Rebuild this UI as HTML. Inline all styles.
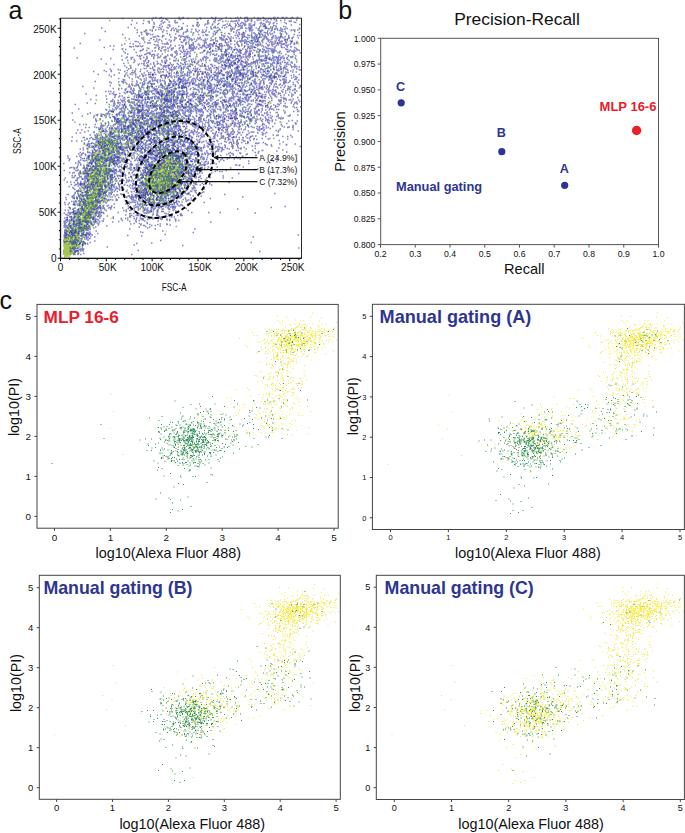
<!DOCTYPE html>
<html><head><meta charset="utf-8"><style>
html,body{margin:0;padding:0;background:#fff;width:685px;height:833px;overflow:hidden}
svg{display:block;font-family:"Liberation Sans", sans-serif}
</style></head><body>
<svg width="685" height="833" viewBox="0 0 685 833">
<g><path transform="scale(0.5)" stroke="#2e32a6" stroke-width="2.9" stroke-opacity="0.6" fill="none" d="M167 288h3m-13 104h3m3 28h3m37-55h3m-52 74h3m9-91h3m-4 109h3m59-135h3m-16 71h3m24-115h3m16 0h3m-62 36h3m-77 156h3m80-160h3m7-18h3m9 19h3m-105 145h3m22 13h3m54-180h3m-43-12h3m19 169h3m-54-21h3m68-67h3m-74 146h3m84-232h3m-75-23h3m122 67h3m-69 3h3m-82 115h3m35-151h3m-11 108h3m-1 43h3m55-228h3m-44 163h3m37-57h3m-60 123h3m55-109h3m-85 179h3m144-261h3m-137 22h3m-7 106h3m21 34h3m35-147h3m-22 30h3m3 123h3m-63 48h3m55-98h3m-28 46h3m-34 65h3m14 27h3m34-111h3m31-81h3m-33 109h3m-20-122h3m-61 152h3m138-182h3m-22-23h3m-48 144h3m-44 7h3m3 82h3m48-273h3m-20 161h3m-19-30h3m4-48h3m74 11h3m-148 158h3m58-137h3m30-57h3m-15 61h3m-9 3h3m-14 92h3m-32 74h3m28-188h3m10 52h3m31-66h3m-89 205h3m71-184h3m3-38h3m-31-8h3m-24 70h3m-39 118h3m4-69h3m68-2h3m-11 4h3m-22-66h3m29 5h3m-88 178h3m41-93h3m39-91h3m-105 113h3m-7-10h3m42-68h3m25 9h3m-35-106h3m38 166h3m-22-40h3m0 16h3m48-18h3m-102 15h3m29 73h3m-22-23h3m48-109h3m0 45h3m-58 15h3m35-45h3m-4 28h3m-18-20h3m27 32h3m-66-11h3m66-51h3m-72 81h3m39 21h3m-26-39h3m113-135h3m-107 152h3m-31-4h3m42-148h3m-72 104h3m45-46h3m-13 7h3m-37 78h3m83-68h3m-41 89h3m-42 63h3m44-88h3m-34 45h3m56-189h3m-76 152h3m51-13h3m10-4h3m-39-7h3m83-49h3m-103-25h3m60-1h3m-16 95h3m-11-123h3m-42 33h3m-1 58h3m-11 84h3m20-74h3m81-106h3m-56-36h3m-36 53h3m-24 20h3m4 9h3m-23 34h3m12-39h3m2 182h3m-12 7h3m30-82h3m-18-63h3m59-43h3m-27 31h3m-71 92h3m148-194h3m-115 33h3m35 40h3m-29 106h3m-45 41h3m36-191h3m-12 129h3m-25 62h3m-23 21h3m63-222h3m-21 86h3m-23 69h3m68-165h3m-92 100h3m-5-13h3m88-61h3m-100 58h3m50-18h3m1 90h3m13-95h3m-17-27h3m4 41h3m29-32h3m-78 167h3m30-128h3m-47 87h3m43-81h3m28-29h3m-59 178h3m54-269h3m-51 197h3m-27-18h3m42-91h3m-17 8h3m64-55h3m-75 74h3m13 32h3m-27-39h3m-35 82h3m30-118h3m19 73h3m-4-70h3m29 53h3m-14-84h3m-12 101h3m-33-19h3m-11 3h3m32-72h3m22 107h3m-63 64h3m-11-100h3m34-56h3m4 32h3m5 52h3m-20-41h3m-72 147h3m-2-29h3m37-32h3m48-55h3m-25-137h3m22 67h3m-16-41h3m-73 214h3m70-135h3m-27-60h3m20 138h3m-2 5h3m-59-88h3m59-54h3m-42 62h3m-3 90h3m74-139h3m-80 14h3m-28 52h3m-7 93h3m16-73h3m-27 91h3m39-221h3m25 31h3m-95 169h3m63-143h3m40 35h3m-47-80h3m65-10h3m-38 100h3m-1-53h3m-67 137h3m-5-9h3m28-24h3m-36 102h3m49-163h3m12 2h3m-98 117h3m86-202h3m-2 121h3m3-3h3m-62 5h3m56-66h3m-99 144h3m29-82h3m46-11h3m-60 144h3m53-158h3m-10 43h3m-74 47h3m58-157h3m16 22h3m-35 7h3m-27 125h3m33-17h3m-6-145h3m52 6h3m-98 64h3m47-109h3m-30 97h3m61-30h3m-35-6h3m-35 54h3m-25 22h3m59-27h3m-61 40h3m39-84h3m-70 131h3m54-150h3m23 2h3m20 23h3m-104 105h3m-1 31h3m78-113h3m-12 35h3m1 10h3m-21-95h3m-21 174h3m-34-30h3m22-56h3m-35 53h3m71-155h3m-26 131h3m-28 108h3m68-240h3m-3 41h3m-56 42h3m-24 124h3m3-32h3m-16-30h3m21 78h3m-36 21h3m26-135h3m-32 79h3m14 19h3m44-99h3m-43 56h3m-18-18h3m-25 22h3m77-154h3m20 11h3m-95 88h3m44-9h3m-6-51h3m4 0h3m-58 140h3m19-56h3m10 75h3m3-167h3m12 108h3m-13-36h3m33-65h3m-90 107h3m93-113h3m-73 46h3m120-122h3m-95 141h3m-50 70h3m129-149h3m-108 176h3m7-131h3m10 111h3m6-71h3m24-40h3m-10 2h3m-55 90h3m66-97h3m-84 19h3m-24 94h3m47-198h3m44 77h3m-20-21h3m-67 35h3m15 56h3m-33 53h3m31-121h3m13 93h3m-44 20h3m8-56h3m39-31h3m-11-65h3m-16 109h3m-27-30h3m-19 99h3m89-116h3m-80 60h3m-1-101h3m-30 145h3m74-182h3m-56 144h3m83-123h3m-10-52h3m-93 204h3m107-126h3m-88-3h3m-13 95h3m-32-23h3m27 2h3m-13-50h3m16 2h3m57-17h3m-22 106h3m-34-3h3m-13 32h3m30-232h3m-46 145h3m4-32h3m31-46h3m30 9h3m0-12h3m-96 173h3m58-199h3m-49 217h3m63-155h3m-32-50h3m16 60h3m-10-3h3m-26-72h3m-52 187h3m18-80h3m72 19h3m-91 100h3m21-179h3m68-13h3m-71 177h3m16-36h3m-37-42h3m21-34h3m6-79h3m-3 131h3m65-148h3m-107 228h3m13-39h3m4-59h3m8-122h3m37 38h3m-63 48h3m-41 92h3m27 45h3m0-12h3m-14-130h3m3 71h3m35-38h3m-56 6h3m36 54h3m-12-74h3m-17 16h3m28 30h3m-13 8h3m57-112h3m-70 43h3m-7-16h3m37-69h3m-49 82h3m7 4h3m-20 68h3m-33-88h3m58-36h3m-29-23h3m28 18h3m78-61h3m-149 238h3m103-232h3m13 65h3m-76 5h3m-41 101h3m-7 54h3m18-47h3m-14 15h3m32-67h3m24-21h3m-52-25h3m17-34h3m-21 211h3m40-126h3m-10 50h3m-46-1h3m60-141h3m-3-61h3m-89 172h3m32-58h3m49 9h3m-91 131h3m93-156h3m-25 104h3m13-129h3m-80 173h3m64-136h3m-11-22h3m26-21h3m-51 22h3m-34 181h3m1-121h3m74-43h3m-34 49h3m-45-80h3m81-3h3m-97 121h3m61-64h3m-87 103h3m11 19h3m81-131h3m-15-44h3m-44-71h3m-19 211h3m38-60h3m24-50h3m-84 62h3m55-18h3m-20-12h3m-36 142h3m37-163h3m-21 97h3m-28 66h3m10-145h3m17 60h3m9-19h3m-33 92h3m-20-43h3m67-171h3m15 50h3m-29 15h3m-19-32h3m62 0h3m-111 167h3m-13-43h3m92-180h3m-82 164h3m-26 35h3m113-142h3m-110 185h3m27-154h3m12-33h3m22 103h3m-47-37h3m38-16h3m-58 118h3m11-130h3m-30 117h3m20-59h3m55-138h3m-71 242h3m26-206h3m35 20h3m-58 147h3m23-24h3m-16-23h3m-1-59h3m20 61h3m-3-130h3m-81 156h3m65-139h3m57-24h3m-37 51h3m-34-9h3m-41 6h3m50-36h3m2-9h3m22 27h3m-1-57h3m-91 198h3m-5 13h3m74-239h3m-69 161h3m26 40h3m-32 15h3m57-63h3m4-49h3m-22 101h3m30-113h3m4-72h3m28 49h3m-94 30h3m-15 22h3m26 88h3m-5-127h3m-25 17h3m39-62h3m-48 49h3m35-16h3m-66 162h3m52-38h3m-75 16h3m34-14h3m10-72h3m11-48h3m-2-16h3m-16 88h3m23-59h3m-7-18h3m16 79h3m-56 43h3m14-2h3m-4 14h3m-26-74h3m-29 87h3m101-202h3m-83 145h3m33-147h3m-36 222h3m-24-5h3m64-95h3m14-153h3m-59 173h3m-45 101h3m-5 7h3m69-236h3m-34 121h3m-22-47h3m28 102h3m4 25h3m-22-111h3m-5 92h3m-3-35h3m16-108h3m72-17h3m-101 48h3m90-105h3m-77 53h3m49-50h3m-52 209h3m32-57h3m-7-97h3m-27 53h3m45-78h3m-101 223h3m117-202h3m-126 184h3m-16-23h3m18-80h3m5 15h3m-32 123h3m79-189h3m-58 58h3m18-53h3m21 116h3m-25-38h3m-36 24h3m49-26h3m-8 20h3m-2-47h3m-29 2h3m92-99h3m-104 211h3m87-189h3m-26 71h3m-44 73h3m-46 59h3m49-63h3m5-15h3m-48-94h3m102-45h3m-51 110h3m26-85h3m-93 167h3m65-23h3m6-138h3m-98 39h3m78 13h3m-62 151h3m38-195h3m0 4h3m-12-38h3m1 0h3m33 21h3m-68 111h3m47-13h3m-17-106h3m-72 80h3m48 109h3m-48-88h3m52-81h3m29-49h3m-85 143h3m-2 95h3m-18-40h3m30-45h3m-42 31h3m14-52h3m-20 90h3m58-118h3m41-152h3m-25 167h3m-82 89h3m65-56h3m47-150h3m-18 35h3m-66 149h3m3 2h3m-5-147h3m-10 183h3m-38-36h3m48-112h3m-11 129h3m-20-20h3m8-32h3m-22 11h3m29-105h3m37 2h3m-36-52h3m-18 194h3m-23-111h3m83-49h3m-64 1h3m58-2h3m-106 147h3m38-22h3m10 15h3m-3-19h3m-25-16h3m-26 60h3m-5-20h3m26-101h3m-20 107h3m44-177h3m-13 134h3m-1 18h3m-50-63h3m-11 65h3m20 21h3m24-179h3m-39 142h3m21-97h3m-3 28h3m1 22h3m-8-32h3m-15 103h3m-10-47h3m11 15h3m29-101h3m-24 135h3m61-187h3m-46 75h3m-32 42h3m8-84h3m-34 210h3m90-256h3m-94 98h3m55-46h3m8 36h3m-74 78h3m3 88h3m36-209h3m-68 117h3m46-110h3m-61 140h3m21 61h3m41-172h3m14 76h3m-7-92h3m-63 174h3m22-102h3m39-32h3m-29 105h3m1-102h3m-21-70h3m17 148h3m-18-74h3m-50-44h3m87-26h3m9 27h3m-90 158h3m7 28h3m31-199h3m-12 4h3m16-31h3m-15 153h3m44-139h3m-52 39h3m-34 64h3m33-69h3m-2 84h3m4-151h3m-42 194h3m49-72h3m1 4h3m41-91h3m-44 54h3m-68 67h3m72-107h3m-62-25h3m57 99h3m-60-65h3m-23 36h3m8 116h3m-3-13h3m47-119h3m-61 146h3m-28-6h3m54-51h3m-57-100h3m16 59h3m48-21h3m-41 7h3m20 77h3m-52 5h3m5-17h3m39-148h3m22 21h3m2 90h3m-66-79h3m8-66h3m-14 213h3m16-3h3m-20-199h3m31 181h3m-22 25h3m-33-31h3m66-102h3m-9-69h3m-43 172h3m-42 42h3m52-44h3m50-72h3m-83 124h3m-17-151h3m6 149h3m50-200h3m-25 133h3m1 28h3m1-170h3m-5 82h3m25 14h3m-32-131h3m24-11h3m-62 234h3m14-201h3m-13 158h3m116-189h3m-115 90h3m57-37h3m-62 93h3m-6 50h3m-20 48h3m30-81h3m7 54h3m50-125h3m-83 33h3m-34-38h3m36 105h3m-53 60h3m43-17h3m61-218h3m-31 30h3m-8 68h3m-19 24h3m-33 31h3m11-24h3m51-127h3m-61 110h3m61-44h3m-79 130h3m-8-17h3m56-125h3m-29 70h3m-41 3h3m78-28h3m4-16h3m-19 67h3m-65 54h3m73-158h3m-63 146h3m-16 58h3m48-139h3m7-92h3m-3 149h3m-37 38h3m-38 30h3m-7-37h3m51-198h3m41 43h3m-117 151h3m71-59h3m-28-59h3m1 112h3m-49 4h3m74-44h3m-68 49h3m79-58h3m-61 90h3m31-84h3m-82 110h3m40-175h3m25-48h3m-45 217h3m-5 6h3m59-242h3m-22 96h3m31-31h3m-31 56h3m15-74h3m-62 158h3m38-128h3m-48-11h3m49 52h3m2-8h3m-56-5h3m32 59h3m-28 48h3m11-128h3m35 7h3m-77 39h3m86-35h3m-65 97h3m3-133h3m10 113h3m-27 33h3m-12-173h3m4 89h3m-48 61h3m68-31h3m-47-50h3m-2-37h3m89 6h3m-60-2h3m31 31h3m-68 114h3m9-59h3m50-118h3m-68 71h3m69-112h3m-6-3h3m-6 80h3m-24 62h3m-32 82h3m-26-167h3m94-12h3m-37 70h3m-33-66h3m4 3h3m46 26h3m-70 135h3m-4-91h3m79-124h3m-103 134h3m22-34h3m59-37h3m-102 38h3m45 21h3m-22-22h3m-8-7h3m-36 95h3m41 22h3m13-144h3m4 40h3m5-86h3m9 83h3m-69-33h3m58-47h3m-63 156h3m48-74h3m9 33h3m-95 60h3m66-59h3m-33 81h3m69-244h3m-50 181h3m26-68h3m-56 25h3m6-41h3m14 23h3m-58 137h3m23-180h3m44 19h3m-15-51h3m-67 114h3m93 12h3m-25-114h3m8 93h3m-23-65h3m-44 90h3m-31 82h3m78-137h3m-26 91h3m-23-86h3m10-61h3m-28 147h3m-33 13h3m29 25h3m23-112h3m16-45h3m-49 165h3m40-209h3m57 49h3m-63 94h3m17-104h3m-97 164h3m87-95h3m1-35h3m-2-61h3m-2 95h3m-57 66h3m0-160h3m-47 172h3m100-184h3m-29 163h3m-54 66h3m72-163h3m-45 57h3m39-143h3m-67 196h3m9-163h3m5 152h3m-29 27h3m75-151h3m-46 147h3m-13-190h3m-28 163h3m57-119h3m-9 82h3m-20 1h3m-58 22h3m23-104h3m6 59h3m97-137h3m-150 217h3m25-115h3m8 55h3m2-14h3m51-12h3m-20 14h3m-85 76h3m81-13h3m-51-62h3m42-90h3m-29 14h3m-28 127h3m30-109h3m-23 53h3m42-78h3m-21 105h3m-18-117h3m23 97h3m-10-142h3m-39 208h3m28-132h3m-29 152h3m-36-33h3m14 11h3m41-84h3m-41 36h3m-11 68h3m-1-69h3m37 6h3m-45 38h3m52-140h3m-54 111h3m-14 3h3m14 40h3m12-42h3m14-119h3m10 115h3m-11-154h3m-68 198h3m12-8h3m91-136h3m-5-58h3m-75 122h3m1-22h3m-26 117h3m77-136h3m-80 154h3m50-197h3m-29 68h3m-26-21h3m-15 58h3m56-124h3m7 23h3m-55 113h3m19-5h3m51-68h3m-112 97h3m36-94h3m-3 27h3m-37-57h3m-2 115h3m102-178h3m-32-33h3m-40 241h3m34-125h3m-58 128h3m-15-46h3m40-23h3m82-121h3m-51 69h3m-29-56h3m-10 21h3m-7 166h3m-32 24h3m34-83h3m26-98h3m-24 63h3m-45 99h3m41-91h3m-76 47h3m-5 16h3m129-205h3m-118 90h3m24-3h3m37-63h3m-64 141h3m1 47h3m12-89h3m-34 68h3m19 16h3m31-194h3m51 64h3m-72 147h3m-36 32h3m-9-19h3m72-134h3m-16 62h3m14-42h3m-17 35h3m35-137h3m-75 20h3m60 75h3m-102 100h3m11-54h3m77-110h3m-89 67h3m51-82h3m51 22h3m-66 116h3m34-28h3m-105 85h3m53-81h3m-48 70h3m19-104h3m46 3h3m14-63h3m-83 52h3m93-103h3m-27 56h3m-31 84h3m-17-75h3m-50 160h3m-2 5h3m2-56h3m16 45h3m-26 6h3m58-76h3m33-55h3m36-47h3m-93-4h3m41 28h3m-45 46h3m-10 56h3m-48 49h3m29-77h3m34-56h3m-6 83h3m-22-43h3m-14 33h3m26-146h3m-12 58h3m-19 158h3m23-174h3m-64 192h3m-7-42h3m70-189h3m-17 177h3m-6-42h3m-59-1h3m120-84h3m-43 77h3m-48 62h3m73-173h3m-44 110h3m-66 31h3m113-101h3m-90-52h3m16 110h3m30-34h3m-53 107h3m-19-100h3m67-47h3m-28 58h3m-63-33h3m24 131h3m28-185h3m-14 169h3m-33-61h3m10 96h3m76-183h3m-122 166h3m39-9h3m12-109h3m-49 129h3m64-141h3m3-7h3m-27 6h3m54-62h3m-77 178h3m-6-117h3m27 87h3m27-132h3m-66 44h3m32 17h3m-11-35h3m-25 38h3m54-27h3m-69 126h3m17-39h3m-35-30h3m30 35h3m-31-35h3m62-94h3m-35 72h3m-28 134h3m11-91h3m12 12h3m14-33h3m-13 58h3m18-77h3m-27 30h3m-48 58h3m49-222h3m-55 224h3m91-120h3m-97 106h3m10-53h3m2-110h3m-17 88h3m5 59h3m42-128h3m-1 50h3m9 66h3m-50 39h3m16-28h3m-42 37h3m-2 11h3m-8 27h3m-21-36h3m-3-25h3m45 33h3m-3-41h3m-44-7h3m26-161h3m6 140h3m-18 80h3m-5-54h3m39-34h3m21-6h3m-43-70h3m-47 145h3m74-137h3m-49 49h3m-30 108h3m-8 13h3m-9 5h3m85-260h3m10 100h3m-74 27h3m11-33h3m-8-5h3m65 35h3m-88 55h3m70-134h3m-58 98h3m71-108h3m-108 193h3m52-65h3m-54-54h3m92-34h3m-37-59h3m-65 131h3m46-98h3m26 5h3m-99 171h3m41-71h3m-9 27h3m5-113h3m-3 92h3m88-97h3m-120 116h3m38-90h3m13 47h3m-77 89h3m28-26h3m83-93h3m-111 88h3m94-105h3m-102 96h3m26-74h3m46-70h3m-30 30h3m-35 164h3m97-245h3m-113 138h3m-8 77h3m48-9h3m14-65h3m-13-34h3m-26 79h3m-12-111h3m-7 67h3m-29 41h3m77-22h3m-48-89h3m88-46h3m-121 175h3m73-75h3m-19 10h3m-47 34h3m11-32h3m-4 95h3m8-121h3m-47 48h3m12 4h3m17-102h3m5-30h3m37-57h3m-15 68h3m-68 153h3m-8-83h3m89-30h3m-46 2h3m37-26h3m2 14h3m-30 78h3m-20-25h3m-13 92h3m40-147h3m-36 112h3m37-133h3m-83 160h3m62-161h3m-87 189h3m76-125h3m-45 39h3m-4 85h3m-4-113h3m34-65h3m-6-4h3m-32 144h3m17-28h3m-24 44h3m94-175h3m-85 159h3m31-114h3m8-27h3m-57 177h3m64-174h3m-88 14h3m86-50h3m-28 83h3m-80 145h3m53-183h3m-51 47h3m60-8h3m-58 128h3m18-56h3m-35 67h3m-12-32h3m83-219h3m-89 198h3m78-100h3m-66 43h3m81-133h3m-22 32h3m-77 62h3m62 62h3m-35-84h3m-56 177h3m-8-5h3m68-199h3m-20 3h3m2 149h3m-23-79h3m-25 150h3m2-46h3m38-140h3m4 20h3m-49 58h3m82-18h3m-40-86h3m-12-3h3m15 37h3m-10 23h3m-56-25h3m-9 142h3m52-192h3m-36 231h3m21-213h3m-62 159h3m94-191h3m-59 193h3m-39-30h3m77-36h3m22-56h3m-17-15h3m-51-48h3m3 180h3m46-197h3m9 45h3m-22 110h3m1-50h3m-13 20h3m-28-81h3m-23 146h3m-21 38h3m37-133h3m3-6h3m21-80h3m1 59h3m-11 49h3m-60-36h3m-2 30h3m38 33h3m1-15h3m34-26h3m-41-18h3m-57 38h3m57 1h3m-14 39h3m-69-47h3m92-94h3m-34 29h3m-2 75h3m-80 30h3m32 44h3m80-165h3m-76 93h3m51-97h3m8 27h3m-95 96h3m84-167h3m-26 108h3m-49-48h3m20 144h3m-16-103h3m-22-19h3m65-26h3m-98 165h3m136-183h3m-9 23h3m-109 92h3m5-1h3m33 28h3m7-116h3m-86 168h3m41-64h3m19 17h3m-45 65h3m89-167h3m-88 53h3m7 2h3m-34 86h3m6-29h3m104-103h3m-128 141h3m64-178h3m-18 38h3m51-50h3m-22 59h3m-35 106h3m36-73h3m-20 13h3m-79 62h3m97-117h3m-61 141h3m-19 29h3m-5-61h3m-16-78h3m7 62h3m22 6h3m8-138h3m-60 62h3m22 78h3m-7 15h3m104-172h3m-123 185h3m71-190h3m9 52h3m-59 151h3m-29-35h3m66-69h3m-42 42h3m22-9h3m-22-36h3m-35 84h3m-13 19h3m37-178h3m21 113h3m-30-8h3m32-73h3m-61 85h3m40-169h3m-10 38h3m-59 211h3m-5-20h3m33 2h3m2-102h3m61-27h3m9-84h3m-85 113h3m-2 75h3m50-145h3m-42 30h3m-32 140h3m110-190h3m-117 121h3m21 25h3m3 0h3m64-108h3m-85 72h3m60-169h3m-62 184h3m8-45h3m78-84h3m-36 10h3m-100 162h3m80-130h3m8 29h3m-51-46h3m39 62h3m41-25h3m-84 101h3m-55-15h3m92-145h3m12-22h3m-44 174h3m-26 54h3m66-258h3m-69 76h3m51-4h3m-18 100h3m-14-15h3m-45 61h3m32-52h3m73-168h3m-111 272h3m-15-138h3m-26 82h3m23-6h3m7 61h3m49-237h3m-56 225h3m153-133h3m57 43h3m-104-60h3m48 62h3m-20-77h3m-19-18h3m63 35h3m-26 96h3m45-50h3m-101-30h3m76 3h3m-96 90h3m84-81h3m-57-18h3m62 27h3m-103 56h3m43-146h3m-30 154h3m38-108h3m-11 16h3m-61 43h3m-13 44h3m103-35h3m-83 41h3m83-79h3m-33-44h3m27 16h3m-103 106h3m68-86h3m16-44h3m-41 15h3m89-78h3m-130 132h3m-24 41h3m58-111h3m-42 123h3m48-75h3m59-54h3m-49 22h3m22-33h3m-70 96h3m73-31h3m-123-6h3m-13 47h3m31-7h3m3-75h3m2 113h3m92-152h3m-117 67h3m113-58h3m-104 43h3m65 58h3m-50 53h3m-10-31h3m1-95h3m55-15h3m-38 49h3m-60 90h3m1-134h3m12 39h3m27-47h3m-44 115h3m91-171h3m-14 89h3m11-5h3m-68 83h3m-3-39h3m-40-22h3m7 41h3m98-60h3m-6-71h3m-32 116h3m-13-94h3m-120 111h3m74 28h3m-74-67h3m37-34h3m52 37h3m-4-49h3m39 122h3m-25-62h3m-11-68h3m-32 101h3m13 54h3m24-67h3m-16-18h3m27-59h3m-12-3h3m-19 93h3m-29-5h3m24-45h3m16 12h3m-97 8h3m59-33h3m-42 40h3m-18-39h3m-37 109h3m-43-28h3m134-23h3m41-22h3m-13-1h3m-115 7h3m2 19h3m13-25h3m-27 43h3m107-11h3m16-35h3m-119 84h3m-6-97h3m-17 61h3m34-22h3m-32-27h3m26-36h3m36 75h3m-58-55h3m-28 50h3m26-66h3m-31 49h3m54-38h3m55-2h3m-94-28h3m7 74h3m-6-31h3m22-67h3m-33 45h3m72 40h3m3-7h3m-37-90h3m21 43h3m-68 34h3m63-48h3m-48 130h3m70-136h3m-149 7h3m85 97h3m32-74h3m-86 14h3m-20 48h3m39 1h3m95-127h3m-132 107h3m-17 41h3m59-41h3m-54 53h3m112-85h3m-20 7h3m-89 39h3m-20 15h3m7-38h3m-11-30h3m36 71h3m-25-39h3m58 20h3m-81 21h3m72-38h3m-35 27h3m80-96h3m-79 77h3m-47 35h3m50-140h3m32 96h3m-117 42h3m-17 26h3m91-46h3m-62 27h3m21-27h3m-30-3h3m-51 48h3m117-131h3m-21 88h3m11-76h3m-11 47h3m65-8h3m-52 15h3m-5-88h3m-23 149h3m-19-48h3m-45-9h3m72-29h3m-19 81h3m27 0h3m-43 6h3m43-141h3m-8 69h3m-77 21h3m-47-25h3m101 21h3m-31-74h3m-56 107h3m43-13h3m37-51h3m-66-5h3m12-41h3m71 88h3m-75 46h3m-45-68h3m84 23h3m25-78h3m-12 104h3m-25-131h3m26 44h3m-87-67h3m97 50h3m9 56h3m-86-58h3m-41 84h3m59-120h3m-85 75h3m22 46h3m-18 18h3m19-76h3m-13 65h3m53-17h3m-112-66h3m160-10h3m-110 93h3m-37-56h3m45-29h3m41-35h3m-63-8h3m73 75h3m-40-30h3m8 99h3m-6-35h3m-102 11h3m16-9h3m69-66h3m-65 78h3m-17 9h3m102-61h3m7-71h3m35 43h3m-104 48h3m58-20h3m-66 76h3m112 3h3m-90 44h3m-36-126h3m-52 50h3m183-59h3m-183 37h3m68-65h3m-14 117h3m36-176h3m-19 139h3m-93 35h3m40-71h3m-23 55h3m24-46h3m77-25h3m-161-27h3m78 61h3m9-47h3m-63 14h3m36 91h3m45-44h3m-16-131h3m70 28h3m-91 98h3m-3-44h3m24-33h3m-73 190h3m53-157h3m-65 29h3m3-26h3m60 78h3m-58-54h3m83 11h3m7-61h3m-61 125h3m-2-110h3m-53 46h3m-1 62h3m-10-1h3m26-119h3m-11 52h3m-26-20h3m116 2h3m-25 44h3m-72 0h3m90-103h3m-32 39h3m-56 72h3m-17 38h3m5-112h3m-5 12h3m-14 44h3m1-14h3m18 84h3m8-22h3m17-125h3m-61 57h3m49-48h3m2 31h3m4 65h3m72-71h3m-42 50h3m-41-84h3m-74 57h3m65 18h3m-71 25h3m3-23h3m103-67h3m-64 82h3m53-59h3m-57 3h3m22-48h3m-18 38h3m100-124h3m-74 107h3m-101 33h3m27 71h3m-2-1h3m23 65h3m-23-70h3m70-56h3m-29 1h3m-96 84h3m124-81h3m-100 34h3m88 28h3m-30-129h3m9 51h3m-42-53h3m27 13h3m-39 134h3m85-103h3m-56 88h3m-67 29h3m-16-123h3m76-12h3m5 19h3m-70 66h3m-1 20h3m-9-56h3m-7 57h3m16-96h3m36-51h3m-4 65h3m9-44h3m23 86h3m-112 3h3m102-106h3m-94 144h3m-38 14h3m92-54h3m33-24h3m-110-6h3m79-31h3m-43-16h3m24-22h3m-47 127h3m17-3h3m-42-30h3m36-56h3m85 4h3m-82 84h3m-48 29h3m89-136h3m-115 91h3m93-12h3m-65-74h3m82 0h3m-61 98h3m22-33h3m-2-18h3m-37 56h3m-79-43h3m80 32h3m-100-30h3m187-36h3m-64-28h3m60 62h3m-35-2h3m-83 46h3m85-77h3m-88 123h3m61-57h3m-2-54h3m9 29h3m-118 21h3m20 5h3m57-112h3m-94 82h3m21 53h3m107-82h3m-17-68h3m-135 145h3m39-114h3m71-24h3m-40 15h3m-27 52h3m47 15h3m33 5h3m-150-8h3m158-31h3m-131-17h3m29 86h3m-8 25h3m46-63h3m6-10h3m-78 29h3m2-73h3m77-2h3m-84 73h3m-33 21h3m91-24h3m35-116h3m-7 97h3m-53 58h3m38-122h3m-15 76h3m12-93h3m18 8h3m-117 75h3m70-58h3m-36 110h3m-30-30h3m-34-33h3m76 59h3m52-80h3m-116-2h3m-39 108h3m130-92h3m-147 0h3m41 10h3m-15-20h3m-25 30h3m108-39h3m3 12h3m-65 47h3m-60-43h3m125-39h3m-41 77h3m-6 58h3m-60-106h3m37 10h3m-87 100h3m76-72h3m29-54h3m26 42h3m-92 67h3m-10-55h3m-40 4h3m42 78h3m27-28h3m19-26h3m17-140h3m13 69h3m22-39h3m-33 117h3m-32 19h3m-23-113h3m76-12h3m-135 55h3m-7 21h3m103-74h3m-108 39h3m102 13h3m-49-46h3m22 72h3m-34 38h3m-39-40h3m-24 48h3m64-95h3m-65 111h3m36-153h3m-1 116h3m1-123h3m20 104h3m-31-44h3m-24 47h3m67 26h3m-62-3h3m-34-70h3m101 24h3m-71 19h3m-39 45h3m101-100h3m-66 4h3m17 26h3m-9-49h3m-33 69h3m75 34h3m-18 20h3m-20-61h3m-99-6h3m52 62h3m8-51h3m74 4h3m-137 41h3m138-151h3m-116 134h3m-21-39h3m38 33h3m70-43h3m-42 38h3m-5 50h3m61-130h3m-101 50h3m-24-35h3m95 19h3m-72 31h3m78-79h3m-95 124h3m3-102h3m23 37h3m-65 2h3m100-71h3m-61 9h3m4 12h3m109-4h3m-112 34h3m-54 84h3m6-73h3m56-20h3m-30 5h3m-2 104h3m42-134h3m-72 5h3m-11 39h3m46-34h3m26 80h3m-78 27h3m60-152h3m36 100h3m-37-48h3m-39 83h3m-41-37h3m3-35h3m22-37h3m-35 53h3m91-15h3m-98 41h3m139-2h3m-23-70h3m-132 14h3m42-45h3m26 129h3m-40-130h3m-10 74h3m59 17h3m17 33h3m29-134h3m-113 18h3m-42 29h3m62-15h3m43 78h3m-46 17h3m-32 20h3m-29-13h3m75-42h3m-81 79h3m-28-74h3m105-12h3m5-38h3m-16 4h3m-30 139h3m-68-54h3m100 5h3m6-112h3m-112 123h3m23-86h3m-14 64h3m-15-60h3m8 58h3m49-44h3m64-90h3m-48 65h3m-63 50h3m-19 22h3m-63 23h3m169-114h3m-43 24h3m15-4h3m-95 63h3m60-13h3m-60-33h3m98 38h3m-24-85h3m46 19h3m-77-16h3m57 101h3m-107 7h3m15 1h3m46-98h3m-65 22h3m19 74h3m-64 6h3m93-22h3m-56 14h3m24 53h3m-46 4h3m76-83h3m13 95h3m-49-84h3m31-61h3m43-30h3m-172 140h3m15-29h3m75-89h3m72-57h3m-98 147h3m2-9h3m-47 33h3m108-160h3m-19 66h3m-24 63h3m-137 20h3m32 4h3m66-131h3m66 42h3m-59-45h3m-64 123h3m15-122h3m-30 89h3m92-11h3m-133-11h3m108-5h3m-41-38h3m3 24h3m29 24h3m-39-83h3m-29 64h3m-32-5h3m45 32h3m5 44h3m-19-60h3m41 27h3m-25 19h3m29-90h3m-12 111h3m58-153h3m-108 42h3m65 27h3m-73 46h3m-23-21h3m-18-29h3m104 26h3m-81 78h3m94-94h3m-87 81h3m5-25h3m-45 36h3m70-170h3m7 170h3m-121-53h3m87 35h3m-50-42h3m106-47h3m-28 107h3m-86 19h3m168-109h3m-221 10h3m70 26h3m2-31h3m43 23h3m-80-3h3m48 66h3m-44-95h3m58 46h3m61-59h3m-55 3h3m-30 18h3m43 38h3m-22 1h3m-69-53h3m93 8h3m-6-83h3m-58 158h3m5-96h3m-20 62h3m-6 10h3m64-39h3m-96 51h3m45-80h3m-66 33h3m91-123h3m-112 215h3m65-128h3m-74 57h3m48 66h3m-4-68h3m71-31h3m-21 38h3m-54 12h3m-38 7h3m12-49h3m0 64h3m-18-135h3m-32 178h3m86-66h3m-26 6h3m-15 0h3m-43-108h3m54 25h3m-38 70h3m53-114h3m-42 107h3m45-26h3m41-38h3m-61 30h3m26 34h3m-89 64h3m2-22h3m2-92h3m75-30h3m-136 48h3m34-18h3m40 90h3m-30-72h3m50 11h3m-16 62h3m23-43h3m-15-19h3m-76 24h3m80-109h3m-89 80h3m27 52h3m62-52h3m-22 40h3m76-53h3m-154 42h3m98-11h3m-70 61h3m-63-36h3m26 53h3m100-106h3m-55 69h3m-2 29h3m-40-45h3m99-41h3m-53-9h3m21 2h3m-67-37h3m49 33h3m-96 24h3m7-7h3m8-124h3m26 83h3m-46 73h3m37-56h3m47-2h3m-81 34h3m54 46h3m-9-7h3m35-65h3m21 21h3m5-24h3m-63 51h3m-17-66h3m-42 15h3m10 80h3m-30-16h3m39-23h3m28 6h3m-56-40h3m-33 95h3m88-112h3m-54 4h3m43 108h3m18-56h3m-33 28h3m-33 20h3m26-74h3m-21-61h3m66-32h3m-138 123h3m119-37h3m-104-3h3m-12 58h3m80-38h3m-62 80h3m108-126h3m-66 63h3m-49-43h3m-17 108h3m63-123h3m5 103h3m-87-114h3m97 39h3m-88-23h3m-24 76h3m90-89h3m-14-5h3m29 13h3m24-5h3m-96 40h3m62 15h3m-71 28h3m-46-72h3m14 69h3m-6 0h3m-30-64h3m24 53h3m60-110h3m-22-3h3m-29 130h3m24-4h3m61-121h3m-75 152h3m31-120h3m-59-12h3m-23 81h3m55-42h3m12-25h3m-101 98h3m121-94h3m-108 179h3m44-130h3m-7-39h3m-3-3h3m76 13h3m-32-22h3m-62 67h3m-54 7h3m114-34h3m-61 42h3m37-29h3m-66-41h3m-9 64h3m29 2h3m-45-78h3m80 64h3m-26-4h3m35-12h3m4 8h3m-52 40h3m66-70h3m14-18h3m-49-6h3m-65 14h3m19-35h3m-13 161h3m-39-105h3m97-7h3m-87 66h3m19-28h3m-80-36h3m75-104h3m-89 73h3m116-19h3m-42 13h3m-3 91h3m-55-14h3m30-57h3m-19 9h3m26 22h3m-31 52h3m73-74h3m-70 82h3m95-102h3m6 61h3m-55-32h3m-70 39h3m82 4h3m-13-89h3m-63 91h3m-10-20h3m51-79h3m-25 9h3m1 118h3m96-100h3m-115 29h3m8-74h3m-14 150h3m40-96h3m-47 114h3m34-168h3m-22 82h3m37 12h3m-56-69h3m-24 148h3m0-44h3m-62-37h3m67 56h3m9-96h3m15-17h3m12 17h3m-2 53h3m-74 17h3m39-2h3m14-20h3m-90-11h3m69-76h3m23 36h3m-16-56h3m11 66h3m-112 61h3m4-38h3m6-73h3m82 22h3m-40-20h3m-91 142h3m123-119h3m-26 37h3m16-7h3m-85-2h3m50-10h3m53 12h3m-58 91h3m112-138h3m-117 64h3m33-28h3m-134-5h3m15 60h3m107 19h3m-79-6h3m74-40h3m17-78h3m-49 98h3m81-80h3m-24 79h3m-75 21h3m56-47h3m-77-10h3m-22 35h3m41-123h3m-60 137h3m70-18h3m-71-17h3m25 52h3m77-105h3m-31 62h3m-41 11h3m68-81h3m-16 8h3m-103 148h3m33-85h3m84-138h3m-29 76h3m-92 98h3m88-102h3m-101 108h3m139-92h3m-23 68h3m-93-86h3m33 34h3m-110 16h3m144-17h3m-116 28h3m81 42h3m10-91h3m-84-3h3m39-9h3m-59 127h3m41-93h3m9-18h3m-27 91h3m87-123h3m-70-9h3m11 46h3m-34-38h3m-19 70h3m37 11h3m-82 56h3m52-110h3m-1 104h3m28-29h3m-3-58h3m64-36h3m-113 60h3m63 32h3m-53 64h3m28-71h3m-66-28h3m80-19h3m-81-10h3m-38 84h3m36-75h3m69-51h3m-7 100h3m10-60h3m-97 65h3m-42 33h3m77-35h3m34-83h3m9 80h3m-44-41h3m87-81h3m-122 143h3m97-62h3m-62 47h3m-33 9h3m-19 5h3m25-69h3m44 48h3m-35-46h3m-66 69h3m59-25h3m4 59h3m-23-123h3m-13 91h3m-45-19h3m114-118h3m-116 77h3m13-23h3m46 54h3m-55 54h3m50-25h3m-64-38h3m111-120h3m-74 68h3m42-59h3m-62 111h3m64-61h3m-123 102h3m67-19h3m-122 20h3m108-86h3m-13 80h3m-31-34h3m103-37h3m4 12h3m-142 93h3m33 22h3m81-127h3m-118 62h3m152-25h3m-157 27h3m2-26h3m-4-27h3m23 84h3m74-95h3m-63-8h3m-1-45h3m17 18h3m-9 139h3m-36-29h3m72-112h3m-34 149h3m36-97h3m-94-4h3m98-8h3m-101 60h3m7-52h3m-42 87h3m93-92h3m51 26h3m-177 8h3m46 26h3m7-11h3m34-59h3m-32-21h3m48 106h3m-77-95h3m-26 76h3m114-21h3m-115 139h3m89-132h3m-59-12h3m58-41h3m12-24h3m19 55h3m-88 6h3m42-14h3m104-101h3m-176 118h3m-43-13h3m45 72h3m18-95h3m38 82h3m-26 14h3m23-80h3m-83 19h3m83-53h3m-91 64h3m84-21h3m-106 25h3m95 11h3m-34 44h3m-14-108h3m95 72h3m-37-18h3m-102-6h3m47-81h3m-69 109h3m61-28h3m27-23h3m-69 57h3m-70-33h3m128 36h3m-102-10h3m-3-107h3m-6 155h3m39 38h3m40-191h3m23 86h3m-3-47h3m-91 19h3m44 57h3m51-81h3m-25 16h3m-36 33h3m27 0h3m-4 34h3m-114-42h3m71-34h3m39-9h3m36 14h3m-51 21h3m-96 58h3m27-86h3m92 43h3m-92 60h3m-68-62h3m72-43h3m25 65h3m30-71h3m3 34h3m-109 7h3m106-76h3m-73 31h3m30 66h3m20-79h3m-70 75h3m-26 46h3m24-26h3m12-74h3m-25 28h3m-45 25h3m110 8h3m-18-65h3m-49 86h3m90-112h3m-88-13h3m22 56h3m11 99h3m-21-4h3m19-81h3m-12-23h3m-40-3h3m5-4h3m-15 64h3m-55 3h3m121-6h3m-70-73h3m67 25h3m-17-10h3m-22-41h3m1 150h3m7-125h3m-3 75h3m-71-108h3m-26 93h3m43 45h3m27-57h3m-11 41h3m-49-32h3m-29 24h3m121-92h3m-11-19h3m-72 66h3m65-16h3m-20-53h3m28 59h3m-104 105h3m8-103h3m14 73h3m29-125h3m-65 35h3m25 23h3m-42 116h3m9-85h3m79-80h3m-55 124h3m22-14h3m-77-31h3m103-76h3m-11-54h3m-3 95h3m-21 44h3m-51-25h3m-29 70h3m9-104h3m14-34h3m-54 79h3m45-2h3m-50 57h3m64-5h3m-35-154h3m45 108h3m-27-29h3m-65 14h3m56 61h3m-46-58h3m27 29h3m54-44h3m-10 53h3m-17 14h3m-68 70h3m39-164h3m79-11h3m-46 7h3m15 35h3m-84 32h3m-13 17h3m101-54h3m-140-5h3m5 48h3m31 5h3m11 38h3m43-73h3m-77-6h3m71 60h3m-35-10h3m27-152h3m-63 57h3m52-15h3m-37 47h3m-29 26h3m60 52h3m43-56h3m-102 36h3m15-33h3m72-49h3m-98 85h3m55 1h3m-127-5h3m6 0h3m130-113h3m18 58h3m-86 68h3m25-6h3m12-74h3m25-16h3m-87 67h3m77 19h3m-96-43h3m33 17h3m-33 88h3m-6-116h3m50 57h3m-34 2h3m53-123h3m11 81h3m-33-36h3m-45 15h3m-33 44h3m62 12h3m44-92h3m-97 80h3m96-66h3m-5 42h3m-100-5h3m-40-26h3m109 78h3m-82-28h3m21-46h3m84-30h3m-95 0h3m0 33h3m91-5h3m-143 61h3m-7 11h3m61-100h3m-43 69h3m71-85h3m-77 76h3m95-29h3m-118 28h3m95-86h3m-9 122h3m-104 1h3m42-5h3m-79-20h3m77-30h3m-9-60h3m88 46h3m-111 104h3m91-146h3m-32-9h3m14 120h3m41 1h3m-102-35h3m117-99h3m-95 115h3m42-104h3m-114 38h3m44 67h3m-69 36h3m5-95h3m101 49h3m30-17h3m-8-39h3m-81 105h3m35-108h3m34 63h3m-93 43h3m-22-36h3m72-16h3m-75 41h3m95-63h3m-34 88h3m-52-103h3m78 11h3m-75 105h3m31-90h3m-11 67h3m68-113h3m-172 57h3m35-12h3m-16-30h3m11 4h3m116 3h3m-89-31h3m64 22h3m-32 55h3m-46 55h3m44-33h3m-71-6h3m-11 18h3m-7-80h3m149-45h3m-136 88h3m-15-21h3m100 41h3m-73-95h3m80 43h3m-63-31h3m-56 121h3m53-27h3m2-66h3m-27 64h3m12-24h3m-60-12h3m66-65h3m3 21h3m-17-28h3m-58 29h3m-19 97h3m41-107h3m-33 0h3m98 32h3m-153 46h3m57-23h3m68-7h3m-94 46h3m-31 27h3m38-60h3m-26-46h3m87 14h3m55-40h3m-135 132h3m21-94h3m77 2h3m-149 76h3m162-124h3m-90 58h3m73-109h3m-22 35h3m-18 15h3m-14 65h3m26 11h3m-114 55h3m46-18h3m19-79h3m20-18h3m32 38h3m-37-31h3m-29 81h3m-90-26h3m-11 65h3m28-75h3m54-73h3m50 18h3m-64 101h3m63-61h3m-22-28h3m93-41h3m-140 67h3m-62 44h3m78-70h3m-128 30h3m49 89h3m-26-53h3m55 26h3m62-46h3m-73 44h3m-30-65h3m88-12h3m-16-10h3m-45 52h3m-51 4h3m107 4h3m-88 9h3m48-62h3m-23 73h3m67-62h3m-34 33h3m-59-49h3m7 29h3m-64 49h3m56-92h3m30 77h3m-55-5h3m18-3h3m82-134h3m-56 106h3m-28-40h3m20-1h3m6 97h3m-18-117h3m-49 63h3m15 9h3m-21 48h3m23-34h3m39 30h3m-99-29h3m89-98h3m-89 152h3m19-2h3m-23-78h3m74 58h3m-62-94h3m62 67h3m-50-28h3m80 6h3m-61 21h3m-29-45h3m10-22h3m66 82h3m-113-16h3m-8 9h3m12 7h3m63-80h3m-15 16h3m-30 31h3m64-61h3m-23 56h3m-59 66h3m12 22h3m76-121h3m-84 47h3m24-92h3m5 83h3m-30 49h3m21-40h3m2-55h3m-68 53h3m93-5h3m-87 46h3m31-85h3m-46 29h3m66-2h3m-95 21h3m44-51h3m39-45h3m-87 76h3m-34-16h3m115-4h3m-93-10h3m5 106h3m13-65h3m-34 6h3m263-255h3m-215-43h3m233 61h3m27-27h3m-292 8h3m196 106h3m-73 19h3m-7-140h3m66 76h3m-160-60h3m35-33h3m202 56h3m-98 76h3m-146-70h3m42 144h3m149-227h3m-63 31h3m-161-19h3m189 79h3m-107 115h3m83-171h3m-87 113h3m138-177h3m-161 155h3m-29-157h3m26 14h3m-22 171h3m171-187h3m-185 0h3m-89 67h3m210 21h3m-166 56h3m130 114h3m-274-102h3m276 28h3m-182-10h3m203-20h3m-60-32h3m27 83h3m-14-29h3m-157-43h3m204 31h3m29-110h3m-178 39h3m-3-52h3m-65 13h3m120 204h3m-25 43h3m-16-283h3m-110 31h3m46 155h3m-31-156h3m66 64h3m-12 62h3m-7 13h3m104-18h3m89-45h3m-172 64h3m35 20h3m-4-66h3m-92-65h3m117 3h3m121-71h3m-322 12h3m280 35h3m-101 227h3m-118-248h3m-94 175h3m222-145h3m25 142h3m-110-193h3m142 154h3m-91 1h3m-178-112h3m238 50h3m-193-3h3m7-9h3m-7-42h3m106-1h3m-67-12h3m-116 40h3m-8 16h3m106 53h3m200-118h3m-111 118h3m-189-71h3m14 17h3m190 58h3m-143-73h3m91 43h3m-147-77h3m166 204h3m-44-218h3m51 79h3m-3 6h3m-10-110h3m-189 199h3m90-98h3m101 13h3m-223 7h3m113 67h3m106-122h3m-39-18h3m-132-49h3m165 182h3m-103 23h3m-32-174h3m94 165h3m-55-123h3m-78 72h3m-85 27h3m132 136h3m7-178h3m-154-102h3m231 30h3m-159-2h3m5-19h3m-82 157h3m261-131h3m-132 75h3m-113 3h3m18-76h3m36 199h3m-39-156h3m193-41h3m-117-27h3m-80 241h3m263-193h3m-155-35h3m3 148h3m-1 11h3m-194-89h3m312-125h3m-306 160h3m164 62h3m56-189h3m-241 107h3m192 29h3m-37-8h3m106-51h3m-148 2h3m13-29h3m156 4h3m12 9h3m-148 184h3m-58-111h3m40 11h3m101 22h3m-141-58h3m186-63h3m-1-18h3m-221-35h3m-20 231h3m-37-229h3m250 78h3m-83 24h3m70-54h3m-205 133h3m234-176h3m-103 113h3m13-47h3m-209 61h3m248 4h3m-107-9h3m-137-20h3m187 171h3m-14-66h3m-57-211h3m-55 189h3m-24-76h3m113-110h3m-123 132h3m3 8h3m165-169h3m-173 232h3m94-39h3m-131-69h3m149 40h3m-163-148h3m79 243h3m65-220h3m18-41h3m-70 169h3m15 88h3m130-239h3m-160 114h3m-5 127h3m-131-92h3m296-92h3m-60 125h3m-44-128h3m-1 6h3m-30 179h3m58-205h3m-264 4h3m48-31h3m254 101h3m-196 125h3m122-222h3m-18 11h3m16 132h3m-105-96h3m52 115h3m53-68h3m-50 114h3m-210-189h3m243-24h3m-242 10h3m237-28h3m-69 130h3m36 87h3m-176-35h3m-81-38h3m160 27h3m189-81h3m-8 111h3m-46-135h3m-197 23h3m60-44h3m-10 96h3m101-31h3m-198-7h3m42-55h3m-90 123h3m127-9h3m190-101h3m-125 84h3m2-145h3m44 0h3m-128 89h3m74 65h3m6-149h3m42 72h3m-204-51h3m-1 35h3m245 121h3m3-30h3m-42-108h3m1-39h3m-176 247h3m229-160h3m-91 126h3m-179-136h3m-19-77h3m141 70h3m-26-15h3m159 27h3m-367 123h3m146-97h3m-31 105h3m137 10h3m-91-128h3m105 40h3m-199-86h3m165 147h3m-223-44h3m249-24h3m-20-53h3m-144 141h3m62 18h3m-127-218h3m168-10h3m21 185h3m-12-162h3m-123 119h3m-9 98h3m-2-172h3m-3-20h3m-39-52h3m168 181h3m-197 10h3m18-138h3m-4 32h3m-69 11h3m27-64h3m-61 30h3m105 126h3m137-114h3m-131-39h3m-28 54h3m156 27h3m-49-54h3m15 8h3m39-45h3m-63 194h3m-120-184h3m236-18h3m-259 168h3m46 19h3m-11-157h3m-12 87h3m17 83h3m-98-94h3m86-68h3m-85-17h3m130 138h3m91-94h3m-75 94h3m-123-98h3m79 104h3m74 17h3m-165-193h3m93 37h3m-69 70h3m89 151h3m49-187h3m-224-12h3m118 146h3m18-109h3m24 146h3m-174-58h3m237 0h3m39 24h3m-220-144h3m100 183h3m-162-143h3m311-102h3m-202 181h3m-9-165h3m145-2h3m-287 126h3m215 38h3m-116-119h3m213-11h3m-192-47h3m83 223h3m14-75h3m-98 69h3m78-38h3m69-177h3m-205 99h3m257-24h3m-66-4h3m-130 21h3m42-105h3m-50 68h3m145-19h3m-189 145h3m109-180h3m6-24h3m-29 214h3m-172-109h3m39-70h3m127 176h3m51-58h3m-178-9h3m-22-20h3m-57-24h3m188 104h3m-99-115h3m118 164h3m73-213h3m-149-19h3m6 29h3m-45 209h3m-34-34h3m-29-119h3m198-55h3m-136-9h3m183 74h3m-144-22h3m37-19h3m-210-19h3m290-32h3m-39 166h3m-64-65h3m-108-3h3m22-45h3m80-39h3m-131 94h3m130 47h3m-223-6h3m153-119h3m-151 15h3m162-47h3m71 16h3m-136-37h3m141 60h3m65-48h3m-163 177h3m-162-16h3m215 88h3m90-164h3m-74 24h3m-200 5h3m201 78h3m-142 20h3m165-184h3m-166 116h3m24-37h3m-28-103h3m-80 119h3m31-56h3m158 170h3m0-127h3m-103 5h3m168-112h3m-122-21h3m160 99h3m-87-89h3m-106 72h3m-82-60h3m-16 50h3m95 37h3m3-42h3m-128 2h3m207 34h3m-41 15h3m54-111h3m18 55h3m-201 113h3m155-140h3m-243 171h3m26-184h3m190 90h3m-125-14h3m24-53h3m135 85h3m2 16h3m-83-28h3m-118-112h3m60 88h3m-44-37h3m57 105h3m-152-108h3m179-38h3m-83 108h3m99 26h3m-110 25h3m77-10h3m-23-49h3m-88 105h3m23-125h3m220 24h3m-210-107h3m27 207h3m0 25h3m8-172h3m129 42h3m-25 64h3m-39-175h3m-33 195h3m32-71h3m62-28h3m-230 1h3m-52 91h3m296-154h3m-196 109h3m-18 63h3m-100-185h3m60 99h3m64-108h3m-89 56h3m178-74h3m-259 51h3m141 173h3m-157-82h3m156-49h3m85 99h3m-63 64h3m64-131h3m-185-6h3m-19-119h3m160 120h3m-180-19h3m147 131h3m-2-170h3m-151 135h3m87-163h3m115 12h3m62 108h3m-138 53h3m15 33h3m-41-67h3m135 2h3m-238-126h3m-57 30h3m266-76h3m-37 141h3m-112 114h3m-1 15h3m138-68h3m-68 19h3m92-199h3m-62 141h3m36-105h3m44-11h3m-199 138h3m26 114h3m-100-214h3m78 130h3m-101-175h3m232 78h3m-109-12h3m15-66h3m19 217h3m45-76h3m-123-56h3m166-31h3m-63 41h3m50-16h3m-271-112h3m-16 104h3m-25 108h3m269-16h3m-3-107h3m-45 134h3m-195-74h3m174-136h3m-5 228h3m-224-166h3m87 93h3m25-99h3m-33-15h3m143 182h3m7-174h3m-70 62h3m-14-74h3m160-20h3m-171 130h3m-63-60h3m40-7h3m-135 137h3m157-90h3m-16-82h3m26 25h3m-131 68h3m59-37h3m157 26h3m-192-105h3m-75 89h3m44-88h3m126 181h3m-205-82h3m191 114h3m-143-138h3m134-79h3m-143-9h3m176 133h3m-32 8h3m-73 107h3m-24-186h3m151-61h3m16 169h3m-254-138h3m-1 71h3m77 28h3m-3-142h3m136 78h3m-19-69h3m-221 125h3m125-94h3m9 208h3m-40-183h3m161-85h3m-75 77h3m-45 36h3m80-8h3m-23 137h3m87-140h3m-62 89h3m12-9h3m-160-116h3m-32-7h3m145-40h3m76 143h3m-165-107h3m161-15h3m-276 50h3m-40 88h3m166-114h3m158 53h3m-152 56h3m11-10h3m-20 102h3m-90-67h3m-112-73h3m326 110h3m-227-17h3m170-60h3m-140 91h3m93-111h3m-235 40h3m208 21h3m-62-59h3m-48-143h3m71 228h3m117-224h3m-16 127h3m-278-21h3m236-17h3m-31-11h3m-143 93h3m-12-116h3m126 117h3m-140-24h3m49-21h3m-75-123h3m159 136h3m113 75h3m-37-93h3m-30 99h3m-44 30h3m-20-137h3m-144-61h3m15-7h3m28 177h3m-60-31h3m102-77h3m-111 91h3m64-172h3m56 24h3m107 43h3m-101-23h3m12 169h3m-49-226h3m-96 184h3m76-74h3m-157 66h3m247-36h3m-116 97h3m113-214h3m-172 159h3m96-122h3m-124 149h3m-23-78h3m172 57h3m89-132h3m-204 91h3m-105-101h3m188-7h3m145-39h3m-109 31h3m-138 110h3m-18 0h3m187 57h3m-154-18h3m-26-161h3m14-32h3m151 146h3m-122-155h3m-13 99h3m100 8h3m-194 96h3m88 54h3m126-235h3m-246 83h3m100 118h3m188-146h3m-194 159h3m6-89h3m-131-27h3m26-32h3m249 5h3m-120 92h3m-23-137h3m4-38h3m-48 82h3m-16-77h3m-58 244h3m114 1h3m-126-104h3m-19-81h3m189-7h3m-65 64h3m91-16h3m-278 41h3m275-129h3m-154 63h3m-1 171h3m215-171h3m-250 2h3m20-14h3m134 46h3m-66 42h3m-235 26h3m169-102h3m-45-42h3m109 51h3m-88 143h3m-4-168h3m247-7h3m-77 34h3m-230-35h3m-65 52h3m130 17h3m-124 58h3m215 43h3m-179-47h3m138 36h3m-108 7h3m159-231h3m-145 183h3m2 41h3m104-11h3m-148-56h3m4-85h3m166 146h3m-13-84h3m35 0h3m-253-55h3m40-84h3m149 159h3m-100-34h3m-111 63h3m-33-3h3m301-43h3m-211-124h3m263 125h3m-127-102h3m96 70h3m-147 95h3m-57 30h3m75-228h3m94 175h3m-175 109h3m87-176h3m-240 105h3m196-114h3m-103-99h3m-16 90h3m-78 112h3m196-55h3m31-3h3m-89 92h3m-126-77h3m122-143h3m28 81h3m-117-54h3m108 133h3m-177-6h3m141-120h3m20 63h3m82-105h3m86 51h3m-43-5h3m-11 15h3m47-69h3m-177 105h3m111-111h3m-53 108h3m-74 154h3m144-120h3m-327-13h3m290 100h3m12-127h3m-35 138h3m-39-216h3m-222 116h3m156 78h3m61 37h3m-83 46h3m65-164h3m-13 85h3m-39 14h3m-28-64h3m-38 77h3m74-193h3m-80-33h3m11 234h3m37 19h3m172-201h3m-334 84h3m32-57h3m64-78h3m132 27h3m101 66h3m-146 121h3m92-160h3m-178 89h3m-7 68h3m75 27h3m-195-133h3m86-22h3m-21 81h3m174-183h3m-213 174h3m23 27h3m3 45h3m34-178h3m127 21h3m-258 104h3m78-124h3m23 33h3m-91 72h3m-3-5h3m81-79h3m-32 41h3m27-53h3m-4-82h3m71 109h3m133-49h3m-152 220h3m67-144h3m-111-129h3m112 204h3m3 14h3m104-138h3m-284-48h3m173 46h3m-3 22h3m-220 3h3m265-49h3m-131 253h3m-44-281h3m132 205h3m-58-236h3m-27 153h3m153 21h3m-142-104h3m-174 26h3m64 25h3m212 36h3m-85-160h3m-68 185h3m-72 76h3m126-18h3m87-233h3m-105 271h3m-144-75h3m258-72h3m26 35h3m-178 102h3m-18-89h3m14-109h3m-90 159h3m-53-204h3m-64 76h3m111-91h3m-3 38h3m181 2h3m-144 128h3m-33 10h3m-45-89h3m135-62h3m71 48h3m-115-22h3m62 170h3m-153-225h3m46 70h3m36 98h3m-156 15h3m171-16h3m-154-123h3m237 84h3m-56-112h3m61 82h3m1 7h3m-108 190h3m-103-249h3m145 9h3m-200 86h3m-37-27h3m44 95h3m270-122h3m15-32h3m-63 154h3m-162-114h3m193-81h3m-149 265h3m56-204h3m78-6h3m-225 56h3m188 97h3m2-63h3m-156 6h3m-94-166h3m293 47h3m-324 132h3m75-176h3m104 30h3m-3 76h3m123-1h3m-355 111h3m337-146h3m-234 84h3m-30-32h3m155-92h3m-195 114h3m91-52h3m226 11h3m-100-50h3m-12 85h3m42-138h3m61 34h3m-118-15h3m-227 82h3m146 81h3m185-88h3m-190-27h3m-191 66h3m172 16h3m52 13h3m52 19h3m4-49h3m-110 148h3m154-219h3m-81 15h3m-151 110h3m48-111h3m49 133h3m96-180h3m-145 50h3m-31 161h3m215-165h3m2-15h3m-215-72h3m80 159h3m93-20h3m-207 27h3m51-143h3m-5 162h3m36 54h3m42-162h3m-56 137h3m-13-201h3m-168 196h3m25-124h3m-3-42h3m82 196h3m54-40h3m49 62h3m-71-190h3m-63 195h3m24-113h3m97 43h3m83 3h3m-54-108h3m-162 23h3m122 50h3m-185-95h3m70 5h3m127 43h3m-2-86h3m-279 24h3m104-37h3m73 82h3m-89-29h3m27 177h3m115-235h3m-133 85h3m42 134h3m83-123h3m-43 85h3m-107-63h3m27-15h3m207-2h3m-110 21h3m95 15h3m-106 91h3m-74-178h3m-44 134h3m220-118h3m-262 24h3m96-47h3m-20 159h3m-60-77h3m103 4h3m-148-93h3m102 241h3m54-91h3m-89-18h3m124-2h3m7-55h3m-50 37h3m-144 102h3m108-6h3m-195-123h3m318-68h3m-178 216h3m-24 3h3m35-243h3m28 37h3m75 6h3m-44 127h3m27-121h3m-165-48h3m131 18h3m-82-18h3m-45 41h3m-180 85h3m238 105h3m27-160h3m-123 78h3m124-120h3m-88-44h3m20 238h3m-117-219h3m102 45h3m133 90h3m-107-164h3m25 166h3m-161-110h3m44 43h3m-11 48h3m187-112h3m83-25h3m-293 194h3m-30-141h3m161 18h3m106 89h3m-226-137h3m-108 89h3m249-85h3m44 84h3m-226 142h3m243-230h3m-142 13h3m42 49h3m-92-53h3m125-9h3m-16 41h3m-98 63h3m8 65h3m-68-157h3m152-54h3m71 198h3m-227-90h3m-49 135h3m166-159h3m-5 145h3m121-182h3m-248 98h3m50 52h3m-48-134h3m134 101h3m-215 16h3m58-69h3m-40 33h3m-29 68h3m210-147h3m70 12h3m-302-9h3m73 42h3m-24 93h3m226-74h3m-115 102h3m41-135h3m-123-50h3m97 78h3m115-7h3m-237-32h3m174 2h3m-14 110h3m-217 6h3m24-167h3m91 80h3m53-120h3m34 114h3m-89 130h3m130-133h3m-182 77h3m156-62h3m-220 14h3m230 19h3m-131 6h3m-188 8h3m274 49h3m71-227h3m-142 79h3m-224 87h3m189-108h3m79 62h3m-261 20h3m191 126h3m-100-159h3m150-62h3m83 63h3m-138 178h3m56-129h3m-107-37h3m-81-85h3m96 256h3m0-238h3m46 118h3m53-54h3m-97 4h3m-46-57h3m74 77h3m-104-26h3m195-91h3m-105 246h3m26-171h3m90 26h3m-146-121h3m-83 81h3m126 97h3m-222 7h3m166-71h3m-99-61h3m-64 153h3m292-179h3m-266 229h3m207-129h3m-103 107h3m-15-186h3m71 116h3m-170-64h3m177-63h3m-128 80h3m97-44h3m5 69h3m-102 131h3m-136-155h3m120-47h3m196 49h3m-148 52h3m-94 54h3m-19-35h3m40-154h3m109 150h3m-47 2h3m21-12h3m85-133h3m-273 37h3m157-59h3m74 63h3m-49-11h3m43-65h3m-128 127h3m37-96h3m13 153h3m-69-147h3m-8 8h3m189 46h3m-170-58h3m194 21h3m-143 21h3m-160 140h3m271 8h3m-43-193h3m-270 75h3m221 76h3m-20-21h3m0 2h3m-76-75h3m-77-36h3m204 92h3m-47-111h3m-260 47h3m40-46h3m194 69h3m-144 55h3m196-146h3m-86 119h3m32 78h3m-177-73h3m27 30h3m57-121h3m-147 114h3m200-106h3m-46 155h3m47 12h3m-100 14h3m-138-94h3m221 70h3m-79-197h3m-4 85h3m-119 22h3m171-78h3m-1 250h3m-153-141h3m229-142h3m-89 211h3m37-175h3m-165 133h3m129-167h3m18 207h3m-100-4h3m-98-91h3m297-14h3m-263-84h3m253 79h3m-5-71h3m-136 101h3m74 96h3m-114-156h3m-108-14h3m53 218h3m103-78h3m72-92h3m-204 148h3m131 31h3m-14-286h3m-181 33h3m41 30h3m123-22h3m-96 121h3m210-120h3m-112 217h3m128-227h3m-161 132h3m-156 30h3m82-111h3m193-15h3m-213 128h3m107-103h3m23-36h3m-108-4h3m80 125h3m-28-110h3m-20 170h3m139-182h3m-171 34h3m171-51h3m-182 177h3m-93-53h3m172-159h3m-90 69h3m-50 48h3m3-42h3m139 96h3m-57-147h3m72 10h3m-201-43h3m174 6h3m35 103h3m-10-64h3m-239 157h3m-24-169h3m207 68h3m-169-69h3m56 111h3m225-57h3m-345 92h3m42 46h3m140-114h3m-98 46h3m139-145h3m-9 245h3m20-123h3m-1 61h3m21-81h3m-82 104h3m19-9h3m-104-153h3m46-59h3m73 149h3m-256-3h3m75-90h3m3 24h3m124 144h3m-168-173h3m143-36h3m41 229h3m-163-158h3m235 1h3m6-58h3m-261 39h3m12 6h3m-35 7h3m-1 142h3m72-23h3m200-73h3m-250 3h3m-26-74h3m242 5h3m-94 76h3m-146 105h3m266-206h3m-255-6h3m35-15h3m31 32h3m165 149h3m-124-76h3m71-45h3m-130 47h3m-156 83h3m331-81h3m-61 47h3m14-97h3m9 47h3m20 17h3m-275 103h3m4-100h3m268-135h3m-54 164h3m-234-22h3m-8-111h3m-25 142h3m136 17h3m190-177h3m-169 148h3m0-116h3m-96 26h3m71-47h3m-162 114h3m111-18h3m196 36h3m-125-3h3m-133 76h3m-71-111h3m78-65h3m-78 46h3m86 158h3m186-189h3m-21 36h3m-44 124h3m-118-203h3m165 26h3m-16 90h3m33-85h3m-75-13h3m52-16h3m-92 156h3m-185-6h3m146-174h3m-30 69h3m9 216h3m-39-171h3m29 50h3m51 59h3m-186-141h3m104 18h3m-78 38h3m107 85h3m-113-156h3m207-62h3m-35 175h3m-72-12h3m-86-167h3m147 173h3m8-17h3m-103-94h3m-19 125h3m159-7h3m-288-32h3m32 58h3m125-2h3m184-153h3m-208 121h3m-92 70h3m270-158h3m1-32h3m-178 243h3m-115-231h3m88 16h3m54-82h3m-131 197h3m96-20h3m-131 63h3m61-49h3m19-46h3m150 92h3m25-202h3m23 7h3m-104-20h3m93 5h3m-347 67h3m245-17h3m-204 19h3m146 46h3m1 88h3m-92-240h3m247 117h3m-316 32h3m267-69h3m-188 103h3m180-87h3m-223 2h3m-53 43h3m291-41h3m-279 97h3m51-73h3m223-5h3m-248 79h3m45-163h3m-123 14h3m286 71h3m-172-52h3m172-47h3m-223 14h3m60 224h3m76 12h3m10-128h3m-3 14h3m-216-108h3m207 124h3m-57 50h3m5-221h3m-40 212h3m-21-177h3m81 106h3m128 4h3m-219-111h3m217 88h3m-328-20h3m195-29h3m-65 195h3m174-267h3m-164 265h3m8-186h3m75 97h3m-44-97h3m-109-30h3m132-43h3m-219 252h3m188-75h3m-43 56h3m-32-97h3m-116-65h3m229 30h3m-227 159h3m150-53h3m-226-46h3m227-115h3m-159 161h3m128-119h3m-21 172h3m56-109h3m-104-147h3m-99 76h3m150-52h3m-49 134h3m-58-78h3m47 76h3m112-138h3m-227 84h3m-4 100h3m41 21h3m100-94h3m-158 4h3m80 39h3m145-100h3m-248 99h3m209-87h3m-40 167h3m-189-76h3m19-43h3m199-30h3m-105 83h3m-90-66h3m183 28h3m5-99h3m-73 151h3m-46-118h3m158 120h3m-155-150h3m39 121h3m106-1h3m55-139h3m-177 39h3m101-63h3m-199 9h3m38 148h3m88 43h3m100-108h3m-162 2h3m92-7h3m-267 114h3m194-177h3m87 124h3m-156 27h3m131-184h3m-209 60h3m67 177h3m41-95h3m-40 76h3m23-76h3m-25 56h3m157 16h3m-113-17h3m159-53h3m-93-74h3m-212 151h3m-7-102h3m311-49h3m-48 106h3m7-106h3m-276 21h3m78 58h3m92-27h3m127 0h3m-215-68h3m129 146h3m-190-15h3m205-55h3m-187-60h3m214 46h3m-19-41h3m-261 30h3m63-58h3m37 1h3m100 176h3m-123-180h3m172-58h3m-47 171h3m-88-145h3m-73 11h3m-35 87h3m249-46h3m-218 14h3m-26 130h3m259-115h3m-238 123h3m-48-133h3m-21-59h3m124 116h3m19 53h3m9-170h3m-259 156h3m94-5h3m42-1h3m78 35h3m54-110h3m-247 53h3m170-3h3m-11 80h3m-118-207h3m64 209h3m163-186h3m-201 155h3m-63-115h3m179 17h3m49 130h3m-108-18h3m-79-208h3m158 218h3m-85-106h3m78 74h3m95-147h3m13 34h3m-182-10h3m-82-84h3m208 92h3m-63 15h3m-188 16h3m214 23h3m-208 45h3m-6-94h3m53 115h3m155-83h3m-176 161h3m24-208h3m-36 23h3m229-105h3m-122 241h3m92-179h3m-129 69h3m-55 9h3m197-81h3m-192 5h3m-149 85h3m182 80h3m11-39h3m-154-71h3m22 1h3m6-59h3m206 134h3m-110-115h3m12 168h3m82-116h3m-188-35h3m17 49h3m191 50h3m2-48h3m-93-39h3m33-62h3m-68 112h3m-45-3h3m1 119h3m111-271h3m-157 113h3m240-107h3m-328 139h3m331-13h3m-177-134h3m119 120h3m22 8h3m-123-38h3m-105-81h3m-107 81h3m301 113h3m-74-34h3m-228-5h3m174 33h3m25 38h3m-1 13h3m-8-234h3m-102 262h3m144-237h3m-65 184h3m64 37h3m-171-55h3m86-160h3m133-6h3m-34 41h3m-147-55h3m13 256h3m68-52h3m-41 1h3m81-182h3m-81 104h3m11-21h3m-133-52h3m183 66h3m-75-69h3m-10 182h3m-159-135h3m181-37h3m-96 82h3m-96-27h3m203-110h3m-18 101h3m-44-67h3m-69 179h3m27-132h3m-43 90h3m192-113h3m-214 33h3m17 47h3m171 50h3m-103-63h3m46-146h3m61 80h3m-7 66h3m-155-71h3m178-59h3m-32 65h3m-44-36h3m-82 197h3m-7-91h3m127-76h3m-97 23h3m27-68h3m-71-35h3m-1 149h3m35-42h3m108-61h3m-166 119h3m165-123h3m-91 201h3m-150-64h3m148 2h3m-207-147h3m160-25h3m-107 103h3m-51 21h3m214 97h3m-40-103h3m23-41h3m-216-87h3m224 82h3m-35 147h3m-252-58h3m362-156h3m-34-3h3m-273 14h3m115 166h3m-134-67h3m59 90h3m21 54h3m66-222h3m100-49h3m-122-4h3m-134 31h3m0 108h3m32-48h3m162-33h3m-170-5h3m-33-2h3m20 202h3m93-197h3m-105 25h3m-35 32h3m285 0h3m-140 97h3m-101 5h3m-54 8h3m74-15h3m36 72h3m154-228h3m-273-24h3m185 68h3m80-28h3m-283 49h3m268-76h3m20 23h3m-227 35h3m97 33h3m-12 68h3m63-83h3m-32-34h3m-83 75h3m111 12h3m-124-72h3m-141-17h3m170 82h3m-35-89h3m-45-52h3m112 19h3m103 15h3m-252 172h3m202-132h3m60-19h3m-178 37h3m-73-93h3m-62 112h3m288-93h3m-23 95h3m-96-23h3m42-79h3m-191 34h3m42 182h3m27-215h3m8 221h3m126-113h3m-240 57h3m46-79h3m243-69h3m-276 103h3m175 36h3m-164-172h3m191 44h3m-155 197h3m21 35h3m173-156h3m-116 40h3m-132 98h3m201-126h3m-260-87h3m36 78h3m64-6h3m-73 72h3m135-96h3m-130 5h3m152-4h3m-114 77h3m125-164h3m-195 126h3m54 36h3m-21-146h3m180 139h3m-210-53h3m-34-17h3m-61 80h3m340-165h3m-322 202h3m242-196h3m55 130h3m-215 34h3m203-105h3m-37 77h3m-38-146h3m-30 213h3m-106 13h3m209-155h3m-190-37h3m203 7h3m-131 123h3m77 13h3m-57-114h3m-78 173h3m-2 2h3m-174-257h3m198 235h3m5-92h3m44-93h3m-186 227h3m100-123h3m-21-95h3m74 93h3m-62-60h3m-127-62h3m166 201h3m-71 27h3m-76-232h3m194 92h3m-125-119h3m88 117h3m-100 99h3m-80-193h3m-49 91h3m228 51h3m-146 99h3m25-6h3m-48-144h3m-63 53h3m111 92h3m57-205h3m87-19h3m-61-1h3m2 83h3m81 12h3m-10-84h3m-294 30h3m134-17h3m84 147h3m81-136h3m-269 48h3m59 154h3m90-234h3m-88-14h3m118 16h3m-225 47h3m50-25h3m194 160h3m-159 31h3m42-243h3m-105 27h3m211 79h3m-96-12h3m-59 126h3m-84 20h3m219-208h3m-102 61h3m-151 158h3m282-171h3m-248-79h3m14 12h3m31 75h3m-29 137h3m174-205h3m30 138h3m-45-118h3m-229 47h3m40-76h3m-40 52h3m80 241h3m-53-127h3m95-100h3m-93 87h3m139-59h3m-87 34h3m-97-124h3m-11-17h3m120 110h3m178-13h3m-185 0h3m-38 20h3m90-107h3m103-3h3m-2 143h3m-200-127h3m41 3h3m-27 2h3m-26 207h3m-17-198h3m-53-43h3m-41 64h3m191-54h3m-61 205h3m32-140h3m-60-66h3m-105 67h3m-9 102h3m287-143h3m-172 20h3m87-21h3m-6 26h3m-267 142h3m242 8h3m-135-15h3m205-190h3m-250 169h3m-35-21h3m-10-97h3m59 7h3m-72 196h3m109-40h3m48-180h3m104 0h3m-163 225h3m56-215h3m119-29h3m-58 87h3m-83-98h3m74 55h3m42 59h3m-150 0h3m-45 29h3m-25 91h3m204-109h3m-36-1h3m61-56h3m-95 104h3m60-156h3m-227-2h3m167 162h3m-116 121h3m-84-115h3m-1-97h3m145 11h3m54 60h3m-235-84h3m229-83h3m-261 230h3m118 11h3m-71-110h3m-29 2h3m42 25h3m19 10h3m27-164h3m-78 133h3m63 28h3m-75 58h3m282-175h3m-163-18h3m-34 43h3m74 122h3m86-111h3m-33 108h3m-14-176h3m-107 237h3m-79-193h3m109 89h3m-153 112h3m-19-115h3m251-91h3m-162 126h3m25-121h3m92-40h3m-122 256h3m-154-183h3m168-39h3m-80 59h3m-54 54h3m340-68h3m-171 88h3m134-69h3m-276 67h3m251-126h3m-125 210h3m103-191h3m-97-55h3m-136 51h3m43 92h3m45-125h3m36 137h3m-30-132h3m98 72h3m-179-19h3m206-60h3m-34 51h3m-24 23h3m-10-15h3m-182 8h3m190-35h3m-223 11h3m83-49h3m68 162h3m51-97h3m-201-32h3m108 4h3m117-24h3m-135 118h3m-49-103h3m168 91h3m-324-38h3m328-55h3m-152 57h3m-41-25h3m-18-62h3m247 61h3m-102 117h3m13-199h3m-78 116h3m-201 5h3m362-38h3m-168 105h3m53-186h3m-31 276h3m4-157h3m-83-12h3m68-35h3m36-61h3m-117 203h3m-69-122h3m115 44h3m140-122h3m-8 69h3m-200 145h3m128-129h3m-269 67h3m195-131h3m-76 23h3m73 134h3m6-77h3m-108-98h3m155 48h3m-120-48h3m-119 182h3m277-90h3m0 82h3m-187 51h3m133-187h3m-44 100h3m-134 0h3m143 26h3m-21-58h3m-73 46h3m186-119h3m-164 282h3m-148-199h3m285-84h3m-274 144h3m159-63h3m-45 25h3m43-91h3m51 86h3m-35-12h3m-84-21h3m-95-92h3m-14 23h3m178-34h3m-22 152h3m-42-130h3m149 128h3m-164-27h3m149-147h3m-58 147h3m39-125h3m-207 175h3m184-178h3m-35 87h3m21 60h3m-143-121h3m-134 126h3m83-161h3m124 172h3m-151-82h3m124-48h3m-160 207h3m99 34h3m63-220h3m-126 35h3m259-82h3m8 63h3m-173 186h3m-44-29h3m208-148h3m-249 156h3m250-115h3m-328 97h3m143-75h3m57-139h3m-169 103h3m-18 7h3m284-17h3m-241-46h3m-29 93h3m-49-4h3m65 39h3m77-184h3m45 92h3m9-9h3m-27-52h3m78 49h3m-168-40h3m-33 95h3m195-38h3m-113 62h3m-61-123h3m57 84h3m53-52h3m-205 73h3m64 71h3m175-177h3m-195 141h3m70 24h3m-172-37h3m127 75h3m-42-148h3m201-19h3m-186-18h3m166 21h3m-48-42h3m-214 161h3m17 42h3m136-143h3m33-40h3m32-24h3m57 40h3m-304 88h3m221 18h3m-60-91h3m-122 137h3m-5-220h3m68 63h3m-59 59h3m116 60h3m-150-49h3m204-110h3m-197-18h3m89 42h3m161 29h3m-125-49h3m-64 279h3m-26-257h3m-64 26h3m233 31h3m22 55h3m0-81h3m-26 92h3m-85-131h3m-84 174h3m53-146h3m110 46h3m-124-105h3m12 37h3m-5 65h3m95 64h3m-95-125h3m76 137h3m-263-20h3m267-90h3m-174-18h3m117 87h3m-210-149h3m-14 141h3m2-6h3m77 89h3m-15-230h3m-110 165h3m138-87h3m27-27h3m23-1h3m-22 26h3m15-25h3m78 144h3m-178-39h3m-56 46h3m265-87h3m-54 153h3m92-149h3m-195 113h3m108-96h3m-47 66h3m-126-151h3m-49 15h3m70 111h3m76-36h3m63 76h3m-132-177h3m154 38h3m-270 121h3m69-30h3m233-123h3m-333 153h3m43 55h3m-11-99h3m136 82h3m-165-152h3m119 52h3m-43-23h3m-56-86h3m36 197h3m29-102h3m-35 73h3m-16-97h3m44 130h3m-6 78h3m-49-184h3m83-43h3m-164 140h3m131-95h3m-118 39h3m10 57h3m28-208h3m59 50h3m2-31h3m33-24h3m-34 184h3m87 14h3m-123-47h3m38-81h3m137-52h3m-141 47h3m-21-5h3m0-28h3m-40 178h3m138-14h3m-205-78h3m188-115h3m-170 108h3m279-26h3m-315 37h3m-37 80h3m343-60h3m-329 20h3m-67 75h3m351-92h3m-224-149h3m51 54h3m129 141h3m-293-52h3m155-108h3m63 111h3m132-113h3m-204 19h3m28 59h3m-75-94h3m65 17h3m-42-14h3m-33 20h3m83-29h3m-71 172h3m-71-44h3m220 28h3m10 50h3m-49-38h3m-66 50h3m-127-157h3m280-45h3m-226 199h3m-93-229h3m71 182h3m-21 13h3m266-173h3m-158 0h3m-16 193h3m117-125h3m11-46h3m-121 203h3m-151-179h3m57 155h3m62-85h3m83-66h3m-27 65h3m63 112h3m-114-255h3m-123 38h3m122 133h3m94-128h3m-232 59h3m32-68h3m-83 141h3m59-26h3m1-34h3m127 106h3m-46 9h3m-63-163h3m9 26h3m-130 114h3m312-17h3m-113-78h3m-31 159h3m98-53h3m-97-41h3m34-15h3m65-150h3m-145 166h3m-132-105h3m77 83h3m128 5h3m-111 58h3m-83-23h3m197 23h3m-174 13h3m50 63h3m3-257h3m41 100h3m-208 78h3m53-40h3m216 107h3m-5-171h3m-120-88h3m-54 175h3m144 34h3m58-98h3m-179-89h3m129 88h3m-12 110h3m35-145h3m-159 44h3m102 1h3m-78 24h3m-59-147h3m51 77h3m91-6h3m89 25h3m-196-73h3m33-15h3m110-24h3m-45 118h3m-216-64h3m-16 101h3m316-74h3m-176 182h3m-8-4h3m16-217h3m-29 139h3m9-145h3m116 146h3m35-68h3m-173-64h3m77 5h3m-110 147h3m54-146h3m31 159h3m-66-196h3m-68 87h3m221 23h3m-72-107h3m19 224h3m-126-23h3m-48-129h3m30 119h3m180-154h3m-49-44h3m-67 155h3m126-15h3m-57-119h3m32 81h3m-246-20h3m171 24h3m-41-62h3m-28 146h3m89-98h3m-223-20h3m14-19h3m216 17h3m-44-23h3m14-61h3m-191 85h3m142 78h3m-25 102h3m-69-61h3m226-107h3m-274-79h3m203 136h3m-295 12h3m207-135h3m-172 151h3m250-65h3m-136-28h3m130-73h3m-17 22h3m-115 97h3m-77-62h3m-54 131h3m148-33h3m-165-113h3m141 19h3m143-40h3m-177 2h3m-133 61h3m147 61h3m44-7h3m107-62h3m-288 57h3m36-100h3m-5 181h3m159-126h3m46 66h3m-109-147h3m-54 137h3m-23 55h3m31-38h3m88 34h3m-187-121h3m299-15h3m-249 112h3m-100-125h3m128 42h3m-71 125h3m-14-42h3m-33-18h3m275-175h3m-269 219h3m221-180h3m-236 31h3m60 161h3m112 29h3m-202-81h3m230 13h3m-136 5h3m124-155h3m-167 51h3m264-14h3m-255 130h3m48-166h3m179 9h3m-288 140h3m150 69h3m25-169h3m-10-7h3m76 7h3m-113 88h3m4-172h3m99 5h3m-71 40h3m-252 144h3m121-135h3m-29 85h3m67-75h3m84 116h3m-17 39h3m-136-45h3m26-79h3m10 145h3m223-194h3m-91 124h3m-196-99h3m170-10h3m101 11h3m-83-19h3m-24 71h3m-181 150h3m50-280h3m87 87h3m-85-32h3m222 65h3m-290-95h3m-54 211h3m186-1h3m24-109h3m-146-126h3m61 267h3m-89-202h3m230 94h3m-189-128h3m180-3h3m-263-5h3m120 38h3m32 85h3m-21-93h3m173 95h3m-97 77h3m-206-52h3m-25 65h3m115-37h3m-41-69h3m142-57h3m-114 18h3m123-41h3m-229 123h3m38 74h3m-25-246h3m246 99h3m-237 59h3m95-152h3m1 42h3m-50-29h3m152 115h3m-3-121h3m-193 209h3m173-179h3m-126 88h3m-102 137h3m91-210h3m87-33h3m-11-23h3m47 25h3m-224 172h3m18 44h3m13-103h3m-102 21h3m210 89h3m-154-127h3m198 84h3m-25 19h3m-241-56h3m198-132h3m-180 186h3m27-75h3m260 43h3m-139-142h3m73 128h3m-264 31h3m275-74h3m-127 146h3m-11-97h3m-24 6h3m181-125h3m-67 55h3m-173 0h3m-55 12h3m-16 32h3m350-103h3m-326 114h3m271-121h3m-9 102h3m22-21h3m-206 18h3m35 14h3m78-47h3m-127 60h3m-46-147h3m76 212h3m174-201h3m-137 164h3m-95-127h3m233 14h3m-204-57h3m-3-14h3m20 166h3m-70-14h3m-47 80h3m301-157h3m-84-4h3m-78-70h3m93 117h3m-84 90h3m-17-142h3m-59 134h3m76-152h3m-153 71h3m252-85h3m-187 170h3m-163-35h3m216-117h3m31 130h3m-84-17h3m-103-65h3m108-19h3m-128-45h3m117 109h3m-189-21h3m231-18h3m77-58h3m-186-71h3m0 144h3m191-60h3m-191 95h3m100 30h3m-31-2h3m100-69h3m18-104h3m-168 152h3m31-139h3m-90 192h3m-43 0h3m286-185h3m-12 135h3m-310-38h3m85-118h3m25 31h3m-101 45h3m161 125h3m-14-160h3m-180 62h3m-3-31h3m88-56h3m175-20h3m-165 162h3m109-47h3m80-18h3m-40-123h3m40 75h3m-8-61h3m-159 257h3m-49-5h3m50-74h3m-121-124h3m58-57h3m137 117h3m-135 77h3m-99-119h3m89-9h3m147 135h3m-219-52h3m45 78h3m35-204h3m70 4h3m-95 39h3m14-55h3m-11 47h3m-89 43h3m203-96h3m36 49h3m16 79h3m-116-99h3m-65 13h3m163 33h3m-221 100h3m230-128h3m-190 79h3m156-74h3m-54 4h3m-65 86h3m49-66h3m15-86h3m30 200h3m30-169h3m-165 108h3m112-31h3m-138 7h3m35 95h3m10-111h3m-13-17h3m138-58h3m-164 137h3m20 16h3m99-82h3m20 19h3m-141 132h3m109-39h3m-148-91h3m-45-67h3m-3 36h3m97 75h3m140-116h3m-53 81h3m-55 37h3m11-88h3m-81 254h3m28-303h3m-90 153h3m165-181h3m-80 254h3m22-36h3m37-48h3m-13-76h3m-120 124h3m24-24h3m-15-67h3m1 61h3m47-73h3m-16-115h3m34 88h3m65 13h3m-43 18h3m17 58h3m-54-59h3m-13-108h3m-17 159h3m29 15h3m96-189h3m-118 54h3m-81 152h3m211-190h3m-78 145h3m59-143h3m-46 29h3m-48-14h3m-115 21h3m86 57h3m-180 67h3m227-183h3m-96 147h3m49-136h3m-21 146h3m-21-95h3m38 97h3m53-151h3m-170 171h3m152-75h3m-115 101h3m120-124h3m-145-27h3m-3 77h3m69-50h3m21 29h3m-50 17h3m-7-26h3m60-34h3m57 13h3m-94-3h3m60 39h3m-125 91h3m15-125h3m71 78h3m-82-71h3m88-47h3m21 95h3m-99-82h3m-47 29h3m109 70h3m-99-106h3m32 148h3m115-133h3m-192 41h3m155-27h3m-158 12h3m22-38h3m-15 150h3m-15-79h3m69 116h3m39-113h3m-28-89h3m-7 40h3m25-19h3m33 149h3m-172-99h3m128 0h3m-80 78h3m-2-78h3m75-93h3m-31 123h3m26-91h3m-32 30h3m83 29h3m-19-56h3m-132 56h3m112-98h3m-93 206h3m-2-87h3m126-73h3m-181-40h3m58 124h3m91-132h3m-254 206h3m207-116h3m-147 56h3m133-106h3m-54 49h3m-14 3h3m98-55h3m2 8h3m-98 87h3m23 71h3m70-192h3m-112 57h3m-40-46h3m69 5h3m83-6h3m-76 120h3m63-32h3m-131-29h3m14 94h3m20-79h3m-107 89h3m123-127h3m-72 76h3m-28 63h3m170-87h3m-85 52h3m44-113h3m37 90h3m-124 31h3m15-23h3m26-92h3m-54 39h3m42 54h3m-63-96h3m24 6h3m81 56h3m-210 16h3m102 79h3m125-163h3m-100 2h3m-20 8h3m-88 10h3m153-42h3m-2 7h3m-100 36h3m135-54h3m-27 63h3m-65 55h3m-82-25h3m31 67h3m34 101h3m-68-176h3m99-63h3m-62 23h3m85-12h3m-28-26h3m-120 146h3m-34 18h3m171-141h3m-41 16h3m25 72h3m-304 66h3m211-26h3m-9 6h3m89-63h3m-118 21h3m69-71h3m88-62h3m-53 150h3m53-90h3m-134 22h3m101 44h3m-6-56h3m-22-55h3m-14 44h3m-118 11h3m-11 15h3m60 65h3m-11 78h3m73-203h3m-89 4h3m73 33h3m-54-18h3m-66 50h3m-41-74h3m12 191h3m-23-146h3m185-18h3m-94 80h3m70-27h3m-50-29h3m95 15h3m-59 8h3m-85-95h3m-36 130h3m-20 68h3m-112 91h3m274-286h3m-174 104h3m40 162h3m111-196h3m0-10h3m0 33h3m-108 83h3m-113 70h3m166-203h3m-62 180h3m103-195h3m-3 74h3m-155-2h3m123-13h3m-110 52h3m113-78h3m-142 118h3m67-58h3m33-43h3m26 16h3m-126 9h3m12 53h3m47-148h3m-21 183h3m79-103h3m12-42h3m-79 99h3m-44-33h3m-19 62h3m128-153h3m-199 19h3m206-50h3m-19 85h3m-94 39h3m-42 60h3m75-105h3m-63 8h3m47 81h3m-23-93h3m-97 116h3m166-36h3m-138-3h3m123-133h3m-164 79h3m217 57h3m-198-46h3m-8 77h3m185-152h3m-50 64h3m-42-73h3m-87 92h3m101-40h3m-67-20h3m46 48h3m-31-88h3m-120 100h3m48 83h3m47-38h3m23-41h3m7 20h3m80-91h3m-58 116h3m-7-119h3m-75 138h3m-39 35h3m59-151h3m54-62h3m-98 214h3m-38-124h3m98-26h3m46-49h3m-169 39h3m169-20h3m-85-10h3m-105 107h3m-6-37h3m107-8h3m43-55h3m-102 111h3m54-29h3m-27 47h3m16-20h3m-193 7h3m180 99h3m35-210h3m-8-43h3m-53 129h3m-41 29h3m5-138h3m-33 168h3m-6-11h3m42-172h3m-82 74h3m181 65h3m-143 85h3m111-202h3m-30 69h3m-52-28h3m37 76h3m-10 67h3m-14-64h3m24-82h3m15 96h3m-39-126h3m41 97h3m-68 82h3m38-16h3m-95-111h3m77 54h3m9-35h3m-46 124h3m112-153h3m-83 1h3m-183 42h3m188-46h3m9 2h3m-86 181h3m-68-77h3m87-106h3m48 16h3m43 45h3m-109-28h3m-45-36h3m-68 5h3m116 148h3m-6-134h3m115-67h3m18 112h3m-138-12h3m85 1h3m-14-57h3m-135-27h3m146 72h3m0 16h3m-96-86h3m-65 164h3m105-151h3m-52 19h3m40-7h3m83-67h3m-155 30h3m-11 44h3m160-9h3m-33 51h3m-93 57h3m-19-75h3m58 34h3m-165 27h3m92 34h3m105-151h3m-200 99h3m88-3h3m39-129h3m-37 92h3m67 149h3m-68-170h3m-36 54h3m120-85h3m-52-32h3m-90 93h3m175-61h3m-360 282h3m246-101h3m65-133h3m-126 115h3m23-19h3m20-85h3m-68-65h3m20 88h3m-62-72h3m93 6h3m-8 46h3m-30-23h3m-56-27h3m54 87h3m18-56h3m25 2h3m-30-17h3m56 142h3m6-162h3m-103 108h3m-16 146h3m92-159h3m-53-4h3m-8-75h3m39-2h3m-39-17h3m37 95h3m-116 14h3m39-99h3m-139 98h3m187 3h3m-25 7h3m-46-118h3m70 100h3m-20-39h3m36-89h3m-195 104h3m123-56h3m-55 110h3m126 7h3m-67-50h3m-11-98h3m74-29h3m-32 168h3m-41-58h3m-39-104h3m-89 98h3m178-43h3m-126 77h3m68-146h3m-27 113h3m57-32h3m57 92h3m-149-39h3m9-30h3m-9 1h3m110-47h3m-126-10h3m133 79h3m-9-10h3m-193 64h3m172-103h3m-174 173h3m87-147h3m-67 72h3m-19-16h3m199-119h3m-200 106h3m113-103h3m59 32h3m-27-15h3m-192 91h3m137-144h3m-43 23h3m-6 20h3m8 4h3m13-30h3m24 105h3m-75 8h3m0-61h3m-7 61h3m86-33h3m-81 31h3m-6-5h3m26-130h3m120 156h3m-122-41h3m87-42h3m-64-75h3m19 80h3m24-44h3m-48 164h3m-27-138h3m25-16h3m32 86h3m-18-33h3m-42 7h3m-102-48h3m1 45h3m185 57h3m-46-63h3m-14-34h3m67-68h3m-219 69h3m-14-1h3m157 59h3m-134-37h3m171-61h3m-243 176h3m266-169h3m-45 66h3m-125 72h3m79-148h3m60 113h3m-52-80h3m-18-18h3m-152 98h3m40 31h3m-51-9h3m215-108h3m9 31h3m-227 35h3m156-113h3m6 60h3m17 41h3m-70 47h3m-5-19h3m-11 37h3m-33-44h3m119-1h3m-117-87h3m53 45h3m-28-25h3m-105 70h3m57 80h3m-28-74h3m10 12h3m158-112h3m-5 28h3m-160 202h3m-43-212h3m131 49h3m-27 51h3m-126 23h3m150 2h3m30-134h3m-108 79h3m-1-44h3m42 34h3m35-48h3m19 81h3m-95 16h3m-42 97h3m-3-110h3m22-68h3m5 91h3m3 98h3m59-156h3m-29 4h3m-8-75h3m-87 143h3m-63-26h3m44 4h3m-127-38h3m255-57h3m-32 5h3m-188 80h3m235-25h3m-113-54h3m-44 168h3m44-80h3m-41-40h3m114-22h3m-115 24h3m126-24h3m-212 110h3m145-107h3m-64-48h3m33 117h3m25 55h3m-12-99h3m-109 13h3m-153 106h3m318-77h3m-101-68h3m-10-16h3m12-5h3m-29 118h3m-34-29h3m32-77h3m131 62h3m-62 12h3m-68-62h3m32-5h3m-48-46h3m118 81h3m-171 6h3m126 95h3m-80-60h3m-71-161h3m-97 229h3m196-219h3m27 26h3m6-17h3m2-14h3m39 17h3m-182 109h3m81-34h3m71-26h3m-71 47h3m-76 53h3m-28-53h3m44-36h3m113-59h3m-108 156h3m-36-63h3m49-40h3m44-88h3m41 66h3m-93 61h3m-110 92h3m132-170h3m-88-20h3m133 34h3m-57 167h3m-82-48h3m102-152h3m-19-6h3m-94 22h3m128 80h3m38 36h3m-106-84h3m61 26h3m-137-11h3m29 14h3m27-18h3m59-4h3m-41 75h3m-180 46h3m145-95h3m45 62h3m-35-78h3m-71 96h3m7-5h3m24-72h3m66-16h3m-11 63h3m-34-133h3m8 7h3m-69 178h3m12-12h3m143-56h3m-20-56h3m-147 154h3m47-131h3m-24-68h3m83 45h3m-182 48h3m190 84h3m-112-60h3m56-23h3m12-41h3m-71-21h3m69-81h3m-34 188h3m-98-54h3m156-37h3m-200 44h3m106-18h3m11 74h3m-84-30h3m66 3h3m-44-15h3m-4-124h3m51 122h3m83-50h3m9 54h3m-85 30h3m-15-90h3m70-74h3m-16 68h3m-149 28h3m13 29h3m104-106h3m-68 101h3m34-67h3m15 32h3m50-11h3m23-32h3m-101 98h3m33-124h3m-112 58h3m62-82h3m18 119h3m-38-36h3m-19 49h3m77 59h3m-106-89h3m100-105h3m-39 96h3m-135-14h3m81 37h3m32 8h3m26-100h3m75 86h3m-100 121h3m-53-170h3m18 47h3m-67 47h3m55-81h3m29 113h3m-68-90h3m112 27h3m-111-4h3m-91-64h3m197-49h3m-43 159h3m-99-37h3m169 30h3m-109 33h3m-63-21h3m12-160h3m33 108h3m63-18h3m-58-68h3m-14 109h3m43-107h3m-135 99h3m12 19h3m-48-33h3m82-53h3m79-49h3m3 159h3m-27-39h3m-47-130h3m65 75h3m-14-76h3m-113 56h3m74 96h3m28-96h3m-123 9h3m62-1h3m-76 92h3m57-56h3m13 6h3m65-12h3m-14-100h3m-114 64h3m68-31h3m31 8h3m-43-47h3m17 74h3m12 9h3m-82 55h3m24-9h3m14-114h3m60 84h3m-110 37h3m60-38h3m-48-76h3m51 101h3m21-25h3m32 1h3m-109 60h3m30-38h3m-70-109h3m64 77h3m-130 5h3m207-104h3m-96 69h3m19 51h3m-18-46h3m-221 139h3m279-190h3m-139 203h3m-67-57h3m65 2h3m79-154h3m-46 68h3m93 53h3m-293 48h3m198-77h3m-11-46h3m124 4h3m-64 76h3m36-137h3m-16 24h3m-104 73h3m30 42h3m56-22h3m-81-115h3m-86 217h3m104-162h3m-23 76h3m-6-100h3m9 112h3m-34-92h3m-34 147h3m74-156h3m-44 119h3m73-72h3m-161 64h3m157-76h3m-113 85h3m0-107h3m160 53h3m-83-59h3m-152 131h3m176-136h3m-37 152h3m-25-135h3m-62 115h3m114-103h3m-2 93h3m-141-66h3m180 19h3m-71-78h3m-83 130h3m16-69h3m-39-101h3m91 34h3m-16 73h3m-50 29h3m88-136h3m-174 201h3m15-95h3m161-98h3m-115 40h3m103 34h3m13 74h3m-197-66h3m-1 140h3m60-41h3m10 7h3m38-88h3m29-46h3m-242 85h3m252-38h3m6-78h3m-102 6h3m127-24h3m-94-12h3m-51 48h3m77 11h3m-129 179h3m-37-33h3m190-69h3m-142-10h3m97-12h3m-172 9h3m112-1h3m90 20h3m-156-39h3m-112 52h3m165-13h3m45-85h3m7 143h3m6-106h3m-34-104h3m31 158h3m40 5h3m-290 219h3m292-240h3m-3-78h3m-157 4h3m45 9h3m26-54h3m3 15h3m-63 76h3m6-46h3m99 2h3m-11-33h3m-121 147h3m16 5h3m85-144h3m-166 110h3m202-87h3m-59-29h3m-205 178h3m113-131h3m32-10h3m-168 66h3m115 5h3m115-120h3m-115 6h3m14-17h3m83 53h3m-170 81h3m144-33h3m-40-19h3m-85-94h3m104 93h3m-79 134h3m-67-140h3m161-56h3m43 74h3m-231 87h3m106-196h3m-8 179h3m53-155h3m11 40h3m-25 61h3m-134 31h3m19-93h3m209 78h3m-81-106h3m-64 209h3m45-106h3m6-28h3m-87 7h3m151-78h3m-139 59h3m62-35h3m-192 46h3m148-51h3m61-24h3m-62 37h3m110-71h3m-133 192h3m-182 5h3m205-149h3m51 107h3m-136-120h3m81 27h3m-7-59h3m-160 109h3m20 16h3m51 13h3m61-16h3m-33-104h3m-18 101h3m18-37h3m107-85h3m-26 22h3m-101 129h3m59 14h3m-7-157h3m-92 110h3m83-50h3m-45 99h3m-39-48h3m28 55h3m30-86h3m-60 13h3m109-39h3m-95 142h3m-11-43h3m82-7h3m20-125h3m5 165h3m-29-159h3m28 17h3m-42 75h3m-31-37h3m-79 39h3m124-66h3m-39-25h3m-97 43h3m112 36h3m-135-91h3m34 122h3m21-115h3m117 164h3m-76-88h3m16 8h3m-128 87h3m22-138h3m113 80h3m-76 4h3m38-84h3m-59 80h3m33-42h3m-121 23h3m70-84h3m23-31h3m-12 179h3m-86-129h3m111-22h3m-18 82h3m-61-36h3m30 11h3m8-21h3m5 92h3m-29-32h3m-72-13h3m-17-74h3m-18 143h3m146-86h3m-99 54h3m74-146h3m13 35h3m-113 128h3m-50-13h3m84-70h3m87 50h3m-179-12h3m60 10h3m59-19h3m-30 6h3m115 30h3m-100-96h3m33 8h3m-42 112h3m90-147h3m-104 141h3m91-22h3m-63-89h3m-58 80h3m-126 102h3m295-234h3m-196 221h3m76-117h3m-25 59h3m-33 33h3m-2-184h3m-69 205h3m57-90h3m111-56h3m-72 109h3m-3-188h3m8 113h3m15-5h3m-13 44h3m64-109h3m-108 82h3m-82 66h3m156-79h3m-99-56h3m81-51h3m-32 67h3m-118 103h3m81-105h3m61 33h3m-13 49h3m68-90h3m-112 31h3m-63-41h3m-64 164h3m27-109h3m90-37h3m73 16h3m-194 45h3m207-47h3m-139 125h3m57-188h3m32 80h3m-81 6h3m-65 121h3m125-132h3m-53-61h3m89-41h3m-15 45h3m-167 87h3m85-27h3m93 20h3m-50-89h3m-39 75h3m26 82h3m-83-101h3m-39 39h3m140-112h3m-78 169h3m53-111h3m-203 105h3m164-24h3m-79-21h3m-55 74h3m46-72h3m106-62h3m-55 110h3m19-26h3m78-105h3m-308 134h3m135-66h3m129-79h3m51-40h3m-157 303h3m88-238h3m-31-66h3m-26 110h3m-40-9h3m136 2h3m-29-19h3m-100-17h3m105-71h3m-137 126h3m-51 103h3m158-147h3m-129 65h3m-33-25h3m144-60h3m-17-35h3m-24 82h3m-46-17h3m4-12h3m-168 143h3m133-75h3m29-125h3m67 32h3m-35 28h3m-105 60h3m53-42h3m-42 38h3m-81-35h3m119-83h3m42 25h3m5 111h3m63-157h3m-183 185h3m-22 13h3m8-89h3m31 61h3m-25 36h3m71-64h3m-9-35h3m-63 66h3m61-107h3m-97 184h3m25-122h3m139-74h3m-168 110h3m82-27h3m-32-93h3m-7 116h3m32 80h3m52-179h3m-41-3h3m64 45h3m-109-18h3m50 4h3m-132 4h3m174-15h3m-151 41h3m68-40h3m-33 47h3m129-29h3m-41 56h3m-122 72h3m116-203h3m-89 76h3m85-19h3m-33 7h3m-132 176h3m85-153h3m-37-4h3m-9 51h3m58-71h3m56 29h3m0-38h3m-4 43h3m-18-93h3m-167 206h3m133-76h3m-6-121h3m-26 79h3m-169 18h3m109-13h3m47 17h3m-27 2h3m-23-12h3m-53 45h3m82-72h3m5-11h3m-62 95h3m58-69h3m30 10h3m-90 0h3m117 24h3m-77-143h3m30 85h3m-21 173h3m-36-250h3m41 4h3m-33 33h3m49 75h3m-30-56h3m48-6h3m-229 170h3m128-149h3m-16-6h3m12 108h3m102-85h3m-120-81h3m67 50h3m-42-70h3m13 180h3m-40-68h3m100 40h3m-130-15h3m-51-28h3m133-12h3m-93 101h3m-5-21h3m74-29h3m-91-68h3m111 37h3m-64 99h3m-78-109h3m90-70h3m-123 72h3m100 71h3m-25-106h3m121 0h3m-151 61h3m22-19h3m-36-48h3m107 19h3m-29 58h3m-17-5h3m73-92h3m-43 30h3m-21-73h3m-122 150h3m162-36h3m-92-103h3m-44 134h3m15 80h3m18-97h3m-33 42h3m71-25h3m26-132h3m-111 27h3m-9 68h3m109 36h3m4-37h3m-64-64h3m-69 76h3m90 61h3m-83-59h3m46 18h3m51-130h3m-109 107h3m95-67h3m-37 51h3m32-21h3m-140 120h3m191-135h3m-135-66h3m20 139h3m-14-32h3m-39 21h3m92 72h3m-71 38h3m11-182h3m3 28h3m76 5h3m-74-39h3m-28 98h3m44 14h3m-127 14h3m68-9h3m35-170h3m-20 144h3m-156-30h3m95 58h3m143-172h3m-189 113h3m22-9h3m45 24h3m125-90h3m-48 18h3m-37-11h3m6 194h3m-3-176h3m-69 50h3m53 35h3m14-97h3m-63 87h3m146-7h3m-76-47h3m-64 6h3m-68 72h3m76-95h3m-18 11h3m-2-51h3m-115 141h3m45 48h3m100-193h3m-13-23h3m-39 146h3m-58-48h3m36-15h3m57 14h3m83 49h3m-165-2h3m-106 1h3m100-6h3m38-50h3m57 153h3m59-108h3m-138 19h3m104-108h3m-81 114h3m13-61h3m-11 47h3m28-38h3m-34 91h3m-82 16h3m170-44h3m-74 82h3m-70 29h3m132-116h3m-30-52h3m-100 116h3m-80 8h3m128-47h3m32-133h3m7 225h3m-65-155h3m0 49h3m-42 41h3m71-63h3m-36 45h3m-54 20h3m65-28h3m-59 45h3m125-20h3m-62-131h3m0 167h3m67 6h3m-86 10h3m-46 13h3m5-58h3m-55 51h3m114-99h3m45-15h3m-119 135h3m53-86h3m-117 42h3m127-72h3m-43 12h3m41-18h3m-138 25h3m107 34h3m46-83h3m4 75h3m-190-19h3m120-31h3m-98 58h3m160 21h3m-16-46h3m-124-1h3m94 61h3m-31-90h3m54-6h3m-71 2h3m75 39h3m-71-4h3m-16 68h3m-21-69h3m34-8h3m-53-27h3m-5 52h3m-17 31h3m53-52h3m-30-3h3m94-62h3m-80 60h3m1-12h3m2 20h3m-45 56h3m-64-86h3m103 28h3m-125 29h3m72 11h3m-64-40h3m43 49h3m-19-48h3m139-25h3m-52 10h3m-31-39h3m68 2h3m-139 111h3m115-115h3m-59 38h3m57-97h3m-129 141h3m44-21h3m22-66h3m58 53h3m-72-47h3m-66 111h3m92-19h3m-10 12h3m-17-80h3m40-34h3m-21 117h3m-131-47h3m103-58h3m33-1h3m-24 43h3m-142 44h3m169-47h3m-135 3h3m34 0h3m-46-22h3m78 79h3m71-121h3m-131 200h3m-68-48h3m101-63h3m-88 28h3m88-73h3m-36 24h3m118 15h3m-24-36h3m-40 53h3m-74-63h3m64 24h3m-144 81h3m60-60h3m113-35h3m-106 144h3m128-133h3m-4 19h3m-105 67h3m73-55h3m-12 34h3m-86-34h3m23 10h3m17-72h3m32 27h3m-95 4h3m-90 63h3m-37-12h3m119 34h3m67-103h3m-48 82h3m-1-95h3m-14 104h3m-16-58h3m31 0h3m-73 65h3m122-67h3m-77-39h3m8 90h3m-89 7h3m90-21h3m29 17h3m-13 11h3m34-110h3m-27 44h3m-91 48h3m-48-39h3m-16-32h3m87-32h3m-38 172h3m95-34h3m6 5h3m-156-87h3m125 23h3m53-18h3m-27 17h3m-17 12h3m-118-4h3m-9 35h3m25-81h3m97 91h3m-14-75h3m2-16h3m36-80h3m-121 178h3m-37-48h3m120 26h3m-47-17h3m-38 52h3m40-165h3m-13 62h3m-68 28h3m16 6h3m58-13h3m-75 48h3m-23-3h3m21 4h3m55-103h3m-115 112h3m57-50h3m104-60h3m-23-51h3m-48 56h3m1 103h3m44-105h3m39 3h3m-100 50h3m5-90h3m24 82h3m-16-72h3m-103 116h3m-36-39h3m95-55h3m101-13h3m-111 34h3m-30-9h3m73-27h3m-47 135h3m100 8h3m-77-62h3m-4-58h3m31-18h3m-72 49h3m-24 30h3m80-11h3m-63 59h3m95-119h3m-13 54h3m-116 65h3m9-11h3m70-114h3m-30 34h3m-26 62h3m54-22h3m-4-81h3m30 94h3m-148 4h3m-12-155h3m19 48h3m120 84h3m-119 56h3m-21 9h3m29-37h3m56-31h3m-41-3h3m11 28h3m-2-101h3m-27-10h3m-22 127h3m69-46h3m-36 25h3m22-5h3m42 11h3m-143-60h3m69-55h3m20 34h3m-49 83h3m107-72h3m-63-60h3m20 88h3m-95 61h3m40-61h3m-46-46h3m87-69h3m-87 209h3m79-59h3m-106-109h3m75 87h3m-106 38h3m26-46h3m69 26h3m-57 47h3m-65 15h3m11-9h3m131-110h3m-81 18h3m87-21h3m-42 30h3m-107 36h3m39-52h3m9 86h3m77-146h3m-40 56h3m-40 5h3m-44 134h3m-50-120h3m26-91h3m71 84h3m68 60h3m-66 3h3m81-73h3m-148 170h3m26-135h3m-38-5h3m121-28h3m19-15h3m-130 16h3m26 32h3m3 68h3m-119-49h3m171 73h3m-112-159h3m-14 85h3m2-85h3m53 35h3m-23-28h3m23 49h3m14-71h3m-13 14h3m-51 28h3m-75 93h3m99-88h3m91 35h3m-84 38h3m89-30h3m-43 8h3m-28-81h3m2 50h3m30-41h3m-55 62h3m-6-51h3m28-20h3m-122 133h3m37-131h3m27 94h3m-88 83h3m127-154h3m11-1h3m-102 40h3m64-23h3m-47 35h3m55-82h3m-8-6h3m-118 173h3m89-11h3m12-74h3m-1-11h3m-71 62h3m15-134h3m110-2h3m-152 62h3m158-28h3m-154-26h3m68 124h3m-12-1h3m-52-4h3m55-98h3m-25 15h3m-86 110h3m115-103h3m-3 94h3m-66-87h3m-64 86h3m50-93h3m-5 5h3m26 23h3m22 79h3m60-84h3m-20-16h3m-125-19h3m48-14h3m97 0h3m-125 40h3m60-31h3m24 67h3m-113-57h3m-2 12h3m88 108h3m-97-119h3m33 15h3m0 10h3m63-37h3m-66 82h3m48 30h3m-49-153h3m-64 156h3m-27-58h3m84-41h3m-12-80h3m-64 147h3m24-44h3m61 54h3m30-157h3m-47 152h3m-28 5h3m-58 21h3m-39-30h3m189-98h3m-59-20h3m-28 96h3m16-22h3m-124-3h3m128-57h3m-20 20h3m-11-24h3m91-40h3m-121 82h3m-9 38h3m48 32h3m-53-108h3m91 4h3m-60 44h3m-47-18h3m1 11h3m115-101h3m-31 102h3m21 20h3m-61-62h3m-21 54h3m33 75h3m-78-184h3m116 108h3m-23-22h3m-75-66h3m91-71h3m-144 137h3m61 63h3m31-40h3m-10-81h3m-39 70h3m27 42h3m49-99h3m-101 19h3m-124 167h3m95-78h3m106 46h3m-36-115h3m43-40h3m-34 23h3m-104 69h3m14 10h3m83-21h3m-7 5h3m-23-9h3m24-73h3m-47 19h3m71 14h3m-91 40h3m56-3h3m-81 82h3m43-180h3m30 146h3m-175-12h3m47 8h3m135-25h3m3-48h3m-12-47h3m-107 71h3m-14-86h3m18 152h3m110-91h3m-141 15h3m-68 56h3m76-4h3m95-103h3m-108 97h3m-68-12h3m116-108h3m-71 121h3m75-82h3m47-23h3m-33 36h3m19 75h3m22-90h3m-146 62h3m-40-21h3m153 63h3m-79-124h3m77 10h3m-85 79h3m55-36h3m-121 11h3m35 86h3m16-133h3m71 87h3m-24-66h3m-104 125h3m35-101h3m-24-21h3m122-8h3m-64 34h3m-56 28h3m-238-18h3m-21 43h3m86 1h3m6-59h3m43-1h3m-70 57h3m71-20h3m-19-45h3m-97-50h3m-25 139h3m110-15h3m-13-89h3m-41 31h3m21-44h3m-10-15h3m-49 58h3m108-107h3m-96 19h3m8 86h3m-50 43h3m-2-94h3m-19 150h3m-1-54h3m133-151h3m-94-3h3m32 121h3m24-8h3m-85 91h3m71-92h3m-41-20h3m50-9h3m-39-39h3m14 10h3m12 55h3m-66 5h3m-42-72h3m-49 63h3m71-42h3m48 62h3m-50 0h3m27-25h3m-40-19h3m37-17h3m-69 29h3m125-65h3m-24 22h3m37-20h3m-72 49h3m25 27h3m-70 57h3m-61-65h3m96-2h3m-30-51h3m6 114h3m8-114h3m31 54h3m13-56h3m-108 110h3m10 66h3m-19-215h3m60 46h3m-12 78h3m-6-53h3m52-62h3m-106 162h3m188-140h3m-261 164h3m165-31h3m57-189h3m-111 36h3m-93 226h3m-15-150h3m165-91h3m-62 26h3m-86 135h3m107 54h3m-49-164h3m-30 35h3m85 74h3m-50-88h3m-124 60h3m131-19h3m38-3h3m-90 51h3m-66 75h3m83-139h3m46 5h3m-137-89h3m35 86h3m10-23h3m13 33h3m-19 32h3m13-2h3m111-90h3m-56 67h3m-83 40h3m85-129h3m-128 81h3m108-18h3m-32-1h3m-91 136h3m93-184h3m18-42h3m33 66h3m-71 64h3m-34-138h3m143 48h3m-128 11h3m13 79h3m37-47h3m59-36h3m-164 116h3m151-46h3m-64-63h3m36 14h3m-172 145h3m55-196h3m-26 72h3m-40 26h3m130-64h3m-13 62h3m-11-82h3m-9 35h3m-70 27h3m100 41h3m-87-35h3m-12-9h3m41 56h3m-36 42h3m-18-83h3m5-49h3m-27 30h3m23 31h3m8 18h3m59 2h3m-42-32h3m-32 6h3m96-123h3m-163 162h3m39-75h3m12 8h3m24 13h3m-59 39h3m65-110h3m35 108h3m-76-48h3m102 42h3m-145 54h3m-26-80h3m62-33h3m45-65h3m-47 35h3m44 36h3m-34-16h3m-11 61h3m-48 38h3m91-99h3m-44 16h3m19 71h3m-7-82h3m-7-48h3m-29 195h3m-68-152h3m112-16h3m7 19h3m-201 35h3m81 25h3m127-102h3m-118 94h3m47-62h3m-56 53h3m102-73h3m-55 13h3m-59-6h3m54 5h3m-51 64h3m-17 50h3m81-68h3m30 2h3m-21-123h3m-27 117h3m-140-14h3m149-11h3m-69 96h3m-70-8h3m141-117h3m-50 83h3m-76 38h3m56-75h3m25 75h3m-10-42h3m-26 2h3m-50-10h3m110-42h3m-23 81h3m-9-164h3m-59 93h3m59 9h3m9-6h3m0 67h3m-35-45h3m-81 84h3m43-27h3m29-74h3m-20-9h3m12-20h3m47-23h3m-45 93h3m-45-49h3m44 99h3m-25-111h3m94 68h3m-265 20h3m118 28h3m136-110h3m-141 81h3m107-67h3m-144 64h3m37 21h3m20-45h3m14-94h3m-19-11h3m48 110h3m-134 85h3m112-142h3m-35 31h3m-15 70h3m-126-28h3m135-81h3m-79 13h3m46 90h3m88 38h3m-79-108h3m-51-12h3m81 45h3m-4 8h3m-152-13h3m74-37h3m106 44h3m-31 20h3m-113-17h3m14-63h3m3 86h3m52-114h3m2-29h3m28 52h3m-42 28h3m1 23h3m18-98h3m-58 94h3m31 8h3m2 52h3m151-141h3m-103 80h3m-157-14h3m115 24h3m-82-121h3m143 149h3m-137 31h3m109-129h3m-95 61h3m5 1h3m85-6h3m-40-23h3m-31 68h3m-29-13h3m45-21h3m-41-65h3m-60 111h3m53-115h3m-72 137h3m171-185h3m-30 62h3m-163 10h3m34 118h3m-87-17h3m140-175h3m-82 118h3m51-47h3m49 42h3m36-95h3m-44 112h3m-103-29h3m44 91h3m1-77h3m35-19h3m59 25h3m-84-56h3m72 34h3m-101 18h3m-7-61h3m-37 15h3m-7 61h3m164-63h3m30-55h3m-177 99h3m69 39h3m2-76h3m-26 72h3m32-136h3m-99 151h3m76-62h3m-128-89h3m180 2h3m-130 87h3m-14 31h3m28 42h3m-89-74h3m42 4h3m17-20h3m19 10h3m-76 1h3m-71 119h3m146-105h3m44 18h3m-32-31h3m-24 46h3m-19-60h3m-1-36h3m90 16h3m-109 13h3m33 30h3m11 70h3m-7-43h3m-142 28h3m127-154h3m-22 32h3m30 29h3m-40 108h3m103-127h3m-120 122h3m9-106h3m24 26h3m42-31h3m-117-50h3m178-4h3m-115 111h3m-16 0h3m-48 25h3m83-85h3m67 53h3m-118-32h3m63 50h3m-105 25h3m86-68h3m-29 19h3m32-50h3m-18 14h3m-72 47h3m94-30h3m-79 74h3m-36-22h3m92-36h3m-30 10h3m-32-24h3m123-25h3m-158 25h3m137-23h3m15 50h3m-136-4h3m-10 112h3m21-155h3m-49 103h3m94-155h3m15 25h3m-167 120h3m114-5h3m-201 79h3m141-189h3m-87 137h3m163-109h3m-128 83h3m39-11h3m14-37h3m-25-70h3m-62 59h3m21-22h3m133-26h3m-51 36h3m1-20h3m-93 101h3m108-42h3m-39 19h3m-12-37h3m24-87h3m-27 27h3m-50 147h3m24-177h3m-37 93h3m133-50h3m-145 37h3m33-18h3m83 37h3m19-28h3m-78-31h3m60-73h3m-183 125h3m82-6h3m159-82h3m-138 91h3m-61 26h3m79-81h3m-12 38h3m-67 29h3m-51 35h3m117-18h3m-55-34h3m101-18h3m-103-7h3m42 1h3m-37 40h3m17-22h3m-29-11h3m-15-37h3m6 2h3m-8 3h3m-86 65h3m116-90h3m-77 142h3m75-14h3m-28-38h3m5-42h3m61-3h3m-100 55h3m-51 93h3m82-114h3m-61 17h3m57-79h3m-71 30h3m106-11h3m-90 0h3m7 112h3m-15-14h3m-54-68h3m27-18h3m-26-27h3m65 77h3m-12-102h3m-15 66h3m61 37h3m-30-45h3m-90-7h3m180 33h3m-62-96h3m13 66h3m-85 7h3m66 78h3m5-150h3m-59 134h3m105-28h3m-90-27h3m-73 80h3m49-94h3m92-42h3m69 36h3m-153 75h3m-46-188h3m103 86h3m-123 103h3m-3-29h3m11-88h3m27 84h3m-57-45h3m-22 89h3m55-50h3m76 0h3m-128 13h3m27 15h3m-34 38h3m241-111h3m-153 35h3m-66 14h3m83-79h3m-32-42h3m-78 69h3m18 92h3m2-55h3m119-39h3m-48 73h3m-48-5h3m-99-15h3m154-79h3m-35 66h3m-56-27h3m50-20h3m-73 54h3m164-6h3m-198-42h3m55 11h3m-58 64h3m59-24h3m-62 64h3m106-52h3m-21-72h3m-76 111h3m29 38h3m-6-81h3m5-63h3m-15 94h3m-49-26h3m133 21h3m-72-99h3m-63 76h3m127-63h3m-39-31h3m-8 3h3m34 36h3m-45-7h3m33 89h3m-49-83h3m-20 116h3m-7-46h3m-75-63h3m69-88h3m44 76h3m-10-30h3m-45 72h3m-26 26h3m98-63h3m-40 6h3m-64 32h3m21-38h3m129-73h3m-159 113h3m-23-32h3m-46 51h3m42 51h3m-25-84h3m-20 116h3m119-140h3m-97 103h3m52-69h3m75-68h3m-56 76h3m10 27h3m-40-91h3m-5 32h3m8 2h3m-68 24h3m94-82h3m-101 155h3m-24-28h3m64-32h3m-7 30h3m64-98h3m-58 46h3m-44 122h3m19-107h3m-3 92h3m-8-50h3m-37-51h3m76-1h3m-19 82h3m-54-94h3m31-39h3m0-19h3m43 5h3m17 55h3m-74 81h3m-31-117h3m37-58h3m98 4h3m1-47h3m-114 178h3m22-73h3m66-39h3m-135 155h3m30-141h3m-42 86h3m57 30h3m-13-3h3m1-35h3m-70 93h3m16-121h3m9 47h3m-1-58h3m29 27h3m-16 58h3m38-28h3m-116 91h3m148-148h3m-65-26h3m13 187h3m-53-92h3m-26 14h3m9 25h3m64-129h3m31-23h3m-103 131h3m107-6h3m-139 24h3m125-139h3m-94 62h3m-19 33h3m35 5h3m-13-49h3m1 111h3m-60-140h3m20 78h3m-2 11h3m-27-63h3m54-20h3m21-15h3m15 78h3m-109-72h3m14-36h3m41 148h3m-35 75h3m-28-139h3m69-70h3m26 3h3m-61 146h3m69-61h3m-90-86h3m10 3h3m23 50h3m50-1h3m-60-9h3m-24 55h3m58-105h3m-60 88h3m64-16h3m-70 35h3m113-66h3m-125 9h3m6 86h3m61-119h3m14-41h3m-120 102h3m210-67h3m-128 9h3m15 32h3m-58 74h3m-5-20h3m-89 4h3m113-49h3m44 23h3m-88 46h3m42-120h3m-18 84h3m-72 6h3m-11-45h3m50 44h3m-69-69h3m106-40h3m13 36h3m-163 41h3m27-30h3m-44 95h3m69-55h3m2 16h3m103-10h3m-39 15h3m-24-82h3m-87 74h3m150 41h3m-54 27h3m-40-78h3m8 26h3m-21 8h3m25-103h3m-64 142h3m28-22h3m-1-78h3m77-53h3m-52 104h3m4-12h3m38-82h3m-85 115h3m26-37h3m32 48h3m38-112h3m3 36h3m-182-2h3m61 50h3m68-26h3m-108 19h3m39 22h3m94-140h3m-72 41h3m31-51h3m-52 91h3m99-2h3m-40 10h3m35-44h3m-69 78h3m-102 28h3m104-27h3m-15-90h3m-71 127h3m-17-146h3m105 63h3m-46-61h3m124 6h3m-170 165h3m63-170h3m0-21h3m42 117h3m-155-120h3m114 94h3m-45 12h3m-64 22h3m-17-38h3m5-6h3m170 21h3m-172 96h3m69-107h3m36-51h3m-23 3h3m-89 98h3m-25 74h3m70-77h3m-21-14h3m36-67h3m-4 28h3m-19 76h3m-124-127h3m148 82h3m-2-55h3m27-36h3m5-27h3m49 107h3m-126-16h3m72-29h3m-24 40h3m-79-71h3m59 23h3m-72 83h3m81-70h3m-21 26h3m76-93h3m-122 144h3m-7-45h3m41-64h3m-83-30h3m-3 209h3m41-92h3m61-40h3m-89 119h3m23-121h3m77-1h3m-151-56h3m97 17h3m-16-16h3m-93 160h3m236-103h3m-231 67h3m51-126h3m-33 69h3m-36 11h3m-93 24h3m179 30h3m-113-109h3m43 62h3m52-67h3m-38 22h3m-20 83h3m-8 29h3m81-60h3m-62-49h3m-28-3h3m38 169h3m19-141h3m-93-33h3m119 70h3m-32-14h3m-22 51h3m-34-49h3m128-100h3m-93 74h3m51-7h3m-86 105h3m4-60h3m-77-80h3m-27 68h3m131 27h3m-67 37h3m-50-1h3m21 45h3m91-194h3m-11 45h3m-82 62h3m-15-49h3m19 0h3m-57 46h3m71 112h3m-23-188h3m-98 98h3m93-25h3m-25 24h3m127-97h3m-146 87h3m98-29h3m-62 37h3m44-200h3m-159 192h3m133-85h3m49-12h3m48 1h3m-118 20h3m54-33h3m-39 87h3m76-85h3m-102 7h3m-24 95h3m43-31h3m-142 27h3m85-49h3m66-7h3m47-46h3m-111 47h3m84 61h3m-23-114h3m-111 188h3m68-71h3m-20-56h3m13 11h3m15-30h3m58-16h3m-79 53h3m-26-85h3m8 98h3m41 18h3m-38-4h3m30-85h3m-23 0h3m9 37h3m-56-7h3m13 62h3m-34-26h3m-59 35h3m-11 56h3m64-117h3m104-43h3m-166 60h3m86 55h3m-83 65h3m114-58h3m-61-132h3m55 73h3m22-30h3m22 32h3m-76 0h3m-53 65h3m27-175h3m23 125h3m28-4h3m-13-9h3m-42-9h3m-43 16h3m55 22h3m-50 148h3m141-295h3m-56 74h3m-129 59h3m128-32h3m-46-22h3m-17 24h3m-30 20h3m7 3h3m-50-77h3m34 99h3m-5-63h3m10 96h3m-31-39h3m-27-34h3m64-149h3m18 199h3m-110-76h3m56-44h3m65-26h3m94 37h3m-129 5h3m27 9h3m23 48h3m-148 67h3m52-15h3m56-33h3m-102-8h3m114-76h3m-63 28h3m-21-24h3m-57 26h3m114-75h3m-130 151h3m52 15h3m-11-26h3m37-85h3m-15 24h3m-27-46h3m168 63h3m-80-17h3m-94 65h3m122-52h3m-112 1h3m7-2h3m2 30h3m-32-35h3m-46 84h3m37-57h3m-8-35h3m-6 106h3m42 28h3m-57-63h3m11-24h3m81-10h3m-96-16h3m27-39h3m-2 46h3m-48 85h3m77-79h3m-52 63h3m57-122h3m-57-21h3m22 34h3m-15-58h3m74 84h3m-190 50h3m179-102h3m-34 17h3m10 22h3m2-59h3m-113 30h3m80 31h3m-75 202h3m21-100h3m1-122h3m-42 61h3m42-33h3m54-30h3m-65 124h3m45-116h3m-49 97h3m-47-71h3m32-55h3m117-6h3m-110-3h3m11 45h3m8 39h3m-11 57h3m-50-44h3m0-38h3m-71 33h3m64 111h3m113-203h3m-33 93h3m-8-86h3m-79-11h3m43 100h3m-16-101h3m80 138h3m-62-60h3m25-55h3m-66 64h3m59-112h3m-123 69h3m109-23h3m-118 74h3m15 8h3m-36 1h3m116-24h3m86 48h3m-37-16h3m-130-87h3m-16-18h3m112 47h3m-45-9h3m89 45h3m-34-16h3m-110-29h3m69 46h3m-81 99h3m-31-46h3m115-159h3m-154 52h3m85 63h3m-1-36h3m98-45h3m-70 83h3m-85 50h3m27-22h3m-28-79h3m-42 78h3m145-106h3m-96 51h3m0 16h3m-13-11h3m89-108h3m-34 81h3m-67 5h3m33 60h3m-27-10h3m-4-35h3m133-85h3m-87 93h3m-39 80h3m-69 2h3m158-132h3m-96 2h3m60-25h3m-13 37h3m-75 88h3m68-79h3m-8 2h3m-85 122h3m62-68h3m-56 27h3m44-52h3m10-24h3m-1 62h3m-47-41h3m14-93h3m68 127h3m-133 48h3m24-44h3m17-59h3m-7 9h3m-36 51h3m-54 22h3m122-190h3m-7 121h3m-31 25h3m103-99h3m-56 80h3m-25-26h3m36 1h3m-112-37h3m134 41h3m-124 56h3m-10-14h3m19 62h3m-21-96h3m-19 43h3m80-38h3m-57-22h3m-35 50h3m8-21h3m12 63h3m81-54h3m-46-46h3m16 12h3m32 9h3m-78-11h3m27-35h3m-43 113h3m-114-64h3m135 9h3m-52 0h3m82 14h3m-58 13h3m28-95h3m-13-39h3m-26 83h3m19 24h3m-96-23h3m117 63h3m-18-36h3m-9 22h3m-91-16h3m92-53h3m-47 52h3m-26-12h3m27 22h3m6-45h3m-39 58h3m9-5h3m-1 11h3m110-93h3m-143 93h3m55-48h3m-26-40h3m35 93h3m-52 1h3m6 26h3m-29-61h3m48-28h3m-10 142h3m-53-132h3m36 15h3m-19 6h3m1-14h3m-41 47h3m-9 95h3m21-36h3m50-203h3m-2 125h3m114-96h3m-111 32h3m-63 166h3m-11-26h3m-15-105h3m51 120h3m-32-214h3m82 37h3m-148 44h3m84 54h3m-18 2h3m55-100h3m28 102h3m-66-48h3m-38 141h3m46-177h3m-16 68h3m80-72h3m-107-7h3m-8 79h3m-21-78h3m-2 4h3m122 199h3m-149-172h3m-13 57h3m60-75h3m82-105h3m6 142h3m-115 49h3m-24 15h3m10-107h3m21 36h3m5 4h3m66-17h3m-76 45h3m-60-36h3m54-69h3m38 76h3m-22-28h3m73 19h3m-110 48h3m0 40h3m66-95h3m-64 110h3m98-174h3m-144 63h3m140-16h3m-10-40h3m-40-9h3m36 12h3m-63 126h3m-76-1h3m20 32h3m-17-19h3m127-131h3m-215 166h3m136-156h3m-47 145h3m33-75h3m-10 70h3m86-144h3m-222 82h3m215-84h3m-168 126h3m28-6h3m30-109h3m-7 119h3m68-16h3m-36-55h3m-61 27h3m-25-83h3m-30 86h3m-43 21h3m164-122h3m-18 143h3m-95-59h3m195-137h3m-148 126h3m126-61h3m-203 183h3m42-63h3m45-64h3m-2 53h3m-29-52h3m-10 20h3m115-78h3m-134 98h3m62-121h3m-103 134h3m71-56h3m53-17h3m-88 84h3m11-64h3m1 86h3m-7-57h3m97-59h3m-42 29h3m-87 8h3m148 49h3m-174-134h3m118 100h3m-191 47h3m61-73h3m83-22h3m-21-13h3m-37 108h3m-45 87h3m30-161h3m64-159h3m-48 219h3m67 9h3m-83-41h3m-36-79h3m-2 28h3m92 1h3m-76 167h3m86-146h3m-69-6h3m-7-2h3m-45 87h3m57-67h3m39-50h3m-183 104h3m95-12h3m54-42h3m-43 14h3m21-3h3m-138-6h3m133-62h3m-79 77h3m37 33h3m2-64h3m58 5h3m-95-12h3m72 11h3m48-56h3m-152 87h3m56-46h3m-2 81h3m43-50h3m-24-21h3m-82-20h3m46 52h3m68-39h3m-75 39h3m-1-33h3m-13-33h3m76 59h3m-113-108h3m-50 108h3m132-73h3m-62 53h3m76 21h3m-70-93h3m-7 22h3m50 47h3m-41-17h3m69 1h3m-49 53h3m15-57h3m-90 80h3m59-25h3m-102 72h3m38-38h3m89-102h3m-37-16h3m36 53h3m-70 36h3m43 7h3m-53 11h3m40-32h3m-75-19h3m43 35h3m-52-19h3m111 57h3m-150-45h3m143-20h3m23-47h3m-176 46h3m61-23h3m154-47h3m-200 118h3m55 15h3m-128-65h3m188-26h3m-35 57h3m35-55h3m-108-17h3m76 31h3m-25 27h3m-39 0h3m13 11h3m-102 17h3m98-84h3m-5-69h3m63 100h3m-83 47h3m-33-58h3m90-35h3m-128 95h3m93-13h3m107-62h3m49-86h3m-258 123h3m11-38h3m53-38h3m-50 69h3m41-76h3m89 23h3m-28 20h3m-105 24h3m61-8h3m-38 101h3m-107-76h3m151-88h3m-74 110h3m-114-73h3m142 101h3m-113-38h3m105-55h3m-60 44h3m72 3h3m-73-45h3m0 44h3m34 56h3m33-157h3m61 132h3m-122-80h3m2 82h3m61-22h3m-83-13h3m-46 127h3m61-183h3m12 109h3m-36-95h3m-72 54h3m63 25h3m76-11h3m-59-51h3m-27 125h3m-1-82h3m44-42h3m13 28h3m27-59h3m-116 71h3m107-80h3m-130 118h3m83 14h3m18-89h3m-43 112h3m-48-60h3m36 17h3m-81-20h3m73-143h3m-3 42h3m-7 65h3m74 49h3m-76-10h3m-172 56h3m214-143h3m26 54h3m-125 14h3m20 56h3m29-19h3m55-101h3m-63 82h3m40-8h3m18-86h3m-28 13h3m56 107h3m-83-73h3m5-14h3m-25 2h3m-17-16h3m-10-32h3m13 53h3m-18-90h3m-62 170h3m67-59h3m-8-17h3m73 44h3m-194 41h3m110-57h3m39-47h3m65-23h3m-69 21h3m58-121h3m-87 169h3m15-25h3m24 99h3m-211 66h3m130-193h3m107 47h3m-111 27h3m-38-38h3m-16 36h3m26-10h3m123-48h3m-86 63h3m-37-46h3m116-71h3m-103 79h3m-30 58h3m79 18h3m-3-142h3m-39 15h3m-20 115h3m6 17h3m76-99h3m-69 24h3m0-94h3m8 133h3m-22 19h3m-73 38h3m62-19h3m-47-128h3m36 8h3m-23 6h3m18 50h3m-28-42h3m30 11h3m-39 116h3m35-58h3m47-57h3m-94 95h3m83-103h3m-80 50h3m-3 51h3m82-80h3m-10-31h3m-84 59h3m152-62h3m-81 104h3m-159 40h3m108-15h3m99-179h3m-196 71h3m80 15h3m58-4h3m-91 97h3m32-76h3m3 1h3m76-76h3m-157 41h3m-14 71h3m16-41h3m124-16h3m-38-22h3m17 0h3m-91-5h3m-89 25h3m136 49h3m-68-105h3m61-2h3m18-13h3m-44 92h3m95-126h3m-134 190h3m-30-53h3m63-12h3m-42-21h3m-6 48h3m85-105h3m-59-19h3m-38 122h3m167-129h3m-152 89h3m-73 30h3m98-28h3m15-102h3m-29 46h3m-18 5h3m21-28h3m-39 93h3m103-32h3m-177 23h3m104 55h3m-63 16h3m-30-68h3m68 10h3m-18-31h3m-50-25h3m58 22h3m-34 8h3m9 56h3m-67-65h3m55-43h3m91 163h3m-224-226h3m396 103h3m-398 245h3m264-331h3m48 68h3m-265 293h3m66-231h3m79 228h3m-113-20h3m286-231h3m-107 185h3m-57-339h3m91 118h3m4-65h3m-192 45h3m257 19h3m-212-81h3m98-37h3m-135 196h3m249 132h3m-204-133h3m147 223h3m47-463h3m-225 342h3m245-152h3m-380-16h3m176 5h3m-138-170h3m23 371h3m18-97h3m284 147h3m-60-404h3m-40 419h3m-55-193h3m22 126h3m-323-158h3m191-185h3m-114 294h3m265 105h3m-15-263h3m-107 109h3m149 95h3m-364-216h3m313 128h3m16-267h3m-99 295h3m62 39h3m-99 64h3m-248-184h3m127-209h3m267-5h3m-126 384h3m-216-303h3m225 114h3m110 132h3m-299-27h3m-112-134h3m232 69h3m126-109h3m-49 10h3m-137-80h3m222-69h3m-273 425h3m166-340h3m-61-87h3m10 339h3m91-111h3m-17-70h3m103 1h3m-397-124h3m308 346h3m-310-196h3m207 126h3m-160-301h3m-21 171h3m356 270h3m-443-278h3m5-45h3m68 66h3m-86 43h3m47-226h3m-15 218h3m-46-178h3m71 57h3m-38-10h3m30-5h3m-21-20h3m-15 45h3m-43 46h3m56 22h3m-67 9h3m78-141h3m-18 84h3m6-12h3m-5-21h3m-13-55h3m27 51h3m-28 82h3m-6-165h3m7 29h3m-54-25h3m-12 20h3"/>
<path transform="scale(0.5)" stroke="#33379f" stroke-width="3.2" stroke-opacity="0.8" fill="none" d="M128 502h3m83-199h3m-31 108h3m2-37h3m26-9h3m-27-4h3m-27 29h3m11-33h3m-27 92h3m-32 47h3m37-113h3m28 11h3m-29-11h3m-40 70h3m56-66h3m-75 121h3m37-161h3m8 46h3m32-36h3m-47 15h3m34-56h3m-78 166h3m-5 12h3m101-174h3m-54 116h3m16-143h3m-44 179h3m-26 13h3m72-196h3m-77 190h3m52-73h3m10-49h3m19-80h3m16 53h3m-82 90h3m50-50h3m-76 116h3m37-132h3m-19 62h3m10-3h3m26-103h3m-23 89h3m-14 3h3m-15 56h3m11-136h3m-38 163h3m-11 5h3m61-196h3m-52 117h3m0 71h3m-16 4h3m49-144h3m6-62h3m-30 99h3m-16 73h3m26-131h3m-20 102h3m-9-62h3m-5 50h3m-49 79h3m23-57h3m64-167h3m-33 107h3m9-50h3m-64 165h3m35-86h3m16-100h3m-71 178h3m66-128h3m-24 19h3m4-19h3m-5 54h3m10-52h3m-55 125h3m43-79h3m-62 102h3m53-113h3m19-104h3m-66 188h3m26-123h3m13-2h3m-1-6h3m-39 109h3m31-26h3m16-156h3m-29 141h3m8-31h3m11-68h3m-19 36h3m16 0h3m-31 62h3m-2-45h3m65-41h3m-61 18h3m-50 94h3m78-155h3m-31 77h3m-48 132h3m-30 0h3m21-93h3m-19 76h3m47-131h3m-5 64h3m-12-8h3m-34 95h3m34-101h3m-54 113h3m13-61h3m-10 34h3m5 18h3m-1-29h3m20-42h3m-9-25h3m29-28h3m-64 96h3m57-99h3m-70 108h3m83-109h3m-33 23h3m19-93h3m-38 160h3m-21-13h3m34-42h3m9-140h3m18 65h3m-54 79h3m-11 31h3m38-68h3m1-72h3m-40 17h3m-33 110h3m42-106h3m15-1h3m-68 184h3m44-158h3m-1 7h3m14-39h3m-30 35h3m44-6h3m-105 142h3m5 9h3m0 11h3m109-227h3m-61 142h3m0-92h3m-67 173h3m98-169h3m5-33h3m17-27h3m-89 137h3m14-34h3m5-75h3m-61 185h3m63-85h3m5-51h3m-76 115h3m-6 36h3m84-196h3m-85 158h3m24-113h3m-9 137h3m-35 0h3m46-155h3m-10 104h3m34-94h3m-80 152h3m58-130h3m-33 48h3m-2-40h3m6 60h3m7-111h3m19 4h3m-3 35h3m1-39h3m-80 166h3m57-117h3m-7 47h3m24-106h3m-51 95h3m9-36h3m10-75h3m-44 155h3m16-88h3m47-37h3m-86 142h3m46-101h3m-48 95h3m7 25h3m46-112h3m14-78h3m-12 49h3m-80 167h3m70-125h3m-22 3h3m-8 28h3m12-96h3m-38 101h3m28-46h3m-43 10h3m33 21h3m-13-80h3m-12 94h3m1-11h3m31-116h3m-28 120h3m-45 73h3m-8-69h3m18 36h3m24-55h3m48-118h3m-85 169h3m-27 55h3m29-62h3m-10 16h3m20-109h3m2-2h3m-8-4h3m-40 126h3m20-109h3m-28 113h3m16-64h3m-8 72h3m9-48h3m-25 28h3m46-138h3m-60 156h3m63-114h3m-57 144h3m-5-46h3m1 19h3m17 7h3m-26 11h3m43-93h3m-24-68h3m95-36h3m-81 95h3m-13 9h3m-32 96h3m47-143h3m18-39h3m-21 34h3m-34 45h3m10-25h3m-31-5h3m56-26h3m-31 67h3m1-47h3m-11-51h3m14 68h3m-65 54h3m29-44h3m14 1h3m-4 25h3m-24 9h3m6-55h3m-47 66h3m48-102h3m-60 169h3m26-51h3m69-134h3m-43 19h3m-43 142h3m15-35h3m26-85h3m-14-48h3m11 71h3m-6-40h3m-51 112h3m52-160h3m-47 100h3m54-36h3m-89 129h3m108-187h3m-63 97h3m-5 11h3m-35 16h3m129-38h3m-133 118h3m-4-94h3m29 36h3m-54 54h3m31-40h3m56-100h3m-35-41h3m-25 108h3m6-53h3m-19 56h3m31-41h3m-7-53h3m-62 135h3m38-123h3m-4 106h3m-15 4h3m60-138h3m-26 41h3m-43 57h3m16 20h3m32-116h3m-27 60h3m3-72h3m-64 186h3m-10 5h3m66-135h3m-46 59h3m39-45h3m-33 42h3m21 6h3m24-98h3m-44 31h3m-31 141h3m-10-26h3m30-80h3m25-7h3m-74 113h3m13 5h3m30-131h3m12-5h3m-47 111h3m-15-17h3m-2 11h3m68-175h3m-77 188h3m57-129h3m-17 10h3m-4-33h3m-15 69h3m66-109h3m-66 75h3m6 3h3m29-35h3m-20 27h3m28-44h3m-91 144h3m-11-9h3m78-141h3m-33-23h3m3 28h3m-22 75h3m2 49h3m-23-43h3m44-122h3m-12 61h3m-51 123h3m-18 42h3m4 2h3m3-36h3m18-52h3m50-151h3m-46 145h3m71-118h3m-69 92h3m22-27h3m-14-34h3m-20 82h3m-10-120h3m-18 154h3m-25 10h3m34-36h3m25-125h3m2-10h3m-11 22h3m-6 45h3m-38 19h3m22 17h3m-53 121h3m101-166h3m-75 103h3m-26 30h3m37-53h3m-48 59h3m47-151h3m4 65h3m43-87h3m-48 16h3m-21 94h3m-7 9h3m43-53h3m-40 15h3m19-103h3m-26 80h3m-38 133h3m-11-56h3m26-66h3m23-43h3m-50 146h3m45-54h3m44-124h3m-45 23h3m-22-11h3m-20 108h3m3-34h3m28-72h3m-39 117h3m0 21h3m0-10h3m-12-50h3m-39 109h3m41-99h3m35-54h3m-80 142h3m76-144h3m-37 33h3m39-77h3m-38 110h3m-59 59h3m44-18h3m-26 48h3m42-165h3m-61 137h3m68-134h3m-73 147h3m71-120h3m-3-77h3m-90 211h3m40-65h3m1-37h3m43-10h3m-33 16h3m-47 78h3m73-188h3m-61 127h3m36-92h3m-18 54h3m3 2h3m-32 47h3m5-134h3m5 53h3m-10 86h3m23-105h3m-63 148h3m77-195h3m-58 120h3m-2 34h3m27-133h3m-34 121h3m29-123h3m-27 132h3m-14 14h3m-37 16h3m51-64h3m-24-4h3m11 24h3m10-97h3m-1 78h3m-55 61h3m-14 44h3m10-5h3m32-137h3m12 13h3m-26 60h3m-32 55h3m55-126h3m-73 140h3m79-177h3m-4 40h3m-56 125h3m18-60h3m4-46h3m41-108h3m-38 83h3m36-119h3m-27 118h3m-61 69h3m74-136h3m-82 165h3m21 10h3m10-47h3m60-105h3m-63 60h3m-31 76h3m-31 4h3m-5 27h3m27-47h3m20-16h3m-46 83h3m72-191h3m-81 190h3m11-104h3m39-9h3m-14 36h3m22-103h3m-32 85h3m7-34h3m22-96h3m-88 211h3m41-66h3m9-50h3m57-105h3m-30 97h3m-76 117h3m-2 2h3m56-136h3m-36 118h3m-33 38h3m41-94h3m-7 13h3m8-65h3m-57 139h3m76-131h3m-43-56h3m3 33h3m2 47h3m-21-9h3m13 5h3m-18 42h3m-8 2h3m23-41h3m-19-61h3m-13 13h3m-24 129h3m-6 30h3m90-265h3m-27 138h3m-67 72h3m41-110h3m-10-18h3m-42 136h3m-19 32h3m38-99h3m23-19h3m-3 14h3m-39 43h3m19-23h3m63-80h3m-42 7h3m-62 134h3m-10 25h3m79-217h3m-72 187h3m49-152h3m16 7h3m-67 99h3m-21 57h3m-11-19h3m47-67h3m28-101h3m-1 59h3m-35 45h3m-12-77h3m26 53h3m3-83h3m-3 37h3m1 20h3m-53 97h3m16-47h3m6 1h3m8-94h3m-39 156h3m-21 18h3m26-89h3m99-142h3m-83 107h3m-57 132h3m37-91h3m26-67h3m-79 171h3m-14-14h3m6 25h3m13-67h3m16-17h3m-15 73h3m-11-10h3m45-196h3m-49 182h3m-14 22h3m11-85h3m27-14h3m-7 4h3m-55 105h3m14-23h3m-16 9h3m16-37h3m72-134h3m-39 51h3m-57 75h3m36-33h3m52-112h3m25-36h3m-47 96h3m-74 106h3m-10 8h3m-4 7h3m2 7h3m-12 21h3m73-230h3m2 12h3m-18 98h3m-21 25h3m18-43h3m-57 85h3m51-148h3m-49 87h3m4 53h3m15-55h3m19-103h3m-45 167h3m-16 30h3m51-79h3m-61 95h3m41-98h3m-55 82h3m75-209h3m-6 28h3m-28 15h3m-34 54h3m-15 59h3m41-70h3m8 1h3m-33 87h3m-20-27h3m95-123h3m-67 81h3m-1-41h3m29 19h3m-28 37h3m-27 40h3m-11-11h3m-4 29h3m7 7h3m-22-12h3m-2 17h3m-11 2h3m33-26h3m-58 69h3m67-91h3m-38-72h3m30-60h3m23 0h3m-46 150h3m-14-24h3m-41 70h3m10 9h3m-19-8h3m14 28h3m60-200h3m-2 30h3m-24 55h3m-4-49h3m-24 110h3m7-117h3m10 29h3m16-13h3m18-28h3m-21-8h3m68-92h3m-58 127h3m-13-28h3m-14 36h3m-61 101h3m18-18h3m-7 25h3m3-3h3m22-50h3m-2-120h3m-65 153h3m1 6h3m63-160h3m13-16h3m-69 183h3m-26-23h3m3 13h3m69-121h3m-39 103h3m-47 63h3m41-150h3m18 32h3m-34 24h3m-27 54h3m27-30h3m-26 65h3m-10-35h3m27-16h3m-45 47h3m29-66h3m-8 42h3m28-103h3m21-61h3m-24-8h3m3 85h3m-71 114h3m14-50h3m25-103h3m2 56h3m-13-51h3m44-46h3m-55 89h3m29-65h3m-52 148h3m36-30h3m9-56h3m-53 62h3m-2 25h3m43-91h3m3 24h3m-56 58h3m51-84h3m-30-2h3m16-35h3m-50 104h3m2 8h3m4-1h3m8-6h3m10-116h3m-42 157h3m39-175h3m2 55h3m-12 82h3m21-83h3m10-73h3m-24-33h3m-60 203h3m26-61h3m-33 104h3m20-105h3m22-101h3m-9-12h3m-57 219h3m61-161h3m-57 128h3m38-18h3m-30-28h3m65-65h3m-89 127h3m68-173h3m-77 158h3m36-31h3m2-81h3m-27 119h3m45-136h3m0 14h3m-47 97h3m23-111h3m-38 82h3m-8 61h3m13-2h3m-34-3h3m-2-7h3m21-30h3m-17 37h3m24-103h3m-18 60h3m4-2h3m-34 62h3m32-102h3m-30 59h3m-10 39h3m88-207h3m-25 98h3m-6-17h3m26-28h3m-19-35h3m-34 98h3m2-48h3m-51 133h3m33-101h3m29-16h3m-5-43h3m-73 175h3m13-10h3m-21 9h3m18-42h3m57-156h3m-63 196h3m16-104h3m84-79h3m-52 68h3m-71 112h3m0-11h3m33-43h3m-43 47h3m58-143h3m-7-1h3m-13 22h3m25-68h3m-24 27h3m-59 147h3m36-47h3m-7-14h3m14-63h3m-4 17h3m29-2h3m-90 129h3m62-209h3m-51 110h3m74-107h3m-50 112h3m29-53h3m4-28h3m-56 93h3m13-11h3m-13 0h3m4-51h3m16 32h3m-18 20h3m-43 84h3m66-150h3m-9-5h3m-58 133h3m-22 40h3m109-258h3m-17 25h3m-89 207h3m42-60h3m-34 25h3m4 22h3m46-146h3m-15 57h3m-64 116h3m-1-18h3m64-134h3m-34 89h3m-6 1h3m10-8h3m-21-8h3m-27 50h3m46-95h3m-35 55h3m-9 4h3m32-93h3m-33 117h3m-11-72h3m13 48h3m-3-22h3m27-23h3m-52 89h3m10-58h3m78-115h3m-44-5h3m-8 76h3m-7 15h3m1-67h3m25-53h3m-88 236h3m1-6h3m8-37h3m7 5h3m36-102h3m-60 142h3m34-95h3m-50 93h3m-13-20h3m49-47h3m-11-52h3m-26 95h3m15-18h3m56-138h3m-19 16h3m-64 144h3m45-79h3m-14-52h3m-5 17h3m-10 20h3m-7-54h3m36 14h3m-37 9h3m-4 25h3m6-40h3m3-41h3m2 17h3m-3 49h3m-26-5h3m47-89h3m-23 27h3m-76 200h3m86-213h3m-93 220h3m8-6h3m49-100h3m-64 99h3m54-129h3m-5 12h3m-6-68h3m2 67h3m-22 74h3m60-144h3m-86 165h3m38-107h3m16-51h3m-85 184h3m34-68h3m-18 69h3m49-110h3m-63 74h3m33-72h3m4-91h3m-23 182h3m-17-25h3m-23 41h3m66-93h3m-70 57h3m25-102h3m30-33h3m-66 149h3m44-12h3m-38 23h3m39-153h3m-56 165h3m-4-22h3m33-77h3m41-105h3m-19 8h3m-57 171h3m31-99h3m-3 11h3m-10 64h3m60-142h3m-64 26h3m6 89h3m-49 39h3m60-85h3m-3 14h3m-7 0h3m-4-82h3m-60 164h3m3 0h3m14-24h3m30-46h3m-20 8h3m-1-41h3m-22 80h3m82-171h3m-34 6h3m-51 56h3m58 13h3m-5-20h3m-95 154h3m48-104h3m-12 80h3m-36 28h3m49-96h3m36-111h3m-31 77h3m-60 124h3m-19 16h3m50-91h3m-10-11h3m-18 41h3m34-66h3m41-100h3m-52 131h3m-48 72h3m30-159h3m5 59h3m-4 10h3m3-56h3m-11 57h3m1-37h3m-18 83h3m6-22h3m5-70h3m-34 139h3m5-48h3m1-6h3m-35 55h3m56-109h3m-31-28h3m18 79h3m-20-73h3m-10 82h3m39-153h3m-26 71h3m13 14h3m2-10h3m-79 103h3m25-40h3m53-74h3m-15 20h3m7-26h3m-37 132h3m-16-52h3m69-117h3m-94 181h3m24-53h3m25-11h3m-33-33h3m16-28h3m-14 34h3m8-53h3m-61 117h3m62-60h3m-22 28h3m13-99h3m-61 157h3m61-105h3m-37 15h3m29-50h3m21-62h3m-21 115h3m-65 77h3m-15 15h3m51-96h3m15-79h3m48-21h3m-91 79h3m-36 133h3m-2-5h3m3 0h3m28-85h3m-36 40h3m7-17h3m7 34h3m34-43h3m-28 1h3m46-58h3m-36-44h3m-59 164h3m81-145h3m20-78h3m-47 134h3m-10-18h3m-61 97h3m50-62h3m4-72h3m12 5h3m-28 1h3m-12 93h3m-17 11h3m2-118h3m48 29h3m-22-82h3m-4 11h3m-23 40h3m-25 91h3m12 22h3m-14-59h3m3 92h3m30-176h3m-27 5h3m41 67h3m-53 58h3m13-16h3m-6 16h3m-47 54h3m41-101h3m-27 52h3m-6 40h3m81-195h3m-27 54h3m-45 115h3m-12 9h3m-10 4h3m5-11h3m44-175h3m-34 107h3m-16-12h3m-34 121h3m60-105h3m26-85h3m-48 77h3m-47 95h3m22-46h3m48-54h3m2-32h3m-36 55h3m-5 1h3m-26 36h3m68-141h3m-54 124h3m22-38h3m-5-102h3m-8 127h3m-33 40h3m-4 16h3m20-77h3m-29 40h3m0 27h3m43-89h3m-43 38h3m28-126h3m-9 121h3m-9-18h3m-6-13h3m-23 42h3m-26 71h3m25-79h3m-24 69h3m-8-15h3m9-37h3m-3 37h3m6-20h3m22-59h3m-19 60h3m0 9h3m-6-63h3m-36 93h3m138-210h3m-153 204h3m83-192h3m-23 94h3m-45 56h3m38-62h3m-20 35h3m11-3h3m-55 63h3m-7-21h3m43-94h3m-12 96h3m-7-28h3m0 12h3m9 2h3m0-17h3m-6-2h3m0 3h3m-23 33h3m48-129h3m34-55h3m-131 232h3m68-118h3m-71 111h3m58-126h3m-60 102h3m54-52h3m-20 20h3m102-159h3m-125 208h3m23-99h3m46-72h3m-3-28h3m-107 206h3m58-96h3m1-59h3m-28 35h3m9 15h3m-19 21h3m-25 88h3m43-55h3m19-119h3m-14-7h3m-47 163h3m50-161h3m-79 167h3m30-76h3m56-110h3m-2-17h3m-25-19h3m16 87h3m-46 47h3m33-97h3m-38 107h3m-23 11h3m-33 79h3m17-8h3m-4-41h3m-5 28h3m56-137h3m10 13h3m-14-59h3m-79 195h3m63-198h3m-21 121h3m-29 71h3m-24 23h3m77-159h3m-51 85h3m24-93h3m-37 108h3m-14 45h3m24-106h3m49-57h3m-101 143h3m72-196h3m-37 163h3m-18-18h3m6 29h3m8-80h3m26-62h3m0 0h3m-13 11h3m-38 138h3m-30 38h3m43-48h3m-21 30h3m35-138h3m-48 106h3m18-102h3m5-22h3m4 37h3m-41 110h3m-27 17h3m72-127h3m7-74h3m-78 220h3m194-143h3m-5 30h3m-29-35h3m-28 40h3m39-14h3m79-50h3m-134-12h3m40 65h3m34-20h3m-58 50h3m5-66h3m11 17h3m16 44h3m-10-87h3m7 38h3m-80-9h3m52-1h3m11-15h3m-15 22h3m16 33h3m-47-14h3m25-37h3m-30 5h3m49 53h3m-56 8h3m53-70h3m8 41h3m-65-46h3m-9 1h3m-1 11h3m31 55h3m-18-20h3m-19 2h3m-27 16h3m44-47h3m-2-17h3m1 13h3m-27 40h3m61-54h3m-34 5h3m-1 33h3m-44-14h3m22 0h3m-3-24h3m26 2h3m-28-19h3m-41 55h3m9 12h3m65-85h3m-56 83h3m17-16h3m9-5h3m-24 7h3m19-54h3m-23 43h3m22 29h3m-54-65h3m28 53h3m-3-35h3m5 60h3m9-82h3m-34 29h3m10 63h3m-43-74h3m14 17h3m15 9h3m-18 7h3m8 9h3m-1-49h3m-60 59h3m67-50h3m-46 31h3m-16 4h3m25-11h3m-23-25h3m20 36h3m-33 16h3m60-69h3m-45 61h3m-18-8h3m60-5h3m-60 7h3m29-81h3m-72 48h3m40 10h3m47-35h3m-47 63h3m9 1h3m2-27h3m-14 7h3m37-24h3m-62 29h3m65-22h3m-23 3h3m-55 35h3m39-36h3m-36 24h3m-2 12h3m25-19h3m-5-14h3m-56-19h3m47 64h3m-10-85h3m11 8h3m4 51h3m-12 9h3m-50 28h3m55-29h3m6-51h3m-61 65h3m0-36h3m-10 41h3m6-7h3m28-5h3m-20-11h3m15-87h3m35 28h3m-18 20h3m-21 74h3m-22-95h3m-19 76h3m-25-32h3m69-34h3m-89 74h3m92-74h3m-85 91h3m11-30h3m-14-61h3m62-66h3m38 52h3m-56 29h3m-43 8h3m54 37h3m-33-54h3m-1 56h3m-17-36h3m9 41h3m19-36h3m-25 14h3m-11-6h3m20 38h3m-32-20h3m25-54h3m-23 38h3m-13 9h3m62 20h3m-82 19h3m48-71h3m-67-29h3m-5 78h3m33-50h3m23 31h3m-20 33h3m4-37h3m39-21h3m-92 51h3m37-45h3m12-12h3m12 31h3m-20-57h3m-51 63h3m18-58h3m2 39h3m2 50h3m8-20h3m-13-10h3m8-6h3m-38 1h3m74-11h3m-19 12h3m-23-67h3m34-31h3m-57 94h3m36-20h3m-69 37h3m14-70h3m9 11h3m4-5h3m12 5h3m-25 42h3m1 30h3m15-19h3m20-54h3m-63 12h3m11 47h3m-8-75h3m17-6h3m38 59h3m-72-46h3m-24 39h3m-17 45h3m64-92h3m-9 107h3m-27-2h3m-4-56h3m-12-22h3m11 48h3m33-44h3m-47-1h3m-66-17h3m89 46h3m-14-3h3m-23 8h3m31 5h3m11-39h3m-27 48h3m17-19h3m-13 7h3m-24-15h3m13 3h3m-46 29h3m13 29h3m43-53h3m-10-6h3m-35 49h3m27-6h3m-54-43h3m44 2h3m-24-56h3m-5 26h3m49-23h3m-88 10h3m-1-16h3m2 38h3m-1-15h3m-12 57h3m67-17h3m-67 8h3m-20 14h3m27-43h3m46 46h3m-44 33h3m-18-45h3m39-23h3m18-2h3m-42 9h3m-43-3h3m113-74h3m-12 64h3m-63 7h3m-19 30h3m26-54h3m-51-11h3m32 55h3m2-4h3m-2 11h3m-41-17h3m63 2h3m-30 14h3m22-33h3m-55 36h3m14-52h3m25 13h3m-44 1h3m2-10h3m29 44h3m-41-48h3m19-41h3m19 24h3m22 27h3m-103 50h3m33-59h3m23-21h3m6 91h3m-79-3h3m42-34h3m24-38h3m-4-40h3m-3 107h3m-26-95h3m3 97h3m-30-10h3m43-81h3m-42 52h3m41-59h3m-23 75h3m-5-35h3m-9-37h3m-23 1h3m21 65h3m-21 6h3m-22 25h3m29-56h3m-5 34h3m46-11h3m-86-6h3m85-7h3m-80 3h3m-24 53h3m107-65h3m-103-7h3m20 1h3m5-36h3m-24 68h3m38 15h3m-45 3h3m-3-54h3m42 5h3m-3-4h3m-19 30h3m-11-52h3m-31 99h3m39-25h3m-53-2h3m55-49h3m-34 42h3m10-58h3m32 62h3m-28-84h3m38 63h3m-81-47h3m31 67h3m-15-52h3m-27 45h3m56-28h3m-36 32h3m-17 35h3m3-60h3m3 31h3m-5-29h3m7-37h3m-17 83h3m15-36h3m48-17h3m-71-45h3m-17 71h3m54-29h3m-38 15h3m-23 15h3m29-1h3m-30-2h3m20 15h3m-22-55h3m35 15h3m-40-9h3m-1 53h3m32-54h3m7 19h3m14-13h3m-19-30h3m-34 70h3m17-23h3m-2 33h3m-53 5h3m59-52h3m-49 35h3m-5-9h3m6-42h3m-41 42h3m19-22h3m-24 31h3m61-116h3m13 70h3m-66-29h3m31 59h3m14-51h3m-34 76h3m22 17h3m-79-40h3m40-25h3m-19 0h3m25-5h3m6 18h3m6-11h3m30-13h3m-61 43h3m21 5h3m-27-62h3m-3 40h3m19 37h3m-46-63h3m-3 70h3m38-66h3m9-4h3m-38 11h3m-52-6h3m45 49h3m37-42h3m-69 16h3m6-13h3m42-36h3m-44 48h3m4 19h3m-6 31h3m72-84h3m-42 13h3m-33 18h3m20-41h3m-3 9h3m-31 9h3m13 48h3m10-9h3m-45-20h3m39 12h3m-24 44h3m3-71h3m32-3h3m-57 48h3m7-28h3m-12 13h3m22 17h3m5-33h3m-28-67h3m25 66h3m13-37h3m32 5h3m-105 53h3m15 9h3m17-24h3m-6-18h3m-2 15h3m-3 1h3m-34 19h3m44-49h3m-22 47h3m-7 2h3m2-42h3m8 4h3m-4 16h3m-38 54h3m75-78h3m-63 52h3m-2-15h3m-34 22h3m31-48h3m27 21h3m-33 10h3m12-17h3m12-16h3m-26 26h3m-10 11h3m32-45h3m-63 50h3m20-30h3m15-47h3m-40 57h3m34 21h3m-33-74h3m20 53h3m6-45h3m-39 34h3m48 14h3m-58 40h3m46-21h3m-25-51h3m35 61h3m-44-11h3m-64-24h3m83 23h3m-64-56h3m53 24h3m-8-22h3m27 36h3m-56-3h3m26-74h3m-13 75h3m-32 22h3m67-65h3m-67 58h3m16-21h3m-6 55h3m-12-50h3m-29 45h3m-9 12h3m34-74h3m9 49h3m24-26h3m-44-4h3m-4-77h3m-38 76h3m1 13h3m76-12h3m-66-1h3m44-28h3m-6-22h3m-36 35h3m25 38h3m17-20h3m12-43h3m-18 21h3m-31 15h3m0-10h3m53-53h3m-106 118h3m35-74h3m11 30h3m-23 16h3m-45-29h3m71-27h3m-12 21h3m-26 19h3m24-70h3m-37 1h3m3 56h3m19 26h3m13-54h3m-34 7h3m-16 50h3m58-32h3m-100 14h3m19 49h3m18-99h3m-1 56h3m36-30h3m-13 34h3m-38-33h3m24-31h3m-39 57h3m16 29h3m-16 0h3m-21-47h3m11-15h3m-16 57h3m-10-42h3m34-42h3m-36 53h3m48 26h3m5-39h3m-58-29h3m82 37h3m-28 13h3m8-20h3m-60 13h3m38 27h3m-56-29h3m-15 30h3m68 6h3m-45-79h3m9 38h3m25 22h3m-43 14h3m3-24h3m24-53h3m12 31h3m-48 24h3m4-42h3m4 25h3m-18 48h3m15-58h3m-15 38h3m-29-40h3m18 45h3m23-25h3m-52 8h3m72 15h3m-115 15h3m42-35h3m2-7h3m-9 6h3m14 35h3m-38 17h3m15-38h3m74-15h3m-47 7h3m7 19h3m-11-9h3m-32-9h3m11 1h3m4-1h3m-25-34h3m33 7h3m4 1h3m61-50h3m-96 82h3m5-12h3m-45 30h3m20-88h3m18 72h3m-1-11h3m-47-1h3m10 38h3m18-78h3m-29 37h3m23 15h3m22-52h3m24 17h3m-79 28h3m23-3h3m-11-32h3m11 14h3m3 24h3m-36-19h3m5 56h3m32-88h3m-68-3h3m51 2h3m-13-16h3m2 26h3m-7 62h3m-6-23h3m-16 8h3m29-67h3m-78 85h3m66-130h3m-31 146h3m21-65h3m-1-17h3m2 32h3m-40 43h3m28-99h3m-7 37h3m-4 14h3m-59 18h3m58-78h3m-24 13h3m25 10h3m-54 70h3m32 2h3m-4-21h3m-5 42h3m-15-41h3m34-65h3m-25 102h3m3-82h3m-47 47h3m39-43h3m20-31h3m-17 12h3m-42 39h3m34-4h3m58-47h3m-76 29h3m23 45h3m-21-20h3m6 12h3m-16-49h3m-25 58h3m-1-30h3m40 21h3m-47 11h3m50 4h3m2-3h3m-49-37h3m-6 7h3m16 12h3m14-39h3m-52 35h3m25-38h3m-12-25h3m20 49h3m-58-1h3m31 17h3m5-7h3m-13-6h3m17-14h3m-63 62h3m-3-34h3m4-19h3m-4 44h3m15-33h3m27-36h3m-18 14h3m-30 25h3m29-43h3m-55 33h3m55 35h3m-5-15h3m-8-43h3m8-17h3m12 69h3m-11-26h3m10 10h3m-20-51h3m0 50h3m-24-15h3m-26 86h3m65-94h3m-49 84h3m35-61h3m-26-5h3m-18 60h3m25-82h3m-56 71h3m29-55h3m42 5h3m-26-12h3m1 15h3m13-14h3m-95-56h3m73-4h3m-60 95h3m34-39h3m-1-24h3m-32 43h3m18-7h3m-34 3h3m37 2h3m-9-14h3m21-8h3m-57 62h3m-45-35h3m57-7h3m18-7h3m9-17h3m-15 54h3m-7-10h3m-8 6h3m25-58h3m-13 46h3m-31-5h3m-6 58h3m-15-72h3m19 11h3m2 0h3m9-40h3m-11 17h3m-15 5h3m-41 56h3m6-82h3m67 45h3m-46-28h3m25 16h3m-27 45h3m6-61h3m-12 43h3m-28-71h3m61 51h3m-74-8h3m10 12h3m32 0h3m-24 32h3m-4-18h3m2 16h3m21-16h3m-25 6h3m-12-40h3m-10 0h3m35 22h3m-21 36h3m5-64h3m-144 75h3m92-59h3m-18 23h3m63-76h3m-18 97h3m-29-47h3m28 29h3m5-33h3m-65 29h3m47-52h3m-34 99h3m-4-78h3m-16-23h3m8 57h3m41-7h3m-30-22h3m-19 51h3m23-42h3m13-7h3m-30-31h3m20-6h3m-44 97h3m19-109h3m-33 54h3m25-44h3m-4 70h3m27-60h3m-55 77h3m35-45h3m-20 41h3m-3-14h3m-13-32h3m42-26h3m-2 79h3m-23-64h3m-7 46h3m-1-1h3m-14 8h3m49-61h3m-75 41h3m35-49h3m-37 26h3m10 16h3m-26 30h3m54-1h3m-40-31h3m15 10h3m-7 0h3m18-94h3m-19 43h3m-50 58h3m5-56h3m44 63h3m3 21h3m-15-10h3m-4-36h3m21 3h3m-6-18h3m-23-20h3m20 76h3m-14-30h3m-11-43h3m12 28h3m-64 21h3m-4 27h3m-3-32h3m24 21h3m-28-34h3m4-23h3m-13 15h3m22 53h3m44-82h3m-36 18h3m-50-18h3m94 24h3m-19-20h3m-38 46h3m15-45h3m-15 54h3m-6-36h3m-10 39h3m-14-28h3m36-23h3m-26 47h3m10-12h3m-56 39h3m47-36h3m21-53h3m-37 53h3m18-9h3m-46 39h3m22-3h3m11-32h3m-60 64h3m46-68h3m15 13h3m-34-21h3m37 20h3m-47 28h3m16-90h3m43 37h3m-52 38h3m-54 38h3m64-79h3m-45 30h3m-9-67h3m25 28h3m-9 2h3m4 57h3m-3-7h3m-47 30h3m71-80h3m-68 11h3m16-25h3m8 26h3m11 26h3m-2-56h3m18 28h3m13-9h3m-52-3h3m0 83h3m13-35h3m18-30h3m-49-5h3m15 53h3m-63-10h3m32 18h3m11-40h3m13-4h3m-83 19h3m57-37h3m10 13h3m-15-12h3m7-15h3m2 52h3m-52-16h3m28 17h3m-45 17h3m1-18h3m18-58h3m7 37h3m23-39h3m-35 66h3m-26-6h3m19 13h3m25-23h3m-11-55h3m2 72h3m5 29h3m-55-67h3m23-61h3m-20 55h3m21 0h3m52-53h3m31-124h3m-54 13h3m-37-50h3m76 89h3m-122 52h3m201-16h3m-99-90h3m-86 80h3m249-88h3m-207 50h3m-19 96h3m13-8h3m-1 19h3m-68-3h3m-7-32h3m80-179h3m-29 111h3m3 52h3m96-107h3m-83-61h3m-45 155h3m-27 2h3m33 95h3m19-128h3m-16-49h3m158-64h3m-49 53h3m-140 122h3m16 7h3m10 29h3m83-44h3m-53-98h3m-136 82h3m204-51h3m-167 0h3m163-53h3m-75-48h3m99 44h3m-183 202h3m14-94h3m103-167h3m-156 167h3m159-143h3m54 99h3m-188 90h3m-41-26h3m203-42h3m-142-22h3m-91 56h3m64-20h3m22-29h3m3 82h3m-28-108h3m122-73h3m-194 166h3m-5-28h3m72-43h3m75 20h3m-118 75h3m128-203h3m-98 178h3m217-202h3m-193 213h3m-32-49h3m-118-20h3m86 52h3m-7 37h3m-7-72h3m158-119h3m-64 46h3m-139 101h3m-52-25h3m146 56h3m-112-76h3m192-62h3m-113 41h3m-10 80h3m143-227h3m-20 66h3m-148 62h3m89 20h3m46 48h3m-120-116h3m205-57h3m-188 89h3m-21 21h3m85-5h3m23-2h3m-41-112h3m-152 250h3m62 13h3m-65-64h3m212-77h3m32-141h3m-213 120h3m-58 75h3m-23-21h3m183 30h3m-132 45h3m9-99h3m16 22h3m19-48h3m50-20h3m15-13h3m34 3h3m-136 92h3m-22 37h3m-50-80h3m165 44h3m12 37h3m-143-86h3m214-34h3m-172 33h3m90-29h3m-153 95h3m136-95h3m-117 3h3m79 34h3m-90 24h3m152-96h3m-159 149h3m185-15h3m-178-74h3m-2 37h3m-102 50h3m78-119h3m-11 40h3m213-74h3m-276 130h3m16-18h3m43 9h3m1 2h3m31 12h3m-41 70h3m156-231h3m91-9h3m-41 79h3m-179-37h3m81 108h3m-73 56h3m145-234h3m-217 202h3m38-99h3m19 83h3m78-159h3m-93 227h3m-121-31h3m0-21h3m121-50h3m101-5h3m-80-41h3m-155 22h3m176-101h3m24 155h3m-186-47h3m267-51h3m-215 133h3m-27-66h3m176-57h3m-220 70h3m-28 45h3m149-121h3m-50 81h3m68-122h3m-3 91h3m9 65h3m-94 20h3m145-88h3m-201 5h3m52 30h3m127-66h3m-155 172h3m-42-95h3m-65-2h3m247-123h3m-110 167h3m-124-68h3m55 34h3m2 2h3m4-27h3m195-42h3m-62 34h3m-104 119h3m150-178h3m-28-87h3m-235 173h3m48-89h3m84 188h3m77-202h3m-93 74h3m105 16h3m-155-78h3m-28 81h3m50-72h3m2 108h3m143-56h3m-53 66h3m-145 17h3m53 19h3m-46-179h3m-92 78h3m180-74h3m-71 37h3m195-104h3m-341 200h3m91-32h3m-65 16h3m213-32h3m-163 63h3m107-59h3m-137 24h3m61 125h3m-30-115h3m-8 71h3m-18-122h3m81 55h3m-127 5h3m106 32h3m126-120h3m12 7h3m1-11h3m-194 8h3m-16 114h3m154-184h3m-59-15h3m-89 149h3m30 66h3m79-70h3m94-141h3m-264 94h3m222-85h3m-100 80h3m-110-40h3m194 17h3m-186 42h3m7-9h3m-38 57h3m44 52h3m188-194h3m-35-7h3m-108 186h3m-136-62h3m14-9h3m124 31h3m-180-13h3m206-153h3m-215 135h3m107 40h3m3-84h3m19 172h3m123-226h3m-18 11h3m-130 47h3m-3 16h3m167-132h3m-97 140h3m-104-15h3m112 52h3m-94 23h3m-50-3h3m1-92h3m54 88h3m101-89h3m-188 40h3m271-125h3m-178 184h3m-116-25h3m107-42h3m147-76h3m-219 183h3m176-238h3m-18 164h3m-110-155h3m-9 158h3m-8-9h3m-15 75h3m-77-55h3m74 27h3m12 2h3m28 29h3m51-137h3m11 58h3m18-129h3m16 92h3m-175 21h3m177-119h3m-145 18h3m150-13h3m-61 49h3m-136 176h3m-10-174h3m157-4h3m-162 73h3m116-118h3m-76 72h3m146-99h3m-35 77h3m-89 45h3m66-98h3m-59 103h3m81-108h3m-219 142h3m140-77h3m16 5h3m-226 71h3m194-50h3m50 52h3m-63 16h3m34-103h3m-85 63h3m83-113h3m74-48h3m-62 96h3m-23 22h3m45-42h3m-43 105h3m60-32h3m-179 11h3m180-62h3m-126-3h3m-18 142h3m72-52h3m3-110h3m-9 4h3m75 20h3m-32-78h3m-100 140h3m108-48h3m-71-11h3m44-4h3m-49-17h3m-58 58h3m77-116h3m-154 178h3m13-89h3m164-29h3m27 4h3m-43 13h3m-163 77h3m165-148h3m-56 70h3m25 30h3m21-98h3m38 43h3m-350 275h3m328-247h3m-189 197h3m119-226h3m-29 4h3m-23 21h3m16 50h3m81-80h3m-66 5h3m30 59h3m-119 4h3m172-115h3m-225 287h3m225-195h3m-71-7h3m-61 45h3m-6 30h3m-81 7h3m111-106h3m45 60h3m-94 61h3m87-53h3m-87-90h3m-17 74h3m8-15h3m9 38h3m3-131h3m23 43h3m-86 74h3m52 8h3m-21 35h3m87-116h3m-126 86h3m-30-20h3m97 38h3m41-116h3m-63 22h3m-144 169h3m171-168h3m20 57h3m-77-27h3m17-43h3m-133 104h3m195-75h3m-90-2h3m-6 103h3m-3-155h3m-7 114h3m-25-65h3m61-10h3m58 9h3m-123 18h3m103-41h3m-96-34h3m-47 237h3m65-212h3m-46 20h3m48-2h3m-65 32h3m-32 121h3m114-143h3m-38-7h3m35-46h3m-47 45h3m14-5h3m-2 16h3m37-61h3m-43 49h3m-36 21h3m135-63h3m-207 104h3m165-136h3m-211 201h3m81-82h3m54-71h3m83 50h3m-49-10h3m-37 21h3m79-19h3m-49-23h3m-120 65h3m-26 56h3m110-62h3m-134 59h3m-5-70h3m-2 29h3m-18 23h3m69-28h3m14-50h3m29 10h3m91-3h3m-2 3h3m-31-91h3m-145 103h3m-87 37h3m180-33h3m-4 28h3m-62-27h3m-31-29h3m86 30h3m-175 85h3m112-76h3m32-69h3m11 104h3m78-103h3m-26 29h3m-88 63h3m53 32h3m-31-85h3m-77 82h3m-17 11h3m12-42h3m-74 81h3m203-74h3m-50 23h3m-22 0h3m35-87h3m-109 180h3m62-80h3m63-35h3m-113 17h3m-111 168h3m144-229h3m-135 157h3m8-57h3m-5-66h3m16-44h3m-29 182h3m-107-117h3m84-11h3m-52 28h3m18 73h3m-71 2h3m108-85h3m2-23h3m-13 120h3m-36-68h3m96-134h3m-21 106h3m-83-42h3m39-12h3m35 94h3m-37-1h3m116-149h3m-178 101h3m45 20h3m-2-50h3m41 117h3m-31-44h3m-74-30h3m-48 56h3m18 30h3m5-45h3m25-20h3m-76 60h3m107-145h3m8 42h3m25-37h3m-95 98h3m27 3h3m11-41h3m4-32h3m-52-4h3m77 119h3m-16-68h3m-42 15h3m-8-34h3m5 28h3m-73 14h3m109-66h3m-89 43h3m49-39h3m-6 22h3m-93 45h3m107-40h3m3 27h3m-105-22h3m120 35h3m-91-29h3m96-80h3m-111 96h3m54-79h3m-47 91h3m72 77h3m-87-74h3m44-20h3m19-62h3m10 49h3m-102-16h3m-25 93h3m79-123h3m27 44h3m27 46h3m-13-46h3m-83 29h3m121-84h3m-85 55h3m-26-23h3m-62 65h3m99-106h3m20-22h3m-137 116h3m103-84h3m10 6h3m-84 60h3m45 60h3m30-21h3m-65-32h3m41-16h3m26-93h3m5-5h3m-26 48h3m-57 72h3m47-56h3m-159 137h3m146-60h3m-22-28h3m10-39h3m-2 38h3m5-16h3m-83 48h3m101 51h3m-44-86h3m-71-7h3m-21 4h3m95 66h3m-127-44h3m162-79h3m-96 68h3m23-99h3m-91 148h3m173-102h3m-121 64h3m39-94h3m-92 138h3m-7-59h3m9 39h3m58 40h3m-96-46h3m70-17h3m86-91h3m-4-30h3m-9 1h3m-85 141h3m93-69h3m-160 67h3m-22-28h3m136-5h3m-31 14h3m19-47h3m-61 8h3m135-29h3m-126 41h3m56-28h3m-108 115h3m154-93h3m35-123h3m-209 158h3m98 13h3m-41-111h3m-21 90h3m-75-18h3m107 100h3m-39-58h3m-12-37h3m-6-9h3m43-40h3m42 20h3m-140 76h3m126-122h3m-66 59h3m-20 0h3m25 23h3m63 11h3m-70-14h3m-11-47h3m-9 2h3m96 20h3m-52 60h3m-15-45h3m14-59h3m-77 53h3m-6 5h3m1 11h3m44 4h3m-25 47h3m131-139h3m-72 76h3m-31-35h3m-9-44h3m-79 119h3m29-39h3m23-1h3m55-2h3m-29-8h3m-31 16h3m-27 16h3m-99 50h3m99-29h3m-67-31h3m128-27h3m-90 48h3m60-80h3m-84 46h3m91 75h3m-14-202h3m-96 179h3m97-73h3m-36 76h3m21-85h3m-47 32h3m-28 24h3m73-27h3m-15-40h3m5 22h3m-62 43h3m31-63h3m-67 52h3m55-60h3m-4 146h3m33-115h3m-119 20h3m62-45h3m42 29h3m-100 52h3m86-61h3m85-54h3m-62 88h3m-26-35h3m-53-19h3m109 34h3m-104 17h3m-37 39h3m124-100h3m-36 10h3m-75 52h3m57-8h3m3-53h3m-149 81h3m115-65h3m28 28h3m-32-60h3m-37 112h3m32-104h3m-81 79h3m11-33h3m25 24h3m62-79h3m-32 151h3m-96-53h3m44-43h3m35 41h3m-35 4h3m19-4h3m-29-27h3m51-4h3m38 39h3m-132-47h3m196 18h3m-140 36h3m-39-10h3m45-20h3m-12-27h3m-68 77h3m60-6h3m7 18h3m57-119h3m-27 114h3m-16-60h3m-66-45h3m-18 37h3m65-37h3m12 7h3m-38 16h3m61 3h3m-112 56h3m43 9h3m15 11h3m129-106h3m-194 70h3m8-64h3m15-44h3m-69 134h3m49-48h3m60-22h3m-102 37h3m26-82h3m25 58h3m39 10h3m-58 58h3m20-26h3m63-58h3m-54-64h3m12 200h3m13-202h3m22 78h3m-116-28h3m50 8h3m46-62h3m-141 62h3m107 3h3m-62-37h3m32 21h3m-64 17h3m52 10h3m34 27h3m4-3h3m-76-13h3m-30 2h3m-12 16h3m124-68h3m-34 110h3m-18-116h3m-3 113h3m-24-35h3m-40-76h3m19 47h3m23 2h3m11-59h3m-52 46h3m-37 73h3m107-145h3m-140 59h3m41 34h3m24 94h3m0-162h3m23 131h3m-75-106h3m76-1h3m-7 44h3m1-24h3m-109 23h3m125-87h3m-85 96h3m-44-27h3m77 98h3m-12-30h3m22-70h3m-31-87h3m2 88h3m6 51h3m-93 29h3m84-33h3m17-7h3m-10 19h3m-32 71h3m15-20h3m-41-108h3m29 97h3m-32-96h3m13-41h3m-20 11h3m98 70h3m-116 6h3m80-54h3m-40-18h3m40 106h3m-12 7h3m-4-123h3m-47 111h3m-82 17h3m34-52h3m32-10h3m40-68h3m49-34h3m-32 94h3m-20 18h3m-151 44h3m60-49h3m44-63h3m19 95h3m24-5h3m12-129h3m13 48h3m-31-76h3m-77 107h3m21-13h3m-114 115h3m132-60h3m-81-37h3m66-68h3m-84 125h3m43-29h3m36-73h3m7-60h3m-40 111h3m39 4h3m-40 21h3m29 47h3m-79-44h3m-17-33h3m68-13h3m45 34h3m-35-15h3m-53 57h3m9-26h3m41-73h3m15 94h3m-23-38h3m-56-21h3m0 36h3m-1-61h3m3 31h3m-103 66h3m109-44h3m-28-44h3m-30 5h3m97-69h3m-121 64h3m116-9h3m3-57h3m-79 98h3m17-28h3m41 45h3m-4 17h3m-150 36h3m128-143h3m-138 127h3m58-73h3m65-21h3m-105 74h3m57-35h3m25-93h3m-56 115h3m-27 2h3m34-21h3m-19-2h3m39-101h3m38 76h3m-18 46h3m22-100h3m-121 109h3m12-41h3m98-32h3m-45 29h3m29-14h3m1-69h3m-58 44h3m49 53h3m-21-31h3m16 30h3m-42 56h3m-27-60h3m82 2h3m-88-19h3m1-49h3m9 111h3m41-125h3m-77 109h3m24 30h3m6-75h3m45-63h3m-41 51h3m12 50h3m-23-84h3m32 77h3m23 5h3m-40-49h3m-59 9h3m-57 44h3m96-52h3m8-54h3m5 97h3m-126 9h3m143-97h3m-54 134h3m-83-25h3m93-59h3m-70 28h3m133-30h3m-94-44h3m0 39h3m-21-9h3m-58 93h3m104-123h3m-49 102h3m-15-107h3m48 111h3m-40-44h3m48 48h3m-43 44h3m-107 17h3m-44 74h3m149-161h3m141-175h3"/>
<path transform="scale(0.5)" stroke="#4f9c3c" stroke-width="3.2" stroke-opacity="0.7" fill="none" d="M129 512h3m1-14h3m-7 7h3m6 5h3m-13 0h3m-2-18h3m-4 7h3m-1-1h3m-3-5h3m-4 5h3m-2 12h3m-4-5h3m1 5h3m-2-11h3m-9-12h3m-1 22h3m-6-9h3m0-4h3m-4 14h3m-1 0h3m-6 1h3m2-21h3m-8 22h3m2-21h3m-8 19h3m-3 3h3m0-9h3m-6-2h3m-3 8h3m4-24h3m-9 27h3m-1-11h3m-5 9h3m0-25h3m-7-13h3m1 31h3m-5-8h3m-3 11h3m0-1h3m-2 6h3m1-3h3m-12-13h3m-5 12h3m-2-4h3m-1 6h3m-5-14h3m-1 17h3m-1-25h3m-3 9h3m1 5h3m-11 2h3m0 8h3m-4-14h3m-4 8h3m-2-6h3m-4 7h3m-4-2h3m4 4h3m-10 2h3m2 0h3m0-15h3m-9 4h3m-4-3h3m-1 7h3m3 10h3m-10-23h3m-5 14h3m-2 4h3m54-145h3m-38 89h3m-23 50h3m85-163h3m1 9h3m5-77h3m-73 190h3m101-169h3m-47 94h3m-42-47h3m4-52h3m3 131h3m-5-102h3m-11 70h3m-2 9h3m-3 18h3m1-125h3m-6 72h3m-63 142h3m74-157h3m-19 69h3m6-16h3m-51 58h3m2-27h3m2 12h3m6-29h3m10 30h3m-8-88h3m36-71h3m12 78h3m-98 123h3m84-190h3m-89 160h3m92-162h3m-88 143h3m55-47h3m-64 118h3m35-166h3m29 23h3m7-68h3m-49 135h3m-20 32h3m20-13h3m50-179h3m-38 59h3m20-48h3m-73 142h3m65-101h3m-51 71h3m28-26h3m-45 47h3m28-89h3m-28 66h3m5 13h3m8 1h3m-20 51h3m35-117h3m-17 7h3m-2 36h3m-3-56h3m-62 146h3m82-185h3m-22 7h3m-27 74h3m9-21h3m-22 80h3m-19 1h3m33-29h3m-25-1h3m-39 84h3m96-199h3m-52 26h3m12-31h3m4 115h3m-55 93h3m79-224h3m-28 90h3m-58 71h3m38-101h3m-34 119h3m10-10h3m14-62h3m11-63h3m-28 46h3m21-124h3m-8 165h3m-53 38h3m9 54h3m-4-101h3m17 27h3m-8 35h3m-2-51h3m-32 40h3m34-42h3m-2 16h3m9-51h3m-75 119h3m97-198h3m-35 56h3m20-29h3m-45 50h3m-35 133h3m6-80h3m40-96h3m18 23h3m-87 141h3m41-34h3m15-76h3m-31 82h3m37-180h3m-23 44h3m-23 7h3m-3 107h3m14-17h3m14-70h3m-40 88h3m62-146h3m4 23h3m-74 78h3m12 52h3m-2-52h3m9-46h3m-34 9h3m-37 117h3m86-142h3m-14-8h3m-11 56h3m-28 67h3m-6-11h3m-10-3h3m-1-15h3m69-167h3m-46 128h3m3-4h3m-24 0h3m-9 76h3m56-177h3m-30 72h3m7-50h3m-44 120h3m-10 9h3m43-35h3m-2-54h3m-58 99h3m76-136h3m-34 93h3m5-110h3m-33 148h3m-15-1h3m40-133h3m-17 56h3m1 22h3m-83 121h3m52-182h3m44-4h3m-4-9h3m-55 29h3m27 58h3m-61 113h3m52-215h3m-8 100h3m-15 12h3m11-20h3m2-72h3m-9-32h3m-62 213h3m41-90h3m16-81h3m-60 176h3m41-143h3m1 22h3m17-33h3m-32 83h3m-35 46h3m28-24h3m17-103h3m-22 31h3m1 22h3m5-144h3m-58 223h3m-5 13h3m97-250h3m-23 88h3m-7-31h3m-38 154h3m-10-1h3m5-48h3m24-46h3m-34 53h3m-9 36h3m51-181h3m-61 96h3m-26 156h3m0-28h3m32-39h3m-16 4h3m53-172h3m-89 227h3m-9-2h3m59-172h3m-65 144h3m71-128h3m-39 74h3m-39 100h3m97-271h3m-36 41h3m-42 166h3m9 13h3m78-189h3m-46 96h3m-54 47h3m22-28h3m-7-5h3m24 14h3m-17-70h3m-14 49h3m-5-9h3m-19 79h3m16-99h3m28 0h3m-68 60h3m37-47h3m-6-65h3m-23 125h3m29-93h3m-40 97h3m39-119h3m-64 138h3m29-37h3m32-121h3m-77 173h3m19-15h3m43-129h3m-68 167h3m46-94h3m4 31h3m-73 81h3m5-47h3m60-151h3m-32 59h3m80-70h3m-83 58h3m15 62h3m-43 61h3m38-151h3m-24 69h3m19-24h3m-33 74h3m5-90h3m6-26h3m22 46h3m-63 97h3m21-43h3m31-21h3m-18-91h3m-19 148h3m-2-21h3m3-91h3m-55 140h3m8 6h3m68-189h3m-62 169h3m60-139h3m-38 21h3m-32 142h3m3 3h3m20-144h3m4 62h3m-16-25h3m39-51h3m-55 114h3m23-60h3m-59 88h3m12 16h3m5-61h3m89-191h3m-115 242h3m44-133h3m19-63h3m-5 9h3m-52 172h3m32-125h3m-43 132h3m50-171h3m-27 112h3m21-166h3m35 22h3m-42 44h3m-11 4h3m-28 68h3m29-82h3m-42 150h3m-5 1h3m61-142h3m-2-56h3m-48 157h3m7-65h3m-10 45h3m15-133h3m-20 146h3m1-55h3m-44 75h3m73-131h3m-49 60h3m32 21h3m3-161h3m-40 214h3m22-121h3m-5 54h3m-29 37h3m21-79h3m-61 149h3m56-128h3m-37 65h3m37-114h3m-44 133h3m-16 16h3m20-1h3m17-174h3m31-43h3m-42 161h3m-2-26h3m-18-8h3m-28 132h3m62-204h3m-81 201h3m10 6h3m-13 4h3m82-208h3m-75 173h3m15-56h3m64-74h3m-41-69h3m-43 226h3m49-119h3m-65 124h3m14-119h3m19-98h3m-20 107h3m-6 53h3m45-155h3m-44 105h3m-18 46h3m-21 33h3m46-195h3m-2 79h3m4 0h3m-11 30h3m20-65h3m-45 42h3m-18 113h3m5-32h3m73-191h3m-103 249h3m42-208h3m-45 196h3m29-58h3m-16 7h3m-32 47h3m29-37h3m-11 6h3m-25-4h3m42-92h3m39-63h3m-89 168h3m34-64h3m18 42h3m-9-89h3m26-36h3m-59 110h3m15-57h3m-18 79h3m10-83h3m1 87h3m15-113h3m-19 20h3m-61 140h3m93-189h3m-46 60h3m37-41h3m-9-19h3m0 29h3m-49 102h3m12-104h3m-56 140h3m26-73h3m12 6h3m-10 8h3m-35 73h3m76-192h3m18-1h3m-71 169h3m-28-6h3m63-157h3m-67 156h3m14-12h3m-8 1h3m24-136h3m-2 99h3m-14-30h3m-13 18h3m97-111h3m-101 148h3m-19-37h3m-29 94h3m36-69h3m-12-39h3m-6 113h3m-14 16h3m-17-42h3m67-145h3m4 59h3m-12-103h3m-15 71h3m-61 145h3m11-28h3m-19 28h3m50-80h3m-19-3h3m-24 10h3m31-22h3m37-106h3m-53 125h3m29-31h3m-25 28h3m-28 26h3m44-89h3m-8 3h3m-54 128h3m109-278h3m-111 282h3m65-199h3m-11 52h3m-10 2h3m-40 101h3m43-184h3m-32 96h3m10-21h3m-5 5h3m48-89h3m-21 108h3m-88 143h3m24-59h3m-6-36h3m-7 15h3m52-52h3m-55 131h3m57-198h3m-18 10h3m-1-17h3m30-34h3m-48 58h3m-65 184h3m7-21h3m32-66h3m-1-42h3m-10 43h3m15-24h3m-30-56h3m39-18h3m-23 47h3m-32-17h3m-23 160h3m103-233h3m-11 13h3m-60 36h3m-37 170h3m28-100h3m12-14h3m-4-18h3m-13 34h3m1 33h3m-9-44h3m6-64h3m12-8h3m-41 131h3m22-75h3m18 5h3m-43 35h3m-38 69h3m25-29h3m18-138h3m-38 167h3m78-207h3m-22 12h3m-3 63h3m6-44h3m-48 105h3m26-128h3m2 103h3m31-65h3m-111 141h3m61-120h3m-18 7h3m-37 127h3m15-52h3m-10-61h3m9 50h3m-8-18h3m35-107h3m-8 99h3m-48 71h3m-20 43h3m74-186h3m-22-3h3m70-4h3m-104 98h3m-43 77h3m48-77h3m-44 83h3m86-212h3m-24 76h3m-1-62h3m-1 31h3m-85 180h3m102-192h3m-25-17h3m-14-3h3m-1 51h3m-50 145h3m-30 20h3m54-167h3m-27 96h3m-23 70h3m42-212h3m-45 204h3m8-66h3m33-75h3m49-115h3m-34 121h3m2-89h3m-33 116h3m-44 125h3m55-221h3m-52 196h3m22-88h3m0 9h3m6-22h3m-53 74h3m29-109h3m29-28h3m-22 90h3m-38 41h3m43-165h3m-37 115h3m30-71h3m43-78h3m-16 42h3m-48 92h3m-14 49h3m25-82h3m-80 125h3m32-50h3m23-55h3m-12-18h3m-34 140h3m13-40h3m1-29h3m61-124h3m-24 50h3m-1-58h3m-75 208h3m23-77h3m15-30h3m-34 86h3m46-186h3m8 46h3m-40 65h3m12-83h3m0 19h3m-48 135h3m-9-4h3m77-192h3m-38 122h3m-19 38h3m-42 38h3m71-122h3m-73 140h3m42-94h3m-23 64h3m15-59h3m31-159h3m-13 142h3m0-141h3m-24 20h3m-23 208h3m31-182h3m-31 29h3m38 20h3m-66 114h3m66-83h3m-32 2h3m-44 100h3m-2-35h3m3 51h3m0-113h3m16-30h3m-46 134h3m51-117h3m-49 112h3m1-95h3m65-32h3m-3-73h3m-27 49h3m12 7h3m-31 28h3m4-55h3m-52 178h3m93-226h3m-56 130h3m19-5h3m6-39h3m-78 149h3m97-196h3m-46 62h3m-17-13h3m-12 89h3m31-33h3m-52 70h3m85-198h3m-20-5h3m-35 112h3m129-36h3m27-1h3m-17 4h3m12-19h3m-47 15h3m23 13h3m-34-10h3m21-26h3m-14 42h3m-4-2h3m45-26h3m-26 33h3m-30 17h3m-6-46h3m17-13h3m-30 51h3m-2 25h3m22-31h3m-36-17h3m32 33h3m-42-7h3m26-31h3m-45 65h3m34-78h3m-49 12h3m42 6h3m-24-31h3m60 2h3m-20-8h3m-29 24h3m20 26h3m9-6h3m-8-24h3m-46 14h3m66-47h3m-12 40h3m-30-10h3m-16 27h3m-4-28h3m5 22h3m-4-14h3m-22 12h3m-13 50h3m23-60h3m14 7h3m-22 1h3m31-73h3m-58 122h3m21-46h3m10-21h3m-39-1h3m42-13h3m-4 28h3m-10 18h3m-28 25h3m33-31h3m-41-53h3m32 34h3m-25 47h3m-9-20h3m40-63h3m-24 2h3m-27 42h3m7-21h3m-15 53h3m9-32h3m-18 21h3m22-129h3m5 144h3m-26 6h3m14-53h3m-53 21h3m-17-42h3m0 22h3m27 5h3m10 19h3m-18 3h3m17-26h3m-36-6h3m39 19h3m-48 27h3m0 1h3m23-38h3m10-1h3m-20 22h3m-33-10h3m16 2h3m12-51h3m-15 41h3m41-22h3m-51 41h3m12 0h3m2-29h3m28-23h3m-2-35h3m-45 79h3m-4-89h3m13 96h3m-28 17h3m20-50h3m-1 30h3m-38 58h3m29-29h3m24-58h3m-23-12h3m20 6h3m-12 17h3m7-18h3m-56 10h3m12 50h3m11-67h3m4 61h3m-31-16h3m-3-12h3m-6 13h3m12-14h3m-19 38h3m17-87h3m-33 66h3m4 6h3m-2-31h3m31-5h3m6-38h3m-41 29h3m-6 1h3m31-2h3m-16 28h3m27-17h3m-14 22h3m-42-34h3m37 40h3m-18-23h3m-14 26h3m-1-14h3m-81 7h3m55 22h3m9-4h3m-21 15h3m-24-41h3m34 36h3m-10-19h3m-11 7h3m26-66h3m12 24h3m-39 47h3m65-46h3m-77 25h3m-9-11h3m49-9h3m-36 55h3m17-31h3m-6-20h3m-27 18h3m-11 9h3m22-2h3m-16-46h3m-28 33h3m12 11h3m-4 31h3m41-48h3m-20 14h3m9-26h3m-58 30h3m19-78h3m10 59h3m5 12h3m-14 6h3m-8 6h3m32-63h3m-17 53h3m-38-14h3m-6 17h3m17-13h3m-9-16h3m22 33h3m-16-21h3m-3-8h3m1 43h3m23-34h3m-46 23h3m17-24h3m-31 5h3m-8 22h3m-11 43h3m0-65h3m30-2h3m-11 12h3m58 0h3m-66-1h3m-26 9h3m32-37h3m-23 29h3m-25 18h3m81-90h3m-19 42h3m-35 1h3m-15 18h3m-19 8h3m-3 35h3m28-36h3m-28-30h3m3 49h3m44-55h3m-62 68h3m50-79h3m-10 92h3m-12-141h3m-4 46h3m-10 16h3m1 31h3m5 7h3m-20-4h3m-39-2h3m18 3h3m-7-2h3m-1-13h3m5-5h3m52 11h3m-65-24h3m21 6h3m-5 9h3m2-26h3m-6 18h3m-3-32h3m-47 96h3m35-53h3m1-18h3m-9 34h3m-27 6h3m49-4h3m31-34h3m-82 40h3m86-51h3m-78 1h3m12 21h3m18-2h3m-12-33h3m7 65h3m-103 61h3m91-104h3m-88 26h3m48 9h3m20-38h3m-23 59h3m-27-16h3m62-55h3m-18 23h3m-13 36h3m3-7h3m-5-58h3m-16 25h3m18 14h3m13-9h3m-50 54h3m-31-7h3m46-33h3m-27 9h3m-26 22h3m15-49h3m15 18h3m-8 15h3m-27-61h3m24 74h3m-8-43h3m-15 6h3m-17 21h3m78-38h3m-73 59h3m34-31h3m-23-7h3m-8-10h3m16-21h3m-5 13h3m4-3h3m-35 45h3m19-28h3m24-5h3m-27 17h3m-28-1h3m32-41h3m-13 43h3m25-9h3m-36 29h3m1-23h3m13 1h3m-46-4h3m73-44h3m-49 76h3m-12-13h3m24-43h3m24 17h3m-25 27h3m-61-31h3m10 44h3m-4-15h3m-8-2h3m56-31h3m-33 67h3m-34-49h3m3-77h3m-5 67h3m20-45h3m-27 106h3m49-37h3m-23 36h3m-19-28h3m-41-26h3m76-44h3m-44 89h3m53-36h3m-82 7h3m33-35h3m-34 33h3m20-3h3m21 22h3m-14 13h3m-6-29h3m-1-8h3m-27-23h3m26-2h3m-22 45h3m-11-39h3m-22 27h3m25 7h3m67-45h3m-62 3h3m8 3h3m-26 64h3m-8-46h3m-2-39h3m-41 60h3m40 15h3m-2-38h3m12 4h3m-42 23h3m25-43h3m38 23h3m-17-76h3m-34 83h3m23-5h3m-45 13h3m18 1h3m-37-34h3m18 65h3m-17-59h3m37 25h3m-39-44h3m-2 6h3m42 30h3m1-27h3m3-24h3m-97 49h3m38 13h3m75-45h3m-73-17h3m2-49h3m3 82h3m8 37h3m-16 2h3m-31-13h3m18-50h3m11 8h3m-30 13h3m27-44h3m-26 50h3m27 42h3m-30-50h3m18-21h3m-4 76h3m-29-53h3m-14-41h3m15 49h3m34 2h3m-72 14h3m41 34h3m6-72h3m-8-3h3m-60 83h3m38-101h3m13 51h3m-13-32h3m18 60h3m-3-31h3m-7-7h3m-54 18h3m71-62h3m-14 60h3m27-71h3m-57 60h3m-2-38h3m6 48h3m-18 19h3m38-15h3m-46-7h3m24-13h3m19-51h3m-46 95h3m22-69h3m-27-3h3m-2 50h3m23-27h3m-21 24h3m-11-78h3m-27 62h3m70-57h3m-46 58h3m13 6h3m-31-10h3m15-15h3m-10 74h3m-7-70h3m-11 8h3m22 23h3m-21-68h3m7 45h3m-21 18h3m11 14h3m-52 29h3m30-75h3m-72 48h3m67-40h3m4 20h3m-23-17h3m24-6h3m-18 13h3m-3-18h3m-32 32h3m57-45h3m-24 66h3m33-63h3m-52 91h3m-46-34h3m66-57h3m-20 46h3m-3 10h3m-56-25h3m78 4h3m-55 24h3m11-28h3m9-8h3m-13 47h3m-5-33h3m-26-7h3m4 39h3m36-82h3m-36 71h3m3-20h3m2 39h3m-2-61h3m8 6h3m-2 22h3m-45-124h3m-43-93h3m23 36h3m229-1h3m-168-30h3m-65 99h3m69-192h3m93 216h3m-100-218h3m69 14h3m-164 207h3m148-175h3m35 16h3m-96 160h3m-16-49h3m-2 79h3m231-197h3m-133 101h3m-100 15h3m126-48h3m-19 47h3m8-87h3m-146 106h3m185-47h3m-81-15h3m-124 14h3m-33-69h3m19-32h3m31 183h3m-20-94h3m190-115h3m-144 13h3m-131 117h3m186 70h3m-156-177h3m136 54h3m72 105h3m23-80h3m-141-130h3m-69 59h3m79 21h3m38 38h3m122 15h3m-344-9h3m272-113h3m-158 126h3m-5 49h3m29-165h3m37 4h3m-108 113h3m133-11h3m45-92h3m-99 279h3m163-248h3m-245 153h3m1 3h3m-96-169h3m172 71h3m78 72h3m-82-51h3m-144-125h3m80 178h3m16-114h3m86 89h3m12 42h3m23-158h3m-200 174h3m182-50h3m-137-89h3m-108-1h3m-12 126h3m115-176h3m27 232h3m64-55h3m-173-89h3m26 126h3m-74-174h3m174 176h3m-87-51h3m-112-12h3m280-111h3m-85 107h3m49-68h3m-89 71h3m-91-100h3m-57 78h3m160-153h3m69 19h3m-109 127h3m-31-12h3m37-27h3m-36 63h3m-57-6h3m169 46h3m27-233h3m-50 242h3m36-111h3m25 35h3m-51-75h3m-112 108h3m125-93h3m-20 18h3m-321 232h3m369-314h3m-24 51h3m-131 64h3m40-132h3m93 70h3m-179-15h3m218-43h3m-75-2h3m-44-39h3m-42 56h3m4 29h3m4-10h3m-35 81h3m20-95h3m16-54h3m-108 198h3m69-41h3m-71 39h3m-20 8h3m195-141h3m-44 49h3m8-6h3m-78-57h3m15 16h3m-3 73h3m5-28h3m-57 170h3m31-159h3m65-39h3m53 14h3m-27 67h3m-48 36h3m47-30h3m2 65h3m-39-39h3m-30 11h3m-15 37h3m-80-84h3m82 51h3m110 57h3m-165-86h3m-86-32h3m-54 72h3m-82-32h3m112-37h3m-63 64h3m69 26h3m-59 36h3m80-110h3m-11-16h3m-158 148h3m42-57h3m-41 19h3m4-64h3m92-9h3m-12-75h3m17 122h3m29-114h3m-12 42h3m-74-24h3m125-30h3m-37-25h3m-204 189h3m113-115h3m-8 166h3m46-114h3m-31-43h3m-48-5h3m118 16h3m-178 96h3m91-115h3m-40 68h3m59-21h3m-65-29h3m70 54h3m-22 20h3m-106 2h3m91-55h3m40-12h3m-96 22h3m24-100h3m48 35h3m-66 105h3m2-10h3m52-101h3m-128 104h3m13 11h3m84-14h3m-4-75h3m20 28h3m-84-51h3m7 81h3m62-45h3m-3-105h3m-7 175h3m-25-36h3m84-42h3m-36-92h3m34 91h3m-73 51h3m-15-69h3m-48 104h3m68-59h3m-10 37h3m-16-24h3m24-6h3m-84 28h3m59-130h3m-60 119h3m6 63h3m-8-117h3m-14 46h3m59-45h3m3 29h3m-64-33h3m64 18h3m0-28h3m-29 16h3m73-88h3m-133 142h3m73 20h3m-10-30h3m-35-77h3m-42 49h3m-15 48h3m25-3h3m28-69h3m-6 99h3m-53-16h3m-47-3h3m134-27h3m64-69h3m-189 42h3m20 14h3m29-6h3m69-22h3m-73 0h3m82 23h3m-38-67h3m-136 92h3m186-49h3m-127 116h3m26-147h3m-93 193h3m86-90h3m100-134h3m-53 115h3m-140 19h3m119 44h3m-39-98h3m-31-10h3m7 68h3m6 14h3m24-29h3m20-32h3m-36 13h3m41 80h3m-102-75h3m234-30h3m-198 18h3m-18 6h3m-52 55h3m86 21h3m-64-70h3m-4 35h3m81-141h3m-62 14h3m-5 96h3m58-34h3m72-100h3m-115 46h3m-86 104h3m-34 11h3m162-64h3m-58-61h3m-2 31h3m-37 47h3m45-2h3m-8-10h3m30 34h3m-44-88h3m20 123h3m7-70h3m12 33h3m-17-14h3m48-3h3m-67-1h3m-30 48h3m44-83h3m-7 54h3m-86 0h3m9 89h3m70-76h3m-171-30h3m106-6h3m-13-9h3m11 39h3m-60 20h3m33-52h3m83 78h3m25-62h3m-114 28h3m96-21h3m-90-45h3m-27 1h3m74 14h3m-38-3h3m-13 73h3m138-61h3m-150 24h3m-87-67h3m138 8h3m-41 128h3m35-101h3m-79-31h3m-67 173h3m-28 81h3m181-5h3m-136-412h3m-73 203h3m78 19h3"/>
<path transform="scale(0.5)" stroke="#c4dc40" stroke-width="3.2" stroke-opacity="0.75" fill="none" d="M128 513h3m-2-9h3m-3 3h3m-2 4h3m-2-7h3m-4 7h3m-2-1h3m-2 2h3m-5 1h3m-5-8h3m-3 6h3m3-26h3m-2 26h3m0 2h3m-13-5h3m4-8h3m-4 4h3m-9-6h3m-2-8h3m-2 17h3m-4-9h3m-2 0h3m-3 14h3m3-1h3m-10-5h3m-2 6h3m-5-3h3m6 4h3m-8-14h3m-2 8h3m1-9h3m-9 14h3m-6 2h3m-1-1h3m-1-8h3m-1-4h3m-5 9h3m-4 2h3m-4-12h3m-4 3h3m0 5h3m-6-11h3m-4 10h3m0 0h3m-5-9h3m-4 6h3m0 4h3m-1 4h3m-4-13h3m0 10h3m-9-7h3m-4-3h3m-1-2h3m-3 12h3m-3 0h3m-4-20h3m-1 20h3m-6 0h3m-2-4h3m-3 4h3m-3-11h3m-3-9h3m0 16h3m-1 3h3m-5-3h3m-7 1h3m2 4h3m-8-4h3m-3 6h3m1-20h3m-3 3h3m-7 17h3m-1-20h3m-4 20h3m-3-7h3m0 0h3m-5 5h3m-4-17h3m-2 6h3m4 13h3m-7-6h3m-5-10h3m-6 16h3m-1-20h3m-5 5h3m-1 10h3m-4-29h3m-4 23h3m2 6h3m-2-15h3m-9 20h3m5-13h3m-9 5h3m-4-3h3m-3-3h3m-1-3h3m-2 16h3m-6-15h3m1 6h3m-4 9h3m-6-14h3m-4 16h3m4-8h3m-10-3h3m1-1h3m-6 3h3m-3-3h3m-3 1h3m0-5h3m-5 1h3m0 15h3m-2-4h3m-3 1h3m-4-6h3m-8-14h3m-3 13h3m0 4h3m-3 0h3m-2-10h3m-8 9h3m0 0h3m-3 0h3m-2 5h3m-3-6h3m-4-2h3m-1-3h3m-7 7h3m-3 6h3m2 0h3m-6-7h3m-3 3h3m1-1h3m-7-14h3m-5 13h3m2-1h3m-5 8h3m-1-10h3m-1-11h3m-7 19h3m-6-1h3m0-7h3m-1-2h3m-8-13h3m-2 23h3m4-9h3m-7-1h3m3 7h3m-11-9h3m-4 13h3m-4-21h3m4 18h3m-4-20h3m-8 16h3m-3-3h3m-2 7h3m-3 1h3m-3 2h3m-4-3h3m-2-11h3m-5-5h3m1 18h3m-5-3h3m2-13h3m-9 12h3m-4-2h3m-1-7h3m-4 2h3m2 7h3m-7 4h3m-5-5h3m4 4h3m-10-16h3m0 14h3m-4-13h3m-5 5h3m-2 3h3m1-2h3m-7 11h3m1-2h3m-5-10h3m3-2h3m-8 1h3m-7 8h3m7 3h3m-11-3h3m-4-4h3m-4 8h3m-1-4h3m-5 3h3m-2 1h3m-3-3h3m-2-8h3m68-134h3m-58 106h3m48-97h3m31-114h3m-105 237h3m63-173h3m-69 170h3m69-136h3m-68 92h3m-1 23h3m25-37h3m-6 37h3m4-184h3m-42 189h3m42-110h3m13-19h3m-59 153h3m91-224h3m-76 198h3m43-135h3m-53 89h3m-17 36h3m18-75h3m31-69h3m-32 109h3m44-30h3m-38-32h3m-44 114h3m2-5h3m68-212h3m-73 177h3m66-90h3m-35 47h3m-9 7h3m-36 97h3m13-34h3m91-146h3m-54-20h3m-11 109h3m-2-18h3m-48 79h3m37-67h3m-14-31h3m16 19h3m-37 44h3m-9 52h3m60-128h3m-49 35h3m-16 79h3m15-85h3m-48 63h3m71-63h3m-62 8h3m27-46h3m-43 136h3m-12 15h3m-4-16h3m60-100h3m51-79h3m-119 179h3m21-22h3m12-39h3m12-18h3m-5 8h3m-55 88h3m1-21h3m44-76h3m-39 90h3m14-67h3m-20 19h3m38-64h3m-44 103h3m22-32h3m57-164h3m-63 132h3m-16 50h3m-27 30h3m106-192h3m-46-75h3m-31 175h3m30-19h3m-42 56h3m46-128h3m-4 34h3m-33 68h3m-21-55h3m47-97h3m-46 13h3m-45 214h3m0-16h3m80-199h3m-8 114h3m-53-9h3m22 23h3m19-135h3m-55 182h3m63-68h3m-78 85h3m-17 20h3m-7 1h3m5-9h3m86-230h3m-19 117h3m-9 30h3m-14-66h3m-45 104h3m68-136h3m-41 50h3m18 27h3m-41 60h3m23-138h3m-60 158h3m50-45h3m-59 81h3m76-274h3m-27 120h3m-60 154h3m82-201h3m-45 121h3m37-110h3m14-18h3m-33-14h3m0 40h3m24-24h3m-85 179h3m77-174h3m2 9h3m-71 122h3m29-67h3m13 3h3m-7-1h3m-24 21h3m21-55h3m-16 22h3m4-47h3m-5 36h3m-19 48h3m-36 68h3m70-178h3m-24 117h3m11-109h3m-21 66h3m-26 5h3m51-113h3m-45 122h3m4-76h3m-73 186h3m-3 8h3m115-223h3m-59 107h3m-56 85h3m78-197h3m-91 226h3m-3 20h3m45-108h3m0-68h3m65-29h3m-66 12h3m-56 164h3m44-25h3m-51 53h3m64-181h3m-44 93h3m67-160h3m-41 101h3m29-62h3m-37 65h3m74-86h3m-104 162h3m-1-64h3m8 29h3m9-96h3m11 49h3m-18 21h3m-60 111h3m85-194h3m-88 193h3m35-54h3m2-67h3m6-49h3m-5 83h3m0-17h3m-32 96h3m5-150h3m10 64h3m-2-36h3m-45 121h3m87-117h3m-35 14h3m-53 130h3m-8-11h3m-14 3h3m56-113h3m-17 4h3m-20 104h3m-33 9h3m56-155h3m-15 92h3m-20-2h3m32-59h3m23-74h3m-51 95h3m-1 22h3m-21-12h3m38-38h3m-39 50h3m42-84h3m-59 155h3m13-63h3m29-75h3m49-62h3m-99 153h3m24-100h3m47-14h3m-33-59h3m5 67h3m-71 151h3m42-95h3m7-115h3m-9 105h3m1-1h3m-16 15h3m14-63h3m-39 72h3m22-63h3m-57 152h3m65-135h3m43-73h3m-44 82h3m-81 126h3m61-115h3m-5-38h3m-16 40h3m-42 122h3m26-59h3m-30 42h3m-3 1h3m26-145h3m34 11h3m-79 145h3m33-49h3m36-102h3m-70 113h3m-3 31h3m25-113h3m14-30h3m-15 17h3m12 60h3m-12-11h3m16-19h3m0-59h3m-22 117h3m-53 44h3m14-8h3m14-54h3m79-116h3m-37 31h3m-78 146h3m19-17h3m-14-5h3m61-175h3m-35 107h3m15-48h3m13-91h3m-89 225h3m21-62h3m61-105h3m-54 137h3m-39 24h3m60-114h3m16-23h3m-44 98h3m-14 16h3m52-160h3m-60 190h3m-25-16h3m62-118h3m-17-25h3m-20 90h3m-1-7h3m-14-18h3m3 47h3m24-41h3m-42 69h3m10-48h3m35-91h3m-6 26h3m-15 69h3m144-67h3m-40-12h3m23-14h3m10-9h3m33-19h3m-17 8h3m-43 65h3m31-63h3m-1 33h3m-42 22h3m24-23h3m-8 18h3m13-38h3m-42 44h3m2-4h3m-2-31h3m-11-1h3m-42 47h3m52-50h3m-6-37h3m-5 104h3m-27-64h3m29 3h3m-51 64h3m23-50h3m-26 2h3m79-5h3m-75 26h3m23-50h3m-26 29h3m49-52h3m-36 52h3m45-11h3m-35-6h3m-52-6h3m96 42h3m-66-56h3m-7 44h3m10-2h3m-18 7h3m-20-6h3m49-41h3m-35 31h3m38-3h3m-25-49h3m1 37h3m1 42h3m-32-40h3m-62 6h3m33 29h3m32-52h3m-2 53h3m-7-67h3m17 53h3m0-8h3m-26 8h3m-38-9h3m10-8h3m21-38h3m-5 56h3m8-43h3m-38 36h3m43-19h3m-74 80h3m48-64h3m-8 10h3m16-41h3m-45 78h3m-16-55h3m50-4h3m-36 56h3m20-27h3m39-42h3m-25 43h3m-59-7h3m3-22h3m26-12h3m21 41h3m-31-34h3m7 26h3m-4-41h3m-48 37h3m20-9h3m6-17h3m23 49h3m-76-38h3m33-17h3m11 1h3m-5 25h3m25-21h3m-29-4h3m-4 16h3m-43 36h3m64-51h3m-21 13h3m-20 80h3m-20-99h3m15 54h3m37-8h3m-52 13h3m-31-23h3m63 1h3m-28-20h3m-25 30h3m58-11h3m-41-60h3m15 47h3m-33-18h3m82 33h3m-66-14h3m-12 55h3m-17-59h3m55 32h3m33-46h3m-75 31h3m-12 40h3m13-74h3m-19 37h3m-7-22h3m34-14h3m-15 21h3m-26-10h3m-28 25h3m2 14h3m28-75h3m-57 72h3m34-24h3m-11 0h3m18-11h3m-23 27h3m0 7h3m10-28h3m-5 30h3m-31-26h3m51-11h3m-42 46h3m67-37h3m-30-4h3m-48 31h3m1-10h3m63-13h3m-85 3h3m56 6h3m-37-29h3m13-10h3m-29 69h3m-16-20h3m43-38h3m-13-12h3m-34 45h3m-21 52h3m67-71h3m-21 28h3m29-29h3m-42 62h3m-21-77h3m33 9h3m-23-13h3m2-5h3m-26 19h3m26-26h3m-22 74h3m-29-16h3m17-44h3m-5 4h3m28-4h3m32 7h3m-5-20h3m-50 32h3m17 5h3m-43-18h3m6 25h3m68-70h3m-68 47h3m-28 46h3m64-9h3m-48-15h3m-37 52h3m65-46h3m14-35h3m-67 43h3m5-128h3m45 155h3m-57-42h3m5-16h3m-19 52h3m-1-3h3m68-52h3m-67 4h3m24 42h3m-4-65h3m-47 75h3m59-1h3m-33-54h3m-22 27h3m12-25h3m31-8h3m-25 54h3m12-41h3m-7-27h3m-12 24h3m-7-32h3m19 53h3m-62 37h3m73-90h3m-21 22h3m-39 29h3m-30 41h3m-11-2h3m29-98h3m47-41h3m7-48h3m-118 16h3m60-88h3m-69 30h3m337-53h3m-236 124h3m192-140h3m-70 54h3m50 71h3m-46-191h3m-55 178h3m-59-104h3m-143 96h3m48 44h3m231-98h3m-243 29h3m227-14h3m-48 70h3m-58 18h3m-14-118h3m118-10h3m-142 171h3m58-53h3m-150-157h3m46 58h3m52 42h3m-166-111h3m4 184h3m52-211h3m68 228h3m-187-37h3m311-84h3m-224-100h3m52 112h3m10 101h3m-19-95h3m-59-93h3m269-41h3m-222 272h3m88-193h3m128-56h3m-45 24h3m-12 13h3m26 48h3m50-93h3m-202 69h3m91-8h3m-38 41h3m65-108h3m-67 88h3m-20 51h3m146-111h3m-57-22h3m-178 84h3m76 61h3m61-74h3m7 54h3m78-96h3m-202 31h3m162 125h3m-113 19h3m34 38h3m18 7h3m40-119h3m-48 46h3m28-31h3m-223 1h3m-47 44h3m51 25h3m-17 24h3m-50 19h3m10-81h3m-26 53h3m43-56h3m-106 55h3m-23 92h3m37-170h3m50 45h3m-6-19h3m-11 102h3m60-165h3m-38 77h3m57-111h3m59 49h3m-143 49h3m55-54h3m-113 253h3m106-213h3m-118 105h3m151-61h3m-29-29h3m-52 54h3m131-50h3m-146-64h3m35 77h3m-74 12h3m93-73h3m-60 75h3m-4-45h3m22-53h3m-6 120h3m-2-27h3m-55-27h3m59-2h3m73 58h3m-210 12h3m51-29h3m155-107h3m-85 40h3m6 37h3m-78-55h3m98-50h3m57 75h3m-33-33h3m-44 62h3m-36-7h3m14-58h3m-11 82h3m-118 77h3m190-178h3m-121 111h3m58-116h3m-3 108h3m-96-118h3m-80 153h3m148-4h3m-55-45h3m-14 44h3m17-78h3m111-35h3m-120 81h3m-27 77h3m57-138h3m8-8h3m-21 42h3m-40 70h3m66-70h3m-19-19h3m30-1h3m-55 96h3m-144 35h3m110-5h3m-83-51h3m65-9h3m45-45h3m-119 67h3m71-88h3m22 35h3m-57-14h3m106 5h3m3 1h3m-105 54h3m14-36h3m49-104h3m8 94h3m-15 3h3m-9 90h3m-120-37h3m106-75h3m-15-54h3m-31 102h3m60 183h3m216-128h3m-189-216h3m-42 262h3"/>
</g><rect x="60.5" y="18.2" width="241" height="240.2" fill="none" stroke="#2a2a2a" stroke-width="1"/><path d="M60.5 18.2V258.4H301.5" fill="none" stroke="#111" stroke-width="1.3"/><path d="M60.50 258.20h-2.8M60.50 258.40v2.8M60.50 249.00h-1.6M69.67 258.40v1.6M60.50 239.80h-1.6M78.83 258.40v1.6M60.50 230.60h-1.6M88.00 258.40v1.6M60.50 221.40h-1.6M97.17 258.40v1.6M60.50 212.20h-2.8M106.34 258.40v2.8M60.50 203.00h-1.6M115.50 258.40v1.6M60.50 193.80h-1.6M124.67 258.40v1.6M60.50 184.60h-1.6M133.84 258.40v1.6M60.50 175.40h-1.6M143.00 258.40v1.6M60.50 166.20h-2.8M152.17 258.40v2.8M60.50 157.00h-1.6M161.34 258.40v1.6M60.50 147.80h-1.6M170.50 258.40v1.6M60.50 138.60h-1.6M179.67 258.40v1.6M60.50 129.40h-1.6M188.84 258.40v1.6M60.50 120.20h-2.8M198.00 258.40v2.8M60.50 111.00h-1.6M207.17 258.40v1.6M60.50 101.80h-1.6M216.34 258.40v1.6M60.50 92.60h-1.6M225.51 258.40v1.6M60.50 83.40h-1.6M234.67 258.40v1.6M60.50 74.20h-2.8M243.84 258.40v2.8M60.50 65.00h-1.6M253.01 258.40v1.6M60.50 55.80h-1.6M262.17 258.40v1.6M60.50 46.60h-1.6M271.34 258.40v1.6M60.50 37.40h-1.6M280.51 258.40v1.6M60.50 28.20h-2.8M289.67 258.40v2.8M60.50 19.00h-1.6M298.84 258.40v1.6" stroke="#111" stroke-width="1.1" fill="none"/><text x="56.6" y="261.8" text-anchor="end" font-size="10" fill="#111">0</text><text x="60.5" y="270.8" text-anchor="middle" font-size="10" fill="#111">0</text><text x="56.6" y="215.8" text-anchor="end" font-size="10" fill="#111">50K</text><text x="107.7" y="270.8" text-anchor="middle" font-size="10" fill="#111">50K</text><text x="56.6" y="169.8" text-anchor="end" font-size="10" fill="#111">100K</text><text x="152.2" y="270.8" text-anchor="middle" font-size="10" fill="#111">100K</text><text x="56.6" y="123.8" text-anchor="end" font-size="10" fill="#111">150K</text><text x="199.9" y="270.8" text-anchor="middle" font-size="10" fill="#111">150K</text><text x="56.6" y="78.7" text-anchor="end" font-size="10" fill="#111">200K</text><text x="246.6" y="270.8" text-anchor="middle" font-size="10" fill="#111">200K</text><text x="56.6" y="33.4" text-anchor="end" font-size="10" fill="#111">250K</text><text x="292.8" y="270.8" text-anchor="middle" font-size="10" fill="#111">250K</text><text x="174.2" y="290.8" text-anchor="middle" font-size="10.4" fill="#111" textLength="25" lengthAdjust="spacingAndGlyphs">FSC-A</text><text transform="translate(21.3 141) rotate(-90)" text-anchor="middle" font-size="10.4" fill="#111" textLength="25.8" lengthAdjust="spacingAndGlyphs">SSC-A</text><ellipse cx="167.6" cy="169.4" rx="53.2" ry="39.9" transform="rotate(-51.5 167.6 169.4)" fill="none" stroke="#000" stroke-width="2" stroke-dasharray="4.4 2.7"/><ellipse cx="167.2" cy="170.9" rx="38.5" ry="26.2" transform="rotate(-52.7 167.2 170.9)" fill="none" stroke="#000" stroke-width="2" stroke-dasharray="4.4 2.7"/><ellipse cx="168" cy="172.2" rx="24.5" ry="14.1" transform="rotate(-50.7 168 172.2)" fill="none" stroke="#000" stroke-width="2" stroke-dasharray="4.4 2.7"/><path d="M257.5 157.6H217.3" stroke="#111" stroke-width="1.1"/><path d="M213.3 157.6l5 -2.6v5.2z" fill="#111"/><path d="M257.5 169.6H200.3" stroke="#111" stroke-width="1.1"/><path d="M196.3 169.6l5 -2.6v5.2z" fill="#111"/><path d="M257.5 181.6H180.4" stroke="#111" stroke-width="1.1"/><path d="M176.4 181.6l5 -2.6v5.2z" fill="#111"/><text x="259.3" y="160.6" font-size="8.9" fill="#111" textLength="38" lengthAdjust="spacingAndGlyphs">A (24.9%)</text><text x="259.3" y="173.4" font-size="8.9" fill="#111" textLength="38" lengthAdjust="spacingAndGlyphs">B (17.3%)</text><text x="259.3" y="185.4" font-size="8.9" fill="#111" textLength="38" lengthAdjust="spacingAndGlyphs">C (7.32%)</text><rect x="380.7" y="38.3" width="277.8" height="206.3" fill="none" stroke="#555" stroke-width="1"/><text x="375.4" y="247.90" text-anchor="end" font-size="8.7" fill="#111" textLength="21.6" lengthAdjust="spacingAndGlyphs">0.800</text><text x="375.4" y="222.11" text-anchor="end" font-size="8.7" fill="#111" textLength="21.6" lengthAdjust="spacingAndGlyphs">0.825</text><text x="375.4" y="196.32" text-anchor="end" font-size="8.7" fill="#111" textLength="21.6" lengthAdjust="spacingAndGlyphs">0.850</text><text x="375.4" y="170.54" text-anchor="end" font-size="8.7" fill="#111" textLength="21.6" lengthAdjust="spacingAndGlyphs">0.875</text><text x="375.4" y="144.75" text-anchor="end" font-size="8.7" fill="#111" textLength="21.6" lengthAdjust="spacingAndGlyphs">0.900</text><text x="375.4" y="118.96" text-anchor="end" font-size="8.7" fill="#111" textLength="21.6" lengthAdjust="spacingAndGlyphs">0.925</text><text x="375.4" y="93.17" text-anchor="end" font-size="8.7" fill="#111" textLength="21.6" lengthAdjust="spacingAndGlyphs">0.950</text><text x="375.4" y="67.39" text-anchor="end" font-size="8.7" fill="#111" textLength="21.6" lengthAdjust="spacingAndGlyphs">0.975</text><text x="375.4" y="41.60" text-anchor="end" font-size="8.7" fill="#111" textLength="21.6" lengthAdjust="spacingAndGlyphs">1.000</text><text x="380.50" y="256.6" text-anchor="middle" font-size="8.7" fill="#111">0.2</text><text x="415.25" y="256.6" text-anchor="middle" font-size="8.7" fill="#111">0.3</text><text x="450.00" y="256.6" text-anchor="middle" font-size="8.7" fill="#111">0.4</text><text x="484.75" y="256.6" text-anchor="middle" font-size="8.7" fill="#111">0.5</text><text x="519.50" y="256.6" text-anchor="middle" font-size="8.7" fill="#111">0.6</text><text x="554.25" y="256.6" text-anchor="middle" font-size="8.7" fill="#111">0.7</text><text x="589.00" y="256.6" text-anchor="middle" font-size="8.7" fill="#111">0.8</text><text x="623.75" y="256.6" text-anchor="middle" font-size="8.7" fill="#111">0.9</text><text x="658.50" y="256.6" text-anchor="middle" font-size="8.7" fill="#111">1.0</text><path d="M380.7 244.60h-3M380.7 218.81h-3M380.7 193.02h-3M380.7 167.24h-3M380.7 141.45h-3M380.7 115.66h-3M380.7 89.87h-3M380.7 64.09h-3M380.7 38.30h-3M380.50 244.6v3M415.25 244.6v3M450.00 244.6v3M484.75 244.6v3M519.50 244.6v3M554.25 244.6v3M589.00 244.6v3M623.75 244.6v3M658.50 244.6v3" stroke="#555" stroke-width="1" fill="none"/><text x="517" y="25" text-anchor="middle" font-size="17.4" fill="#111">Precision-Recall</text><text x="524.3" y="274.0" text-anchor="middle" font-size="14.6" fill="#111">Recall</text><text transform="translate(344.9 141.5) rotate(-90)" text-anchor="middle" font-size="14.7" fill="#111">Precision</text><circle cx="401.20" cy="102.80" r="3.6" fill="#2d3592"/><text x="400.5" y="90.6" text-anchor="middle" font-size="12.6" font-weight="bold" fill="#2d3592">C</text><circle cx="501.80" cy="151.70" r="3.6" fill="#2d3592"/><text x="501.2" y="137.4" text-anchor="middle" font-size="12.6" font-weight="bold" fill="#2d3592">B</text><circle cx="564.70" cy="185.30" r="3.6" fill="#2d3592"/><text x="564.4" y="172.7" text-anchor="middle" font-size="12.6" font-weight="bold" fill="#2d3592">A</text><text x="396.0" y="190.6" font-size="12.8" font-weight="bold" fill="#2d3592">Manual gating</text><circle cx="636.6" cy="130.5" r="4.7" fill="#e8202a"/><text x="599.6" y="111.4" font-size="13" font-weight="bold" fill="#e8202a">MLP 16-6</text><text x="8.4" y="18.8" font-size="25" fill="#111">a</text><text x="338.2" y="18.6" font-size="25" fill="#111">b</text><text x="-0.6" y="308.5" font-size="25" fill="#111">c</text><path transform="scale(0.5)" stroke="#f1e51c" stroke-width="2.2" stroke-opacity="0.85" fill="none" d="M392 877h2m-38 12h2m-9 39h2m55-89h2m20 41h2m19-20h2m-85 35h2m64 5h2m-10-25h2m-1-3h2m-72 17h2m10 41h2m35-6h2m-12-28h2m-48 31h2m12-47h2m90-23h2m-84 13h2m25-25h2m-16 48h2m1 0h2m39-9h2m-45 1h2m-18 27h2m-37-26h2m60 16h2m-31-61h2m-31 41h2m53-45h2m-17 76h2m37-17h2m-50-10h2m-73-45h2m102-13h2m168-156h2m33 27h2m-33-16h2m20 7h2m-16 19h2m-33-2h2m75-32h2m-64-4h2m58 34h2m-26-64h2m-45 38h2m71 19h2m-81 1h2m34-22h2m26 6h2m15-15h2m-61 18h2m39 5h2m-35-13h2m-2 3h2m-54 1h2m41-4h2m9 0h2m-48-6h2m101-8h2m-39 3h2m-28 16h2m-24 15h2m42-12h2m17-19h2m5-4h2m-15 17h2m-6-8h2m-63-13h2m36 21h2m-56 7h2m56-16h2m21-11h2m-13 15h2m-46 10h2m65-7h2m-8-6h2m-15-23h2m-5 31h2m18-9h2m-9 11h2m-1-11h2m-11 9h2m-99 4h2m30 15h2m78-13h2m-8-3h2m16-21h2m10 9h2m-88-11h2m20 26h2m38-4h2m2 6h2m-91-7h2m11-10h2m-26 31h2m97-30h2m-28 14h2m-3-15h2m-16-3h2m-19-7h2m-9 50h2m3-18h2m63 2h2m-47-55h2m53 27h2m-91 0h2m2 2h2m47 13h2m-49-22h2m11 20h2m12-6h2m-21-20h2m-4 7h2m32 6h2m-49 28h2m10-19h2m26-8h2m-19 26h2m48 5h2m-3-6h2m-66-26h2m63 12h2m-23-9h2m-66 10h2m62 12h2m-48-22h2m19 2h2m-14 2h2m77 21h2m-32-34h2m-92 27h2m47-27h2m7 7h2m24 2h2m-34 15h2m47-21h2m-113 20h2m126 5h2m-41 5h2m27-18h2m-22-11h2m-44 8h2m7 2h2m21 12h2m22 19h2m-68-49h2m71 23h2m-95 4h2m35-27h2m-8 9h2m11-18h2m3 40h2m-4 20h2m-24-34h2m-28 28h2m61-53h2m-26 25h2m24-6h2m26 3h2m-8 22h2m0-23h2m-79 8h2m18-3h2m-15 7h2m88-20h2m-47 16h2m-85 3h2m113 7h2m-56-29h2m51 0h2m-24 20h2m-48 7h2m-6-5h2m73-24h2m-31-5h2m-69 35h2m78-5h2m-81 30h2m34-38h2m4 29h2m2-50h2m-26 74h2m37-52h2m54-11h2m-63 24h2m19-40h2m-18 42h2m-10-27h2m-6 12h2m19 0h2m-36 27h2m82-46h2m-78 37h2m7-16h2m-8 15h2m-8-20h2m1 26h2m-15-30h2m-26 15h2m62-17h2m-24 16h2m-46-18h2m61 16h2m1 15h2m9-10h2m12-4h2m-41 11h2m13-17h2m-32 23h2m-87-33h2m100 12h2m47-8h2m-89 13h2m-21-12h2m44 7h2m-2 5h2m5-16h2m-11 4h2m-29 19h2m9-28h2m29 42h2m-39-22h2m-27 27h2m23-35h2m57 12h2m-70 10h2m22 14h2m-14-40h2m38 19h2m-44 8h2m37-33h2m-10-12h2m-3 19h2m-13 19h2m-17 19h2m-48-14h2m36-15h2m93-16h2m-88 28h2m31-42h2m-26 49h2m-11-23h2m40-14h2m-39 24h2m12 7h2m-45-25h2m96-18h2m-86 30h2m49 16h2m19-19h2m-39-5h2m68 9h2m-61 11h2m28-28h2m-36 28h2m-32-42h2m13 47h2m-45-31h2m67 4h2m-34 0h2m1-14h2m10 57h2m-38-36h2m62 17h2m-51-7h2m-52 30h2m25-71h2m76 9h2m-17 15h2m-38 19h2m-7 3h2m-9 0h2m-37-5h2m127-30h2m-59 0h2m-47 21h2m-61-6h2m126-11h2m-46 32h2m-33-9h2m9 2h2m42-6h2m11 9h2m-66-15h2m54-4h2m2-6h2m-64 10h2m-27-14h2m85-33h2m-79 49h2m54-9h2m12 34h2m-70-13h2m57-5h2m0-32h2m-34 44h2m-6-7h2m-7 4h2m60-21h2m-4 5h2m-36 5h2m-7-1h2m-56-7h2m66 16h2m-34 1h2m25 0h2m-3-1h2m9-29h2m-32 12h2m9 4h2m-37-34h2m76 23h2m-39 20h2m40 5h2m-37-6h2m-5-13h2m-30 9h2m93-5h2m-72 20h2m-43 15h2m3-23h2m43-4h2m-53 0h2m-5-10h2m36 5h2m16-3h2m-38 26h2m29-28h2m-18 11h2m-26 1h2m-22-24h2m36-10h2m55 35h2m-30 1h2m-11-5h2m43 6h2m-45 11h2m49-34h2m-108 8h2m61-11h2m-18 21h2m-10-10h2m15 0h2m-22 19h2m6-17h2m12 26h2m-35-34h2m42 4h2m4-3h2m11-15h2m-41 1h2m-4 31h2m19-2h2m15 14h2m-27-30h2m25-15h2m-28 9h2m-41 22h2m41 4h2m29-38h2m10 36h2m-40-4h2m-26-25h2m-35 35h2m18-10h2m-45-16h2m89 34h2m-60-11h2m70-5h2m22-13h2m-129 26h2m18-5h2m7-7h2m36 24h2m-43-6h2m5-31h2m-62 1h2m97 15h2m-27-19h2m-37 21h2m67-16h2m-62-9h2m37-8h2m-4 10h2m-18 24h2m-18-4h2m5 17h2m30-15h2m-92-3h2m59-3h2m-17 2h2m37-12h2m-46 6h2m44 4h2m-20 15h2m28-10h2m-35-15h2m12 29h2m-56-35h2m77 24h2m-80-18h2m30 21h2m14-21h2m-56-4h2m71 17h2m-3-30h2m-54 4h2m20 32h2m23 4h2m25-7h2m25-27h2m-66 10h2m-23-36h2m3 62h2m29-14h2m11-25h2m34 16h2m-35 2h2m3-8h2m-51 7h2m-53-16h2m90 7h2m-35 24h2m-58-21h2m48 32h2m73-20h2m-61-33h2m3 44h2m-48-12h2m42 24h2m-48-22h2m99-21h2m-81 7h2m4 5h2m-22-23h2m60 23h2m-1-6h2m-25 3h2m36 4h2m-115 6h2m71 25h2m-6-28h2m-21-12h2m9 3h2m-34 21h2m33 2h2m10-31h2m-38 35h2m91-15h2m-93-5h2m13 0h2m51-32h2m-44 22h2m-34 31h2m-72-1h2m-18-17h2m163 21h2m-91-66h2m67 52h2m-56-21h2m28 12h2m-54 4h2m39-21h2m-55 34h2m52-20h2m52 10h2m-3-47h2m-56 36h2m22 42h2m-5-38h2m-53 0h2m13 1h2m11 12h2m60-23h2m-102 2h2m40-9h2m3 8h2m18-3h2m-20 10h2m67 29h2m-27-38h2m-13 4h2m33 15h2m-66 5h2m-64-27h2m44 5h2m13-24h2m12 23h2m-55 18h2m-10 5h2m44-25h2m-37 10h2m3 16h2m-21-2h2m87-16h2m-75 7h2m-37 29h2m20-14h2m42-22h2m-10 1h2m-24 21h2m-37-9h2m72-25h2m-65 14h2m50 6h2m-1 10h2m69-33h2m-79 7h2m-13 23h2m1-26h2m36-5h2m-46 22h2m10-2h2m10 4h2m19 19h2m-50-14h2m49-22h2m25 46h2m19-63h2m-53-11h2m-38 57h2m3-15h2m56-18h2m-86-16h2m21 15h2m12 39h2m-41-25h2m88 10h2m9-9h2m-69-21h2m51 21h2m-121 24h2m32-35h2m-17-1h2m-5 32h2m62-7h2m-48 16h2m-4-14h2m19-7h2m9 21h2m6-16h2m33-22h2m-18 32h2m-132-4h2m54-25h2m2 4h2m62 40h2m3-33h2m-23 17h2m-48-12h2m21 3h2m22-11h2m1-19h2m-45 15h2m-2 11h2m33-16h2m-21 23h2m-8-8h2m-43 6h2m79-11h2m-48-8h2m-5 11h2m-1-2h2m84-16h2m-82 4h2m-12 26h2m80-14h2m-71 23h2m45-22h2m-40 3h2m-5 1h2m24 4h2m-2-3h2m-14 0h2m-21-8h2m25-25h2m-20 12h2m10 20h2m-5-15h2m-21 10h2m43 5h2m-39-5h2m7 3h2m-24 1h2m53 1h2m-10-8h2m-3 6h2m-65 115h2m-28-50h2m20 26h2m67-57h2m-75 152h2m29-60h2m-45-27h2m45-79h2m30 32h2m-46 25h2m-14 35h2m10 37h2m10-101h2m21 85h2m-58-46h2m57-62h2m-44 15h2m-16 35h2m58-54h2m-82 124h2m6-18h2m23-115h2m19 19h2m-20-17h2m-13 52h2m63 123h2m-55-163h2m-4 107h2m-48 10h2m58-98h2m-7 57h2m-16-2h2m6 71h2m10-88h2m12-51h2m-43 6h2m20 135h2m-20-137h2m-21-8h2m81 148h2m-58-85h2m4 78h2m-60-97h2m70 15h2m-78 50h2m39-100h2m22 94h2m8-45h2m-3 53h2m-24 20h2m-2-22h2m14-117h2m-10 22h2m11 133h2m-43-70h2m-1 6h2m57 37h2m-55 19h2m61-98h2m-48 99h2m1-72h2m-21 40h2m-62-7h2m87 62h2m7-147h2m-24 5h2m8 70h2m-46-38h2m53 19h2m-47 52h2m15-121h2m31 69h2m-24 5h2m33-27h2m-60 96h2m68-140h2m-41 28h2m5-35h2m21 63h2m-45 66h2m25-132h2m5 68h2m-98 97h2m56-148h2m28-3h2m-22 41h2m4-54h2m-1 31h2m-41 25h2m60 17h2m-3-87h2m-42 71h2m3 8h2m-1 53h2m-26-74h2m-24 91h2m44-47h2m-9-80h2m-10 22h2m21 59h2m5-78h2m-16 43h2m2-53h2m4 66h2m-46 47h2m-3-63h2m48-29h2m-37 43h2m27-68h2m-10 49h2m-11-6h2m5-27h2m29 50h2m-79-63h2m42-2h2m-27 70h2m17-21h2m-6 107h2m-31-134h2m52 8h2m16-12h2m-29 19h2m-16 100h2m27-115h2m-112 55h2m76 66h2m10-28h2m-4-77h2m-4 50h2m11 18h2m-28-12h2m40-34h2m-20 73h2m-11-45h2m-17 39h2m-16 11h2m2-21h2m47 31h2m1-44h2m22-54h2m-39 25h2m-23-82h2m11 142h2m17 4h2m-35-70h2m-30-72h2m13 58h2m53-32h2m-44-2h2m12-28h2m-42 159h2m-5-3h2m-1-157h2m83 48h2m-115 34h2m92-72h2m-10 30h2m-26-35h2m-7 44h2m12 24h2m-40 6h2m47-6h2m-1 16h2m-47-55h2m49 64h2m-64 11h2m29-57h2m47 106h2m-8-138h2m-36 122h2m11-88h2m3-3h2m-36 120h2m-11-76h2m42-86h2m-110 128h2m77-22h2m-21-79h2m60 68h2m-29-59h2m5 130h2m-23-151h2m32 72h2m-44 39h2m21-42h2m-32 21h2m-10-39h2m54 16h2m-28-94h2m12 110h2m9-25h2m-28-72h2m19-7h2m21 70h2m-46-30h2m-39 98h2m46-53h2m-13 11h2m22-98h2m-19 80h2m8-52h2m7 66h2m-20-63h2m16-4h2m-6-13h2m-52 115h2m21-71h2m-12 26h2m-6-75h2m-27 59h2m67 22h2m-12 28h2m-50-24h2m51 58h2m-39-128h2m-7 40h2m29-53h2m9-4h2m-62 42h2m-12 91h2m32-67h2m14-29h2m-36 55h2m52-75h2m16 85h2m-58-68h2m-31 16h2m31 36h2m14-34h2m10-48h2m-10 153h2m-39-16h2m17-37h2m-15-36h2m38-40h2m9 31h2m2-44h2m-32 119h2m-12-55h2m-39 49h2m22-131h2m12 5h2m39 90h2m-31-63h2m-67 48h2m89-75h2m-18-13h2m38 69h2m-58 13h2m15 30h2m-28-88h2m-16 102h2m47-62h2m-20 28h2m-32 67h2m85-27h2m-52-112h2m-16 142h2m20-24h2m-35 30h2m-7-113h2m41 71h2m-47-64h2m-36 112h2m98-156h2m-22 28h2m-27-47h2m21 12h2m-43 34h2m-31-30h2m35 122h2m31-108h2m-22-7h2m-33 75h2m24-21h2m-56 47h2m4-6h2m31 55h2m-80 4h2m98-138h2m30 27h2m-48 46h2m50 29h2m-42-26h2m-26-49h2m4 10h2m1-76h2m39 148h2m-4-116h2m25 91h2m-62-108h2m7 73h2m-29-30h2m-8 60h2m6 27h2m12-117h2m36 124h2m-32-137h2m12 79h2m-12-70h2m-27 111h2m24-64h2m-24 42h2m26-52h2m-26-37h2m-25 50h2m-26 28h2m25 64h2m-18-19h2m30-7h2m43-23h2m-32-7h2m33 61h2m-20-144h2m-12 27h2m7-28h2m-10 83h2m0 36h2m5-140h2m6 84h2m-10-37h2m3 15h2m-25-63h2m-13 62h2m-7 50h2m54 25h2m-44-112h2m9 16h2m-44 63h2m28-20h2m-14 32h2m-18-3h2m44 25h2m-29-132h2m-29 127h2m47-113h2m1 16h2m14 26h2m-50-28h2m15-31h2m23 122h2m-15-19h2m-8-53h2m-36 6h2m14 62h2m5-38h2m14 12h2m-33 19h2m2 16h2m58-26h2m2-35h2m16-43h2m-75-30h2m33 180h2m-18-108h2m-5-23h2m-20-19h2m-31 69h2m82-85h2m-16 72h2m-23 31h2m34-32h2m-29-47h2m-34 1h2m2 69h2m-11 51h2m11 7h2m-9-125h2m4 49h2m32 35h2m-15-114h2m-27 75h2m11 57h2m-17-140h2m49 71h2m-59 23h2m-51 22h2m41 36h2m-46-31h2m-13-2h2m19 61h2m-39-65h2m71 38h2m-19 18h2m-58-68h2m5 58h2m-20 1h2m26-35h2m47 33h2m23 5h2m2 0h2m-75-42h2m35 16h2m-56 0h2m70-38h2m-86 2h2m-6 75h2m6-24h2m-22-25h2m27 62h2m-30-40h2m81 21h2m-48-38h2m-24-12h2m43 56h2m-5-15h2m-5 5h2m-274-72h2m3 34h2m17 86h2m-28-52h2m56 28h2"/>
<path transform="scale(0.5)" stroke="#1f8a4c" stroke-width="2.2" stroke-opacity="0.9" fill="none" d="M376 863h2m-1 15h2m-7 1h2m21 33h2m-40-35h2m-12-17h2m51-9h2m-106 40h2m96-35h2m26 3h2m-78 35h2m34 4h2m-15-37h2m6 21h2m2 18h2m0-10h2m-7 5h2m-8-47h2m13 41h2m30-55h2m-35 26h2m-4 12h2m-15 0h2m24 8h2m28 20h2m-68 8h2m5-27h2m41-28h2m-15 57h2m-65 5h2m-17-14h2m157-53h2m-96 9h2m30 41h2m-2-29h2m11 12h2m-27-7h2m-60 7h2m-1-21h2m-6 55h2m73-59h2m-81 91h2m29-60h2m88-1h2m-30-24h2m-22 24h2m-62-20h2m63 40h2m34-11h2m-128-11h2m9-17h2m39 28h2m11 37h2m3-65h2m0 52h2m-11-14h2m-38-6h2m39-13h2m18-1h2m-69-25h2m28 56h2m-19-35h2m42 1h2m-18 71h2m-37-73h2m15 45h2m7-63h2m-49 19h2m72-20h2m-57-10h2m83 43h2m-112-32h2m76 12h2m-41 2h2m60-28h2m16 46h2m-84-79h2m-47 64h2m123-51h2m-52-1h2m-34 81h2m36-15h2m-3-68h2m-61 65h2m1-30h2m64 60h2m3-34h2m-35 5h2m-5 5h2m8 5h2m-72 5h2m40-51h2m-16 11h2m25 4h2m5 5h2m-3 55h2m61-95h2m-58 83h2m-9-59h2m34-32h2m-5 57h2m-13-12h2m13 25h2m34-18h2m-70 23h2m-9 38h2m26-56h2m-40 26h2m101-49h2m-65 12h2m-37 37h2m-20-5h2m32-4h2m-60-22h2m139-1h2m-73-30h2m-20 36h2m7 5h2m-63 24h2m26-57h2m39-3h2m6 37h2m-37 23h2m52-57h2m-37 22h2m-6-12h2m-2 20h2m38 14h2m-56 16h2m88-65h2m-71 47h2m36-25h2m-30 54h2m-12-97h2m-27 41h2m45-10h2m25-7h2m-63 29h2m19 7h2m-43 29h2m-24-51h2m15 3h2m9 17h2m24 45h2m22-114h2m-61 66h2m24 21h2m-2-12h2m-24 12h2m16-8h2m3-38h2m37-21h2m-35 31h2m7-28h2m1 39h2m-5 41h2m-25-84h2m-21-12h2m43 63h2m-26-11h2m-3-17h2m-4-11h2m-19 41h2m50 1h2m-4-74h2m-78 100h2m10-45h2m34 4h2m12 18h2m-8-6h2m-44-11h2m0 19h2m14 22h2m-46-23h2m123-58h2m-21 22h2m-86 14h2m47 20h2m-8-7h2m12-30h2m-54 68h2m104-51h2m-64-28h2m-4 38h2m-17 58h2m-35-97h2m-15 16h2m112 9h2m-108 41h2m40-37h2m34-21h2m-34 9h2m8 65h2m44-67h2m-95 62h2m46-19h2m-34 22h2m25-20h2m-37-29h2m23-9h2m-67-4h2m56 12h2m-23-2h2m8 30h2m-29-29h2m14 44h2m47-31h2m17 18h2m-102-5h2m66-5h2m46-50h2m-60 45h2m17-10h2m-20 11h2m4-12h2m-39 4h2m85-29h2m-61 32h2m33-19h2m2-1h2m-33 8h2m14 0h2m4 5h2m-65-25h2m-17 44h2m-9-30h2m113 14h2m-71 12h2m13 8h2m26-21h2m-58 22h2m-2-38h2m29-5h2m4 1h2m-27 19h2m61-24h2m-89 67h2m30-19h2m-16-24h2m66-10h2m-21-14h2m-27 32h2m0-13h2m-11 6h2m7 17h2m16-23h2m25 26h2m-49-41h2m17 40h2m11-16h2m-48 41h2m70-87h2m-57 20h2m-1 1h2m17 34h2m-40 2h2m6-1h2m56-23h2m-52-12h2m-12 48h2m49-39h2m-27 27h2m-32 4h2m1-17h2m-13 28h2m23 1h2m-4-53h2m-27 19h2m59 15h2m-27-12h2m-16 42h2m2-56h2m-5 47h2m81-32h2m-84 1h2m-59 29h2m45-55h2m44-26h2m-35 6h2m10 67h2m-87 23h2m69-63h2m7-11h2m-30 49h2m80-36h2m-88 5h2m30 16h2m-13-10h2m24 0h2m-54 3h2m-35 37h2m69-64h2m-39 75h2m62-27h2m-50 22h2m3-7h2m-26-42h2m35 27h2m-72 37h2m0-37h2m44-51h2m21 28h2m-40-4h2m22 5h2m-72 10h2m41-6h2m151-33h2m-140 88h2m-1-73h2m25-16h2m41 53h2m-5-27h2m-57 16h2m82-38h2m-32 16h2m-43 28h2m34-17h2m-44-17h2m-32 15h2m-58 1h2m73-4h2m-50 49h2m42-35h2m54-80h2m-117 132h2m108-147h2m-29 96h2m-45 33h2m43-19h2m-43 16h2m51-67h2m-26 45h2m-5-12h2m-15-1h2m48 65h2m-56-107h2m-2 28h2m-24 51h2m-25-5h2m23-22h2m-31-30h2m77 55h2m-43-8h2m79 12h2m-117-6h2m61-44h2m-17 11h2m33-51h2m29 26h2m-72 5h2m69 3h2m-104 33h2m71-6h2m-11-46h2m-4 67h2m-9-23h2m-41-35h2m96 9h2m-68-20h2m-5 43h2m27-51h2m-30 53h2m-61-42h2m41-6h2m-1 56h2m96-16h2m-51-59h2m-49 60h2m-9 20h2m-26 13h2m-18-61h2m74 7h2m0-6h2m-20-48h2m-31 59h2m3 16h2m19-13h2m-5-21h2m54 60h2m-29 0h2m-42-14h2m74 20h2m-75 3h2m-4-45h2m-29 3h2m58 2h2m7 25h2m50-70h2m-94 93h2m30-50h2m-3 53h2m-26-40h2m9 63h2m-7-103h2m22 17h2m-66-23h2m53 27h2m-90 51h2m10-46h2m16 4h2m26-48h2m6 97h2m22-7h2m-49-39h2m68 24h2m-6-24h2m2 10h2m-39-33h2m55-16h2m-20 25h2m-53 10h2m-35-30h2m74 63h2m-32-13h2m12 7h2m11-36h2m-74 4h2m-19-16h2m52 27h2m16 9h2m6-2h2m-42-54h2m18 52h2m-12-28h2m47 48h2m-43 30h2m12-38h2m-54 19h2m-3-17h2m61-3h2m-4-22h2m-62 28h2m39-43h2m-7 30h2m-10-52h2m9 16h2m16 46h2m40-43h2m-36 18h2m0 3h2m-36-20h2m-60-21h2m72 60h2m69-62h2m-99 77h2m12-40h2m13-21h2m16 23h2m-57 34h2m-5-49h2m30-13h2m7 40h2m60 3h2m-85-13h2m2 1h2m-19-23h2m3 44h2m11-40h2m13 26h2m-30 3h2m-17-22h2m56 61h2m-13-122h2m-29 94h2m47-14h2m-52 18h2m76-3h2m-80-31h2m32 8h2m-28-6h2m11 44h2m-6 4h2m59-28h2m-102-10h2m13-50h2m50 23h2m-18 69h2m7-75h2m-8 22h2m-24 14h2m90-17h2m-99 7h2m-98 3h2m135-18h2m-93 50h2m0-58h2m30 32h2m-13 29h2m63 50h2m-7-91h2m-33 16h2m37-25h2m-3 30h2m-45-2h2m23 41h2m32-83h2m-88 11h2m71 43h2m-29-87h2m-19 61h2m5 4h2m2-16h2m20-14h2m-30 49h2m-3-48h2m5 48h2m24-13h2m-63 2h2m-4-16h2m13 35h2m13-37h2m-27 12h2m71-9h2m-52 1h2m-23-34h2m-64 58h2m81-43h2m27 69h2m-28-1h2m52-49h2m-6 3h2m-50-9h2m4 54h2m48-56h2m-89 20h2m92 25h2m-13-51h2m-86-61h2m84 101h2m-54-28h2m11 25h2m2-25h2m22-15h2m-45 0h2m-81 41h2m78-40h2m-6 14h2m-85 13h2m112 16h2m96-27h2m-151 1h2m-13 16h2m43-12h2m-57 0h2m43-37h2m57-16h2m-61 51h2m-28-34h2m25 36h2m10-37h2m32 46h2m-57 19h2m-13-39h2m10 20h2m31-16h2m-9 23h2m5 11h2m-42-13h2m33-1h2m-39-13h2m76-11h2m-156 7h2m106-12h2m26 39h2m-70-23h2m-4-12h2m-3 41h2m-24-58h2m68 32h2m26 15h2m33-37h2m-48-46h2m-10 81h2m13 2h2m-26-46h2m24 21h2m-26-6h2m-12 10h2m-28-21h2m24-29h2m-66 29h2m58 37h2m-28-41h2m124 39h2m-104-24h2m-45 34h2m38-60h2m20 23h2m-46 60h2m18-25h2m-44 0h2m69-79h2m-18 61h2m29-3h2m-74 14h2m8 14h2m46-27h2m-21 31h2m106-18h2m-99-51h2m-14 26h2m3 55h2m-16-30h2m3 9h2m-25-29h2m-71-38h2m100-23h2m-4 81h2m-20-60h2m60 36h2m-24-1h2m-64 13h2m32 32h2m-78-59h2m48 11h2m13 1h2m-11 38h2m47-75h2m-56 35h2m3-17h2m10 57h2m35 31h2m-64-10h2m25-16h2m22-72h2m-22 51h2m4 14h2m-13 8h2m-29-29h2m-57 14h2m97 8h2m17-81h2m-50 84h2m-38-17h2m35 14h2m16-1h2m-4-40h2m-23 18h2m-44-7h2m62 20h2m-53 14h2m124-2h2m-103 24h2m40-45h2m10 0h2m-62-35h2m25 13h2m-69 44h2m63-23h2m10-1h2m51-22h2m-55 25h2m58-25h2m-15 12h2m-28 24h2m-50 4h2m91-21h2m-21-6h2m-68 58h2m2-34h2m-17-17h2m53 11h2m-25-18h2m-57 34h2m50-37h2m8 4h2m27-6h2m-71 10h2m-5-24h2m3 47h2m-5-24h2m65-36h2m-9 45h2m-28-4h2m-13-14h2m-66 37h2m85-31h2m-23-11h2m-49 53h2m80-49h2m-89 4h2m100-6h2m-51-15h2m-7 22h2m-7 38h2m15-37h2m-31 17h2m51-56h2m2 46h2m-45 30h2m50-30h2m-56-30h2m-21 50h2m4-10h2m72-41h2m-106 7h2m33 24h2m8 33h2m-67-49h2m14 22h2m28 11h2m62-51h2m-53 36h2m57 36h2m-25-31h2m-39-33h2m66 42h2m-59 1h2m-12-45h2m-68 42h2m81-24h2m-41 37h2m11-31h2m-14 3h2m76-34h2m-60 20h2m97 4h2m-55 4h2m-31 19h2m57-63h2m-123 51h2m146 17h2m-61-53h2m-46 19h2m58 17h2m-61-7h2m30 33h2m-55-19h2m10 12h2m50-39h2m-31 64h2m-54-56h2m67 28h2m12-34h2m-74 24h2m34 31h2m-52-5h2m-14-80h2m57 28h2m17-6h2m-29 48h2m-12 7h2m27-42h2m-26 28h2m-55-10h2m94 5h2m18 4h2m-77-14h2m65 69h2m-34-60h2m3-9h2m-24-22h2m79-3h2m-81 41h2m80-25h2m-67 1h2m9 12h2m28-12h2m-62 13h2m-62-31h2m85 67h2m11-56h2m48 24h2m-86-28h2m23-39h2m-50 57h2m37 24h2m69-30h2m-102 24h2m-9-41h2m21 13h2m-35 32h2m76-23h2m-82-5h2m16-12h2m52 51h2m-68 18h2m7-23h2m20 18h2m-19-70h2m-20-6h2m-25 13h2m18 32h2m100-6h2m-130 26h2m70-71h2m-40 36h2m-26-20h2m45 19h2m36 40h2m-2 7h2m-35-60h2m3 66h2m16-84h2m-64 43h2m62-2h2m-50-9h2m-20 25h2m52 5h2m24-38h2m-78 6h2m17 27h2m7-26h2m33 0h2m-96 56h2m86-53h2m-51 140h2m3-70h2m-15 22h2m26 20h2m-33 12h2m15-52h2m-43 32h2m34-19h2m-31-15h2m-18 46h2m68 15h2m-43-14h2m22 20h2m-6-19h2m-25-4h2m5 23h2m20-50h2m-28 56h2m242-342h2m27 0h2m1 18h2m-56-11h2m92-27h2m-112 0h2m-15 0h2m73-7h2m-32 30h2m-20-16h2m14-8h2m-9 14h2m18-11h2m-11 6h2m25 16h2m-15 13h2m47-33h2m-66 0h2m9 2h2m11 21h2m-34-7h2m45 17h2m-17-34h2m-21 19h2m-9 2h2m-26-17h2m83 19h2m-60-11h2m5 11h2m-22-12h2m97-18h2m-115 53h2m17-8h2m17-32h2m3 3h2m-47 14h2m21-9h2m30-3h2m-45 7h2m21-23h2m3 14h2m-5-4h2m-73 32h2m41 78h2m9-81h2m27-3h2m-109 169h2m61-120h2m16 54h2m-50-44h2m72 25h2m-20-89h2m-42 130h2m31-69h2m-27-30h2m31-25h2m-21 40h2m-5-14h2m-29 76h2m61-33h2m-14-62h2m27 95h2m-41 60h2m-11-93h2m-70 99h2m59-85h2m-93 89h2m90-33h2m1 20h2m-35-25h2m-13-16h2m10 58h2m5-3h2m4-41h2m-43-8h2m-11 25h2m42 8h2m7-53h2m13 12h2m-58 43h2m34-20h2m22-31h2m-82 44h2m-40-37h2m66 46h2m26 2h2m-87-21h2m83 16h2m11-59h2m-92 82h2m60-76h2m-81 75h2m93-32h2m16 31h2m-19-39h2m-41-36h2m23 45h2m2 27h2m-4-34h2m3-36h2m-53 33h2m-16-29h2m22 13h2m6-20h2m-9 24h2m-33-24h2m-3 13h2m7 71h2m19-53h2m16 57h2m-69-49h2m72-4h2m-40 16h2m-22 22h2m5-1h2m-25-22h2m-12-12h2m76 20h2m-77 42h2m69-86h2m-10 24h2m-69 7h2m60-1h2m-57 42h2m-5-43h2m-242 5h2m-100 78h2m102-50h2"/>
<rect x="37" y="304.4" width="301.2" height="223.8" fill="none" stroke="#444" stroke-width="1"/><text x="54.50" y="540.53" text-anchor="middle" font-size="9.9" fill="#111">0</text><text x="31.10" y="519.96" text-anchor="end" font-size="9.9" fill="#111">0</text><text x="110.40" y="540.53" text-anchor="middle" font-size="9.9" fill="#111">1</text><text x="31.10" y="479.96" text-anchor="end" font-size="9.9" fill="#111">1</text><text x="166.30" y="540.53" text-anchor="middle" font-size="9.9" fill="#111">2</text><text x="31.10" y="439.96" text-anchor="end" font-size="9.9" fill="#111">2</text><text x="222.20" y="540.53" text-anchor="middle" font-size="9.9" fill="#111">3</text><text x="31.10" y="399.96" text-anchor="end" font-size="9.9" fill="#111">3</text><text x="278.10" y="540.53" text-anchor="middle" font-size="9.9" fill="#111">4</text><text x="31.10" y="359.96" text-anchor="end" font-size="9.9" fill="#111">4</text><text x="334.00" y="540.53" text-anchor="middle" font-size="9.9" fill="#111">5</text><text x="31.10" y="319.96" text-anchor="end" font-size="9.9" fill="#111">5</text><path d="M54.50 528.20v2.6M37.00 516.40h-2.6M110.40 528.20v2.6M37.00 476.40h-2.6M166.30 528.20v2.6M37.00 436.40h-2.6M222.20 528.20v2.6M37.00 396.40h-2.6M278.10 528.20v2.6M37.00 356.40h-2.6M334.00 528.20v2.6M37.00 316.40h-2.6" stroke="#444" stroke-width="1" fill="none"/><text x="43.6" y="322.8" font-size="17.2" font-weight="bold" fill="#e8202a">MLP 16-6</text><text x="168.3" y="557.8" text-anchor="middle" font-size="14.4" fill="#111">log10(Alexa Fluor 488)</text><text transform="translate(19.2 407.1) rotate(-90)" text-anchor="middle" font-size="14.3" fill="#111">log10(PI)</text><path transform="scale(0.5)" stroke="#f1e51c" stroke-width="2.2" stroke-opacity="0.85" fill="none" d="M1058 864h2m18 49h2m2-61h2m-109 41h2m99-36h2m27 3h2m-81 35h2m30-12h2m-7-34h2m14 42h2m-3-30h2m-5 12h2m44 29h2m-64-20h2m43-28h2m-15 58h2m81-63h2m-99 9h2m31 12h2m12 13h2m-64 6h2m92-2h2m-31-24h2m-18 45h2m35-11h2m-60-28h2m-9 38h2m24-20h2m-12-3h2m-28-20h2m-51 19h2m75-21h2m28 34h2m8-1h2m-4-65h2m-53-2h2m-36 82h2m36-84h2m-60 36h2m72 26h2m-39 10h2m-21-41h2m11 14h2m70-35h2m-30-8h2m-11 47h2m-9-26h2m-11 42h2m7-36h2m-31 60h2m54-57h2m-42 10h2m77-16h2m-35 23h2m-40-44h2m22-11h2m-36 88h2m-1-46h2m38-21h2m-27 2h2m-25-3h2m-22-13h2m17 25h2m33 42h2m-68-14h2m82-18h2m-45 26h2m68-12h2m-66-28h2m-19 97h2m-36-98h2m-16 15h2m116 9h2m-31-16h2m23 6h2m-64 8h2m68-7h2m-16-6h2m-27 13h2m1-2h2m-10 13h2m29 4h2m-9-26h2m-74 23h2m69-9h2m-46 4h2m-2 23h2m-4-37h2m31 23h2m25-46h2m-59 20h2m-1 1h2m18 35h2m24 7h2m-50-42h2m10 21h2m25-5h2m-4-44h2m-37 6h2m-78 90h2m72-63h2m63 2h2m-91 4h2m31 16h2m-1-34h2m26 48h2m-71-27h2m13-24h2m-65 39h2m88-40h2m42 54h2m-5-28h2m27-21h2m-32 15h2m-8 12h2m-45-17h2m-63 60h2m102-115h2m-8-15h2m-30 97h2m13-37h2m-30 32h2m-19-15h2m-50 48h2m63-45h2m20-40h2m30 27h2m-2 8h2m-31 26h2m-12-45h2m-52 9h2m32-12h2m-65 4h2m42-7h2m50-19h2m-100 33h2m57 14h2m-5-20h2m18 46h2m65-63h2m-84 16h2m-65 27h2m17 4h2m80 2h2m23-39h2m-20 26h2m-90-21h2m60 58h2m-63-32h2m22-36h2m9 24h2m6 78h2m1-76h2m-15-23h2m8 16h2m61 4h2m-37 18h2m-95-39h2m74 61h2m72-62h2m-88 37h2m13-21h2m17 23h2m-59 34h2m28-62h2m8 40h2m62 3h2m-64-86h2m-31 99h2m16 16h2m61-28h2m-90-61h2m44 18h2m-7 22h2m70-4h2m-69 5h2m-67-13h2m46-44h2m-12 66h2m2-17h2m-8 36h2m-4-49h2m-2 20h2m48 3h2m-76-34h2m21 15h2m56 19h2m-55-5h2m51-9h2m-40 37h2m12 5h2m100-27h2m-121 5h2m5-37h2m-20-1h2m58-15h2m-62 51h2m47 11h2m12-21h2m-48-4h2m2 19h2m64-22h2m-50-47h2m-20 37h2m25 21h2m-27-6h2m-38-10h2m-42 0h2m34-4h2m31 29h2m107 11h2m-102-51h2m-43 31h2m32-62h2m42 58h2m-66-4h2m40-36h2m-53 18h2m29 56h2m-14-41h2m-53 45h2m17-59h2m26 14h2m8 19h2m60-21h2m-15 11h2m-42 2h2m29-6h2m-77-14h2m70-13h2m-10 46h2m-28-5h2m-14-13h2m22 5h2m-24-11h2m-51 54h2m84-50h2m-38-16h2m-12 60h2m40-77h2m-44 17h2m61-2h2m-110 7h2m34 24h2m56-33h2m-57 8h2m17 16h2m82-2h2m-56 5h2m-51-10h2m61 17h2m-64-7h2m-9-34h2m-17 48h2m67-26h2m-23-7h2m-10 12h2m30 83h2m31-94h2m-24 17h2m-22-8h2m50 25h2m-113-10h2m1-23h2m-12 45h2m79-23h2m-67-18h2m18 65h2m-20-71h2m82 33h2m-60-44h2m-12 22h2m22-19h2m-7-20h2m186-146h2m28 0h2m-43-11h2m33 27h2m-33-16h2m21 7h2m-17 19h2m-34-2h2m78-31h2m-4 29h2m-27-64h2m-47 39h2m74 18h2m-84 1h2m65-16h2m-7 18h2m20-33h2m-79 22h2m14-4h2m40 5h2m-36-12h2m-2 2h2m-56 1h2m43-4h2m9 0h2m57-14h2m-40 3h2m-29 16h2m-24 15h2m43-12h2m17-19h2m6-4h2m-16 17h2m-6-8h2m-65-13h2m37 21h2m-58 7h2m59-16h2m21-11h2m-13 15h2m-48 10h2m68-7h2m-8-5h2m-16-24h2m-5 31h2m18-9h2m-9 11h2m0-10h2m-12 8h2m-103 4h2m31 15h2m81-13h2m29-23h2m-39 20h2m17-21h2m10 9h2m-91-11h2m21 26h2m40-4h2m2 6h2m-95-7h2m12-10h2m-26 31h2m99-30h2m-28 14h2m-4-15h2m-16-3h2m-20-7h2m-9 51h2m3-19h2m66 2h2m-49-55h2m55 27h2m-94 0h2m2 2h2m49 14h2m-50-23h2m11 21h2m12-7h2m-21-20h2m-5 8h2m34 5h2m-39 9h2m28-8h2m-20 26h2m50 5h2m-4-6h2m-68-26h2m43 3h2m-65-7h2m-5 17h2m-12-17h2m75 30h2m-50-23h2m20 2h2m-15 3h2m81 21h2m-45-40h2m9 5h2m-95 27h2m49-27h2m8 7h2m42-4h2m-118 20h2m131 6h2m-12-13h2m-23-12h2m-45 8h2m7 2h2m22 12h2m23 19h2m-57-20h2m60-6h2m-83-10h2m-17 14h2m36-27h2m-8 9h2m12-18h2m2 41h2m-3 19h2m-25-34h2m-30 28h2m64-53h2m-27 25h2m25-6h2m27 3h2m-8 22h2m-1-23h2m-81 9h2m18-4h2m79-13h2m-49 16h2m-88 3h2m117 8h2m-58-30h2m53 0h2m-25 20h2m-50 7h2m-5-5h2m75-24h2m-32-5h2m-72 35h2m81-5h2m-54-20h2m-9 14h2m-24 37h2m35-38h2m4 28h2m3-50h2m-27 75h2m96-64h2m-66 24h2m20-40h2m-18 42h2m-11-27h2m-5 12h2m19 0h2m-37 27h2m85-46h2m-81 37h2m8-16h2m-15-5h2m1 26h2m-16-30h2m-26 15h2m64-16h2m-25 15h2m-47-18h2m63 16h2m13 5h2m-43-20h2m12 28h2m14-18h2m-32 24h2m-91-34h2m104 12h2m49-8h2m-93 13h2m-21-11h2m46 6h2m-2 5h2m5-16h2m-12 4h2m-30 19h2m9-28h2m31 42h2m-41-22h2m-28 28h2m25-36h2m-11 23h2m22 14h2m-8-39h2m26 16h2m-36-18h2m39 19h2m-46 8h2m39-33h2m-19 37h2m7-49h2m40 16h2m-69 0h2m22 3h2m-14 19h2m-17 19h2m-50-14h2m37-15h2m97-16h2m-91 29h2m32-44h2m-27 50h2m-12-23h2m42-14h2m-40 24h2m12 8h2m-7-24h2m-41-2h2m100-18h2m-89 30h2m50 16h2m20-19h2m-41-5h2m71 9h2m-63 11h2m29-28h2m-37 28h2m-33-42h2m23 41h2m-12 6h2m-46-31h2m69 5h2m-35-1h2m1-14h2m11 57h2m-39-36h2m64 17h2m-53-7h2m-54 30h2m26-71h2m78 9h2m-17 15h2m-39 19h2m-7 3h2m-9 0h2m-38-5h2m131-30h2m-61 0h2m-43 27h2m-8-6h2m-62-6h2m112 29h2m15-40h2m-46 32h2m-35-9h2m9 2h2m45-6h2m11 9h2m-69-15h2m61-10h2m-66 10h2m-29-14h2m88-33h2m-82 49h2m57-9h2m12 35h2m-73-14h2m60-5h2m0-32h2m-35 44h2m-7-7h2m-7 4h2m62-21h2m-4 5h2m-36 5h2m-7-1h2m-58-7h2m68 16h2m-35 1h2m26 1h2m-3-2h2m9-29h2m-33 13h2m10 3h2m-39-34h2m78 23h2m4 25h2m-38-6h2m-34-4h2m96-5h2m-75 20h2m-44 16h2m3-23h2m45-5h2m-5-15h2m-52 15h2m-5-10h2m31 13h2m4-8h2m17-3h2m-40 26h2m14-16h2m-26 0h2m-23-24h2m37-10h2m57 35h2m-65 3h2m32-1h2m-11-6h2m45 6h2m-47 11h2m51-34h2m-107 6h2m-7 2h2m63-11h2m-19 21h2m-10-10h2m16 0h2m-15 2h2m-22-8h2m44 4h2m4-3h2m12-15h2m-43 1h2m-3 32h2m19-3h2m16 15h2m-28-31h2m26-15h2m1 38h2m-32-29h2m-43 22h2m8-4h2m33 8h2m30-38h2m10 37h2m-41-4h2m-27-26h2m-36 36h2m19-11h2m-46-16h2m92 35h2m-63-12h2m74-5h2m22-13h2m-134 27h2m19-6h2m7-7h2m-5 18h2m5-31h2m-63 2h2m100 14h2m-28-19h2m-38 21h2m7-25h2m25 27h2m12-35h2m-21 35h2m-19-5h2m5 17h2m32-15h2m-95-2h2m61-4h2m-18 2h2m39-12h2m-48 6h2m27 20h2m30-11h2m-37-15h2m12 30h2m-57-36h2m79 24h2m-83-18h2m32 21h2m14-21h2m-57-4h2m73 18h2m-4-31h2m-55 4h2m20 32h2m24 4h2m27-7h2m25-27h2m-68 11h2m-24-38h2m4 63h2m30-14h2m11-25h2m36 16h2m-37 2h2m4-8h2m-53 7h2m-55-16h2m94 7h2m-37 24h2m-59-21h2m49 32h2m75-20h2m-62-33h2m2 45h2m-49-13h2m43 24h2m-49-22h2m102-21h2m-83 7h2m3 5h2m-22-23h2m62 23h2m0-6h2m-27 3h2m38 5h2m-119 5h2m74 26h2m-6-29h2m-22-12h2m-14 13h2m21-10h2m-35 21h2m35 2h2m-27 5h2m94-16h2m-96-5h2m13 0h2m53-32h2m-45 22h2m-36 31h2m-75 0h2m-17-18h2m168 21h2m-94-66h2m70 52h2m42-25h2m-103 4h2m30 12h2m-57 4h2m41-21h2m-56 34h2m53-20h2m54 10h2m-3-47h2m-57 37h2m22 42h2m-5-38h2m-55-1h2m13 1h2m12 13h2m62-24h2m-105 2h2m23 37h2m16-46h2m3 8h2m19-3h2m-20 10h2m68 29h2m-27-38h2m-13 4h2m33 16h2m-67 4h2m-67-27h2m46 5h2m13-25h2m13 24h2m-56 18h2m-11 5h2m45-25h2m-37 10h2m3 16h2m70-18h2m-77 7h2m-39 29h2m20-14h2m37-21h2m-25 21h2m-39-9h2m75-25h2m-67 14h2m47-1h2m3 7h2m-2 10h2m72-33h2m-82 7h2m-13 23h2m1-26h2m38-5h2m-49 22h2m11-2h2m10 5h2m20 18h2m-51-14h2m79 24h2m-60-33h2m77-30h2m-54-11h2m-75 55h2m33 2h2m-14-11h2m16-4h2m58-18h2m-46 19h2m-47 7h2m0-42h2m22 15h2m11 39h2m-42-25h2m91 10h2m10-9h2m-72-21h2m53 21h2m-125 25h2m33-36h2m-18-1h2m-4 32h2m64-7h2m-50 17h2m-3-15h2m19-7h2m1-19h2m15 25h2m33-23h2m-49 12h2m29 21h2m-136-5h2m56-25h2m68 45h2m4-34h2m-24 18h2m-50-13h2m22 3h2m23-11h2m0-19h2m-16 16h2m-32-1h2m-2 11h2m35-16h2m-23 23h2m-8-7h2m-44 5h2m82-11h2m-50-8h2m-4 11h2m-2-2h2m88-16h2m-86 4h2m-11 26h2m82-14h2m-73 23h2m47-21h2m-45 4h2m25 3h2m-2-3h2m-15 0h2m-21-8h2m26-25h2m-21 12h2m7 5h2m-21 10h2m6 1h2m7 2h2m-24 1h2m54 2h2m-10-9h2m-3 7h2m-67 115h2m-29-50h2m21 25h2m69-57h2m-77 154h2m30-61h2m-47-27h2m-14-76h2m58-3h2m32 31h2m-47 25h2m-15 36h2m10 37h2m10-101h2m23 85h2m-61-47h2m60-61h2m-46 15h2m-17 35h2m61-55h2m-76 107h2m23-116h2m19 20h2m-19-18h2m-14 53h2m10-40h2m10 19h2m-6 57h2m-17-2h2m6 71h2m11-88h2m12-51h2m-22 142h2m-21-139h2m-21-7h2m27 63h2m3 78h2m-62-98h2m73 16h2m-38-51h2m33 49h2m-4 54h2m-24 20h2m-1-21h2m13-119h2m-10 22h2m12 134h2m-44-70h2m-2 6h2m5 56h2m62-99h2m-46 28h2m-21 41h2m37-93h2m-25 4h2m-38 33h2m56 19h2m-31-70h2m33 70h2m-26 5h2m35-28h2m-63 98h2m71-141h2m-42 28h2m-16 40h2m19-76h2m22 64h2m-46 66h2m26-132h2m4 68h2m-101 98h2m58-149h2m29-4h2m-23 42h2m5-55h2m-1 31h2m-43 26h2m63 17h2m-3-88h2m-44 72h2m4 8h2m-27-21h2m23 44h2m8-92h2m-19 12h2m-11 22h2m30-19h2m-17 43h2m2-54h2m5 66h2m-49-16h2m49-29h2m23-29h2m-62 72h2m28-68h2m-10 49h2m-12-5h2m6-28h2m29 51h2m-82-63h2m44-3h2m-28 71h2m17-22h2m-64 117h2m27-144h2m35 23h2m17-14h2m16-13h2m-29 19h2m-17 101h2m27-115h2m-115 55h2m91 38h2m-4-78h2m-4 51h2m28-28h2m-20 73h2m-28-6h2m39 21h2m26-98h2m-40 25h2m-10 61h2m17 3h2m-37-70h2m-30-73h2m13 59h2m55-32h2m-30-31h2m-46-1h2m86 49h2m-119 34h2m95-73h2m-10 30h2m-27-35h2m-7 45h2m13 23h2m-42 7h2m50 10h2m-49-55h2m-13 75h2m29-58h2m49 107h2m-8-138h2m-37 122h2m12-89h2m3-2h2m-47 44h2m43-86h2m-57 52h2m23 54h2m-21-80h2m63 69h2m-31-59h2m-16-21h2m13 69h2m17-2h2m-29-95h2m13 112h2m9-26h2m-29-73h2m20-6h2m22 70h2m-48-30h2m9 45h2m-13 11h2m23-98h2m-19 80h2m7-52h2m8 66h2m-20-64h2m16-3h2m-6-13h2m-30 44h2m-13 26h2m-6-76h2m-27 59h2m69 23h2m-13 28h2m-51-24h2m53 59h2m-41-129h2m58 62h2m-67-22h2m30-53h2m10-5h2m-64 42h2m-13 93h2m50-97h2m19-20h2m17 86h2m-60-69h2m-33 16h2m33 36h2m36-97h2m-24 62h2m10-48h2m-48 139h2m12-22h2m33-70h2m-3-22h2m9 31h2m2-44h2m-33 119h2m-12-55h2m-41 49h2m24-131h2m12 5h2m10 26h2m-69 49h2m52-57h2m33-25h2m3 7h2m-19-13h2m40 68h2m-52-22h2m-20-23h2m35 40h2m-21 29h2m5-72h2m-16 143h2m-13 6h2m-8-115h2m-4 8h2m67-45h2m-23 29h2m-28-47h2m22 11h2m-44 35h2m-32-31h2m47 18h2m-13 105h2m32-108h2m-23-7h2m-34 75h2m25-21h2m-58 47h2m4-6h2m33 55h2m-83 5h2m102-139h2m31 27h2m-51 46h2m11 3h2m-26-49h2m4 9h2m1-76h2m40 149h2m-3-116h2m7 45h2m-46-63h2m8 74h2m-31-30h2m-8 60h2m7 27h2m12-118h2m7-12h2m1 9h2m-1 47h2m-24 43h2m27-53h2m-27-38h2m-26 51h2m-27 28h2m26 65h2m14-27h2m45-23h2m-33-7h2m16-84h2m-13 28h2m8-28h2m-8 120h2m5-141h2m8 9h2m-4 75h2m-10-37h2m3 14h2m-26-62h2m-13 62h2m7-38h2m10 17h2m-15 43h2m60 22h2m-73-101h2m21 14h2m0 16h2m16 27h2m-52-28h2m15-32h2m11 104h2m-9-53h2m-37 6h2m15 62h2m5-38h2m-17 31h2m63-10h2m-26 63h2m27-99h2m16-43h2m-77-30h2m16 77h2m16 104h2m-19-108h2m-5-23h2m-21-19h2m-32 69h2m85-86h2m-16 73h2m14-1h2m-30-47h2m-36 1h2m-6 121h2m3-120h2m5 49h2m20-78h2m-29 75h2m12 57h2m35-69h2m-39 17h2m-23 6h2m-75 83h2m93-33h2m-33-5h2m6 40h2m4-42h2m-43-8h2m-12 25h2m44 9h2m-82-48h2m73 39h2m28-33h2m-23 23h2m-60 13h2m-28-54h2m-16 17h2m9 27h2m100-43h2m-14 50h2m-21 6h2m24 5h2m-9-20h2m-42-36h2m12 31h2m10 14h2m2 28h2m1-71h2m-55 33h2m-24-4h2m31-12h2m6-20h2m-55-5h2m44 29h2m-53 46h2m-14-49h2m59 11h2m-62 11h2m7-4h2m75-4h2m-42 16h2m38 13h2m-55 8h2m45-13h2m-80 41h2m71-86h2m-62 0h2m50 25h2m-67 4h2m-251 5h2m19-60h2m-124 139h2m126-105h2m17 87h2m-30-53h2m59 28h2m-74-8h2"/>
<path transform="scale(0.5)" stroke="#1f8a4c" stroke-width="2.2" stroke-opacity="0.9" fill="none" d="M1058 879h2m-7 2h2m-17-2h2m-13-18h2m35 39h2m-16-37h2m11 39h2m0-11h2m-8 6h2m41-61h2m-52 38h2m26 8h2m-40 28h2m-29 7h2m-17-14h2m98-4h2m-15-23h2m-62 7h2m-1-22h2m-5 55h2m75-59h2m-84 92h2m74-62h2m-65-20h2m-27 19h2m9-18h2m40 29h2m13 37h2m5-13h2m-11-43h2m-40 23h2m40-13h2m-51-27h2m30 57h2m-20-36h2m27 73h2m-38-73h2m15 45h2m-22-75h2m-27 12h2m79 12h2m-43 2h2m63-29h2m-68-33h2m-49 65h2m35 9h2m45 5h2m-65-4h2m70 31h2m-31-30h2m5 11h2m-75 5h2m27-41h2m34 10h2m-35 53h2m30 2h2m5-12h2m-10-60h2m32 25h2m-12-11h2m13 25h2m36-18h2m-73 23h2m-9 38h2m27-56h2m-42 26h2m105-49h2m-104 49h2m-20-6h2m33-3h2m-62-23h2m144-1h2m-94 7h2m-56 29h2m27-57h2m48 34h2m-18-12h2m-6 8h2m39 14h2m-58 16h2m20-18h2m8 29h2m0-89h2m-39 33h2m46-11h2m26-6h2m-65 29h2m44-4h2m-26 11h2m-45 29h2m-25-52h2m16 4h2m10 16h2m24 46h2m-38-49h2m25 10h2m-25 12h2m17-8h2m9-29h2m11 11h2m-6 42h2m1-33h2m-26-12h2m-3-16h2m-22 30h2m50-74h2m-81 101h2m10-45h2m36 4h2m12 18h2m-8-6h2m-43 8h2m14 22h2m-48-23h2m128-58h2m-108 35h2m48 21h2m6-38h2m-55 69h2m41-41h2m-57 27h2m42-38h2m2-12h2m8 66h2m-50-5h2m47-19h2m-35 22h2m26-20h2m-38-30h2m-43-12h2m57 12h2m-23-2h2m8 30h2m-30-29h2m14 44h2m50-31h2m17 18h2m-106-5h2m69-5h2m47-51h2m-61 46h2m17-10h2m-20 11h2m4-12h2m-40 4h2m26 2h2m7-11h2m14-1h2m-60-20h2m-18 45h2m-10-31h2m46 27h2m14 8h2m26-21h2m-59 22h2m-2-38h2m30-6h2m4 1h2m-28 19h2m-26 44h2m30-20h2m35-47h2m-28 32h2m-10-7h2m27-6h2m-42 20h2m66 6h2m-31-2h2m-37 26h2m-3-30h2m7-1h2m58-24h2m-54-11h2m-13 48h2m52-39h2m-29 27h2m-32 4h2m0-17h2m-13 28h2m24 1h2m-30-35h2m61 16h2m-42 30h2m1-56h2m-5 47h2m85-33h2m-87 1h2m-61 30h2m46-56h2m24 47h2m-7-50h2m-31 49h2m16-26h2m25 1h2m-56 3h2m-36 37h2m33 11h2m14-5h2m3-7h2m13-15h2m-75 37h2m0-37h2m69-23h2m-41-4h2m23 5h2m-30 4h2m156-33h2m-145 88h2m-1-73h2m56 8h2m-47 17h2m12 7h2m-40-19h2m-60 1h2m75-4h2m-5 14h2m-64 52h2m39-18h2m45-20h2m-44 17h2m28-22h2m-19-14h2m50 66h2m-58-108h2m-25 80h2m-26-5h2m24-22h2m-31-31h2m79 56h2m-45-8h2m82 11h2m-70-38h2m-7-21h2m-34 37h2m63 15h2m-10-24h2m59-26h2m-73 24h2m27-52h2m-31 53h2m-28-2h2m9 11h2m100-16h2m-102 0h2m-9 21h2m-27 12h2m60-54h2m1-6h2m-21-48h2m-33 60h2m4 16h2m8 46h2m64-20h2m-30 14h2m-1-14h2m-44-15h2m76 21h2m-77 3h2m-3-45h2m-31 3h2m60 1h2m8 26h2m-64 23h2m19 0h2m30-50h2m-2 53h2m-28-40h2m10 64h2m17-87h2m-68-23h2m55 27h2m-93 51h2m58-91h2m7 98h2m22-7h2m-50-39h2m70 24h2m-2-14h2m-40-33h2m-14 19h2m42 33h2m-33-13h2m-25-19h2m48-10h2m-94-13h2m135-1h2m-83 29h2m18 9h2m5-2h2m-33-22h2m8 19h2m39 21h2m-30-8h2m-55 18h2m-4-16h2m63-4h2m-4-22h2m-64 29h2m36-14h2m19 11h2m9-23h2m-38-20h2m-12 55h2m-13-53h2m18 17h2m3 0h2m-20-23h2m3 45h2m12-40h2m14 26h2m-31 3h2m-18-22h2m58 61h2m-41-28h2m48-14h2m27 15h2m-82-31h2m32 8h2m-29-6h2m12 44h2m-47-34h2m68-27h2m-19 69h2m-22-39h2m-7-11h2m-101 4h2m140-18h2m-96 49h2m0-57h2m31 32h2m-14 29h2m66 51h2m-40-76h2m39-26h2m-3 31h2m-47-2h2m25 41h2m33-84h2m-16 54h2m-48-25h2m33-27h2m-25 50h2m25-14h2m-66 3h2m-4-17h2m14 35h2m-12-24h2m22-8h2m-89 24h2m115 26h2m-30-1h2m50-46h2m-45 45h2m50-57h2m-92 21h2m95 25h2m-101-113h2m88 102h2m-56-29h2m15 1h2m23-15h2m-46-1h2m-84 41h2m81-40h2m-7 14h2m-87 14h2m63-10h2m-14 16h2m-12-13h2m18-35h2m26 36h2m11-38h2m-24 66h2m-14-39h2m11 19h2m32-15h2m-10 23h2m6 11h2m-44-14h2m34 0h2m-40-13h2m-81-4h2m139 27h2m-72-24h2m-4-12h2m-3 42h2m-25-59h2m99 48h2m-21-2h2m13 2h2m-35-21h2m-2-51h2m-5 67h2m101-2h2m-108-24h2m-46 34h2m39-60h2m21 23h2m-48 60h2m20-34h2m-3 8h2m-46 1h2m72-80h2m13 59h2m-76 13h2m9 15h2m47-27h2m-21 31h2m-4-43h2m-8 24h2m9 30h2m-16-29h2m3 9h2m-97-67h2m102 57h2m-21-60h2m39 35h2m-66 13h2m33 33h2m-80-59h2m49 11h2m5 39h2m56-21h2m-66-20h2m16 41h2m36 31h2m-66-10h2m26-17h2m23-71h2m-23 51h2m5 13h2m-14 9h2m-30-29h2m-59 14h2m120-74h2m-52 85h2m-39-17h2m36 14h2m18-2h2m-26-21h2m-46-8h2m64 21h2m75 12h2m-106 24h2m20-45h2m19-1h2m11 0h2m-105 22h2m65-22h2m65-24h2m-57 26h2m20 11h2m-52 3h2m94-21h2m-21-6h2m-70 59h2m2-34h2m-17-17h2m54 11h2m-26-18h2m-59 34h2m52-37h2m-33 7h2m0 24h2m-5-25h2m-44 29h2m46 6h2m-35-41h2m103-6h2m-59 8h2m12 1h2m-32 17h2m56-10h2m-46 30h2m52-31h2m-78 20h2m4-9h2m14 23h2m-70-49h2m15 22h2m29 10h2m11-14h2m60 36h2m-106-34h2m78 3h2m30 9h2m-61 1h2m-12-46h2m-71 42h2m44 14h2m11-32h2m-15 4h2m79-34h2m-61 19h2m20 37h2m-7-9h2m60-64h2m-128 51h2m151 18h2m-63-53h2m-13 62h2m-45-8h2m52-39h2m-32 65h2m-56-56h2m0 13h2m67 15h2m-61-11h2m35 32h2m-54-5h2m-14-81h2m72 5h2m-15 23h2m-11 43h2m-12 7h2m3-15h2m-56-9h2m96 5h2m19 4h2m-79-14h2m20 32h2m13-24h2m3-8h2m-26-23h2m1 39h2m82-26h2m-69 2h2m10 12h2m-34 1h2m-63-32h2m87 68h2m-23-61h2m23-39h2m-10 82h2m71-30h2m-105 24h2m13-28h2m-37 4h2m72 39h2m-71 18h2m8-23h2m-15-59h2m67 47h2m-95-33h2m19 32h2m-29 20h2m33-35h2m-27-21h2m46 20h2m38 40h2m-2 7h2m-31 6h2m-48-41h2m65-2h2m-43-4h2m-11-5h2m-21 25h2m55 5h2m25-39h2m-131-31h2m47 38h2m18 27h2m8-26h2m33 0h2m-98 56h2m89-54h2m-53 142h2m3-71h2m-16 22h2m27 20h2m-33 12h2m15-52h2m-44 33h2m35-20h2m-32-15h2m-18 47h2m70 14h2m-45-13h2m23 19h2m-6-18h2m-26-5h2m6 23h2m21-49h2m-30 55h2m236-356h2m21 6h2m-54-5h2m12 24h2m73-17h2m-17-9h2m-35 15h2m26 9h2m-46-37h2m-5 25h2m45-7h2m-17 17h2m23 4h2m25-15h2m-16 4h2m-13-16h2m-27 15h2m2-14h2m2 2h2m-22 19h2m20 9h2m-1 7h2m13-35h2m-26-7h2m2 16h2m0-22h2m-54 53h2m-5-25h2m47-16h2m25-9h2m-33 39h2m-46-31h2m28 10h2m11 1h2m23 0h2m-96 144h2m91 45h2m-59-57h2m-49 10h2m33-105h2m68 138h2m-118-39h2m66-6h2m26 17h2m-40 21h2m-81-40h2m91 63h2m-6-73h2m-36 34h2m22-10h2m-50 17h2m55-46h2m-45 25h2m20 40h2m-4-13h2m20-36h2m-29-13h2m14-6h2m-32 50h2m2-21h2m52-13h2m-37-112h2m-3 28h2m23 78h2m-54 55h2m-5-4h2m55-84h2m5 25h2m-42 74h2m-77-35h2m104 39h2m11-81h2m-45 40h2m-9-21h2m-11-39h2m-11 67h2m8-12h2m11-57h2m-21 27h2m40 65h2m-21-53h2m-16-36h2m58 24h2m-39-21h2m15 31h2m-43 13h2m-1 33h2m89-27h2m-46 6h2m3-12h2m-84 48h2m29-65h2m69 31h2m10-18h2m-28 30h2m-18-59h2m-38 42h2m-32 11h2m83 25h2m-29-63h2m-28 7h2m55 25h2m-77-33h2m16 12h2m-18-3h2m46 26h2m-59-6h2m63-8h2m-17-30h2m-30 36h2m-44 41h2m69-59h2m-22-9h2m2 58h2m32-41h2m-43-123h2m-59 117h2m42 37h2m30 11h2m-79-43h2m29 2h2m11 59h2m-58-63h2m19 61h2m50-71h2m-44 55h2m8 8h2m49-59h2m-53 54h2m26 1h2m-1-4h2m-81-2h2m-21 1h2m16 24h2m62-76h2m-84 75h2m27-59h2m86 58h2m-9-19h2m-78-43h2m51 24h2m-64-32h2m65-14h2m-75 7h2m-12 46h2m7-33h2m7 72h2m38 4h2m-52-6h2m-4-9h2m-19-24h2m-12-11h2m37-13h2m22 44h2m-66-25h2m59 11h2m-5 4h2m4-15h2m-59 42h2"/>
<rect x="372.4" y="304.3" width="312" height="225.2" fill="none" stroke="#444" stroke-width="1"/><text x="390.50" y="540.10" text-anchor="middle" font-size="7.5" fill="#111">0</text><text x="366.50" y="520.50" text-anchor="end" font-size="7.5" fill="#111">0</text><text x="448.40" y="540.10" text-anchor="middle" font-size="7.5" fill="#111">1</text><text x="366.50" y="480.20" text-anchor="end" font-size="7.5" fill="#111">1</text><text x="506.30" y="540.10" text-anchor="middle" font-size="7.5" fill="#111">2</text><text x="366.50" y="439.90" text-anchor="end" font-size="7.5" fill="#111">2</text><text x="564.20" y="540.10" text-anchor="middle" font-size="7.5" fill="#111">3</text><text x="366.50" y="399.60" text-anchor="end" font-size="7.5" fill="#111">3</text><text x="622.10" y="540.10" text-anchor="middle" font-size="7.5" fill="#111">4</text><text x="366.50" y="359.30" text-anchor="end" font-size="7.5" fill="#111">4</text><text x="680.00" y="540.10" text-anchor="middle" font-size="7.5" fill="#111">5</text><text x="366.50" y="319.00" text-anchor="end" font-size="7.5" fill="#111">5</text><path d="M390.50 529.50v2.6M372.40 517.80h-2.6M448.40 529.50v2.6M372.40 477.50h-2.6M506.30 529.50v2.6M372.40 437.20h-2.6M564.20 529.50v2.6M372.40 396.90h-2.6M622.10 529.50v2.6M372.40 356.60h-2.6M680.00 529.50v2.6M372.40 316.30h-2.6" stroke="#444" stroke-width="1" fill="none"/><text x="379.6" y="323.2" font-size="18.1" font-weight="bold" fill="#2d3592">Manual gating (A)</text><text x="527.9" y="558.1" text-anchor="middle" font-size="14.4" fill="#111">log10(Alexa Fluor 488)</text><text transform="translate(357.8 406.2) rotate(-90)" text-anchor="middle" font-size="14.3" fill="#111">log10(PI)</text><path transform="scale(0.5)" stroke="#f1e51c" stroke-width="2.2" stroke-opacity="0.85" fill="none" d="M381 1405h2m-7 17h2m26-29h2m-8 6h2m-27 5h2m6 20h2m8 8h2m30-55h2m-50 38h2m54 28h2m50-53h2m-96 9h2m30 12h2m11 13h2m-13-26h2m-50 32h2m40-2h2m39 10h2m-128-11h2m68-17h2m-9 38h2m3-19h2m8-4h2m0-21h2m-57-10h2m83 43h2m-111-32h2m99-14h2m-66-33h2m77 13h2m-52-1h2m5 66h2m-60-33h2m36 30h2m-23-35h2m-16 11h2m33 9h2m-35 52h2m29-69h2m34-32h2m-5 57h2m39-4h2m-71 23h2m84-41h2m-142 17h2m139-1h2m-73-29h2m-11 41h2m14 1h2m17-34h2m-37 22h2m-20 37h2m57-42h2m-28-34h2m-13-10h2m20 32h2m24-7h2m-27-35h2m-39 78h2m3-37h2m37-21h2m-26 2h2m-25-3h2m24 51h2m-26-12h2m0 0h2m-40-4h2m55-17h2m52 18h2m-64-28h2m49 23h2m-30-16h2m23 6h2m-70 16h2m-13 27h2m36-15h2m32-33h2m-61 31h2m33-18h2m-13 6h2m4 5h2m-64-25h2m36 49h2m-30-37h2m29-5h2m43-4h2m-89 67h2m84-53h2m-45 4h2m-11 7h2m-13 14h2m48-12h2m-31-26h2m-1 2h2m-13 35h2m6-35h2m39 9h2m4 31h2m-60-17h2m-13 28h2m32-31h2m68 1h2m-47-50h2m-24 72h2m-16-39h2m7-11h2m52 13h2m-88 4h2m45 7h2m-54 3h2m34 21h2m-2-23h2m-16 1h2m124-29h2m-139 15h2m26-17h2m40 53h2m-5-33h2m-43 29h2m-9-34h2m-13 12h2m45-82h2m-67 127h2m51-67h2m-67 42h2m7 17h2m79 11h2m-54-50h2m-17 12h2m34-52h2m28 27h2m-72 4h2m69 4h2m-56-21h2m24-8h2m-30 52h2m-17-48h2m96 41h2m-145-27h2m77 0h2m-24 14h2m-5-20h2m28 59h2m33 7h2m17-83h2m-81 16h2m22 18h2m-87 9h2m44-45h2m6 98h2m46-23h2m-7-24h2m-34-22h2m54-17h2m-70 36h2m-36-31h2m44 50h2m25-28h2m41-14h2m-61 37h2m-35-55h2m9 24h2m5 77h2m20-61h2m-25 15h2m-10-52h2m68 20h2m-33 20h2m-37-20h2m86-22h2m-86 36h2m13-20h2m0 34h2m-19-27h2m17-55h2m48 95h2m-46-22h2m-28-6h2m68 20h2m-86-60h2m49 23h2m-18 69h2m7-75h2m62 18h2m-58-7h2m-93 49h2m81-37h2m6-10h2m-3 31h2m14-45h2m-88 11h2m44-44h2m-12 66h2m25-31h2m-32 1h2m31 35h2m-65-14h2m76 2h2m-52 1h2m-23-35h2m19 15h2m51 23h2m13 34h2m-97-113h2m85 101h2m-38-27h2m22-15h2m-45-1h2m-1 1h2m-26 18h2m39-33h2m-19-1h2m57-15h2m-87 17h2m26 36h2m22-7h2m-2 33h2m34-38h2m-20 35h2m-72-36h2m62-53h2m5 84h2m-26-47h2m0 15h2m-12-39h2m-66 29h2m158 35h2m-107-50h2m-4 57h2m-30-7h2m145 0h2m-111-24h2m3 54h2m-11-21h2m-25-28h2m31-61h2m-4 80h2m42-23h2m-24-2h2m-30 46h2m-13-48h2m38-36h2m-64 95h2m49-87h2m-54 44h2m30-19h2m74 43h2m-109-57h2m25 14h2m-3 21h2m9-2h2m58-21h2m4 18h2m-21-6h2m-78 8h2m52 11h2m-80 16h2m79-21h2m-27-5h2m9-8h2m-23-11h2m-21 48h2m53-44h2m12-2h2m-51-14h2m29-17h2m2 47h2m8-1h2m-57-29h2m-15 40h2m73-41h2m-16-3h2m-18 41h2m29 9h2m-90-17h2m76-34h2m-13 28h2m-32 19h2m-19-29h2m58 17h2m-69-41h2m-47-8h2m70 5h2m4 18h2m-10 12h2m37 28h2m-77-14h2m34 8h2m40-16h2m-35 48h2m11-56h2m48 25h2m-106-33h2m21 13h2m43 9h2m-10 34h2m-68 17h2m7-23h2m3-52h2m47 41h2m30-8h2m-120-29h2m83 66h2m-35-59h2m22-19h2m-7-19h2m-24 184h2m-43 12h2m242-341h2m27 0h2m-42-12h2m33 27h2m-33-16h2m6 27h2m-32-2h2m74-32h2m-64-4h2m58 33h2m-69-25h2m71 19h2m-45-21h2m26 5h2m-6 19h2m19-34h2m-76 23h2m13-5h2m39 6h2m-35-13h2m-54 3h2m42-3h2m-38-7h2m101-8h2m-39 4h2m-28 15h2m-23 15h2m42-12h2m10-5h2m-6-8h2m-63-13h2m36 20h2m-56 7h2m56-15h2m21-11h2m-13 15h2m-46 9h2m65-7h2m-8-5h2m-14-23h2m-5 30h2m17-8h2m-9 10h2m-1-10h2m-11 8h2m-99 4h2m30 16h2m78-14h2m27-23h2m-37 21h2m17-21h2m9 8h2m-88-10h2m20 26h2m39-4h2m1 6h2m-91-7h2m11-11h2m-25 32h2m96-30h2m-27 13h2m-4-14h2m-16-3h2m-19-7h2m-9 50h2m3-18h2m63 2h2m-47-56h2m53 28h2m-91-1h2m2 3h2m47 13h2m-48-22h2m11 20h2m11-6h2m-21-20h2m-4 7h2m33 5h2m-49 29h2m9-19h2m27-9h2m-20 26h2m48 5h2m-3-6h2m-66-26h2m63 12h2m-23-8h2m-63-7h2m-5 16h2m-12-16h2m72 29h2m-48-22h2m19 2h2m-14 2h2m77 21h2m-43-40h2m9 6h2m-91 26h2m46-26h2m8 7h2m23 1h2m-34 16h2m47-22h2m-113 21h2m126 5h2m-41 4h2m28-17h2m-23-11h2m-43 7h2m6 3h2m21 12h2m22 18h2m-68-49h2m11 29h2m-20-15h2m-16 13h2m34-26h2m-7 9h2m11-18h2m0 59h2m-23-33h2m-29 27h2m61-53h2m-25 25h2m23-6h2m26 4h2m-8 22h2m0-24h2m-79 9h2m18-3h2m-15 6h2m89-19h2m-48 15h2m-85 3h2m113 8h2m-56-29h2m51 0h2m-24 20h2m-48 6h2m-6-4h2m73-25h2m-31-4h2m-69 34h2m78-4h2m-52-20h2m-9 13h2m-24 37h2m34-38h2m5 28h2m2-49h2m-26 74h2m36-52h2m55-12h2m-64 25h2m19-40h2m-18 41h2m-10-27h2m-6 12h2m19 1h2m-35 27h2m81-46h2m-78 37h2m7-16h2m-8 15h2m-8-21h2m1 27h2m-39-16h2m62-16h2m-24 15h2m-45-18h2m60 16h2m1 16h2m9-10h2m-41-20h2m52 15h2m-42 12h2m13-18h2m-31 24h2m-88-34h2m100 12h2m48-7h2m-90 13h2m-20-12h2m44 6h2m-2 5h2m4-15h2m-11 4h2m-29 18h2m9-27h2m29 41h2m-39-22h2m-27 28h2m23-36h2m58 13h2m-70 10h2m21 14h2m-8-39h2m25 16h2m-35-18h2m38 19h2m-44 8h2m38-32h2m-19 36h2m6-49h2m39 16h2m-66 0h2m20 4h2m-13 18h2m-17 19h2m-48-13h2m36-16h2m93-16h2m-88 29h2m31-43h2m-26 50h2m-11-23h2m40-14h2m-39 24h2m12 7h2m-7-23h2m-40-2h2m97-19h2m-86 31h2m48 16h2m19-20h2m-39-4h2m68 9h2m-61 11h2m28-29h2m-36 28h2m-32-42h2m23 42h2m-12 6h2m-45-32h2m67 5h2m-34 0h2m1-14h2m-26 20h2m62 17h2m-51-7h2m-52 30h2m25-70h2m76 9h2m-17 14h2m-38 20h2m-7 2h2m-9 0h2m-36-5h2m127-30h2m-60 0h2m-41 28h2m-8-7h2m-61-5h2m109 29h2m15-40h2m-45 32h2m-34-9h2m9 1h2m43-6h2m11 10h2m-67-16h2m54-4h2m2-6h2m-63 11h2m-28-15h2m85-32h2m-9 74h2m-70-14h2m57-4h2m0-33h2m-33 45h2m-7-8h2m-7 4h2m60-20h2m-4 5h2m-35 5h2m-7-2h2m-57-7h2m67 16h2m-35 1h2m25 1h2m-3-1h2m9-29h2m-31 12h2m9 4h2m-38-34h2m76 23h2m-39 19h2m40 5h2m-36-6h2m-6-12h2m-30 9h2m93-6h2m-72 21h2m-43 15h2m3-23h2m43-5h2m-5-15h2m-50 16h2m-5-10h2m30 13h2m4-9h2m16-3h2m-38 26h2m30-27h2m-18 11h2m-27 0h2m-21-24h2m35-9h2m56 34h2m-64 3h2m32-1h2m-12-6h2m44 6h2m-46 11h2m49-33h2m-103 5h2m-6 2h2m60-10h2m-18 21h2m-10-10h2m15 0h2m-22 19h2m6-17h2m12 25h2m-35-33h2m42 4h2m4-3h2m11-16h2m-41 1h2m-4 32h2m19-3h2m15 15h2m-27-31h2m26-14h2m0 38h2m-31-30h2m-41 22h2m8-3h2m31 8h2m29-39h2m10 37h2m-40-4h2m-26-25h2m-35 35h2m18-10h2m47 18h2m-61-12h2m71-5h2m21-13h2m-129 27h2m18-5h2m7-8h2m36 24h2m-43-6h2m5-30h2m-61 1h2m96 15h2m-27-19h2m-36 20h2m66-16h2m-62-9h2m24 27h2m11-34h2m-4 10h2m-18 24h2m-18-5h2m5 17h2m30-14h2m-92-3h2m59-3h2m-17 2h2m-7-6h2m44 3h2m-20 16h2m29-10h2m-36-16h2m12 30h2m-56-35h2m77 24h2m-80-19h2m30 22h2m14-21h2m-56-5h2m71 18h2m-3-30h2m-54 3h2m20 32h2m23 4h2m25-6h2m25-27h2m-66 10h2m-23-37h2m3 62h2m29-14h2m11-24h2m34 15h2m-35 2h2m4-7h2m-52 7h2m-53-17h2m91 7h2m-36 25h2m-57-21h2m47 31h2m73-19h2m-60-34h2m2 45h2m-48-13h2m42 25h2m-48-22h2m99-21h2m-81 7h2m4 5h2m-22-23h2m60 23h2m-1-6h2m-25 3h2m36 4h2m-115 6h2m71 25h2m-6-28h2m-21-13h2m-13 13h2m-12 12h2m34 2h2m9-32h2m-37 36h2m90-15h2m-92-5h2m13 0h2m50-32h2m-44 21h2m-34 32h2m-72-1h2m-18-18h2m163 22h2m-91-66h2m68 52h2m40-26h2m-99 5h2m28 11h2m-54 5h2m39-22h2m-54 35h2m16 19h2m33-39h2m52 10h2m-3-47h2m-55 36h2m21 42h2m-5-38h2m-53-1h2m13 2h2m11 12h2m60-23h2m-102 2h2m22 36h2m16-46h2m3 9h2m19-4h2m-21 10h2m67 29h2m-26-37h2m-14 3h2m33 16h2m-65 4h2m-65-27h2m44 6h2m13-25h2m12 24h2m-54 18h2m-11 5h2m44-25h2m-37 10h2m3 16h2m-21-2h2m87-16h2m-74 6h2m-38 30h2m20-14h2m42-23h2m-9 1h2m-25 21h2m-37-8h2m72-25h2m-65 13h2m46 0h2m3 7h2m-2 10h2m69-34h2m-90 30h2m2-25h2m36-6h2m-47 23h2m10-2h2m10 4h2m19 18h2m-50-13h2m49-23h2m25 47h2m-57-33h2m74-31h2m-52-10h2m-73 54h2m32 3h2m-13-12h2m15-3h2m55-18h2m-44 18h2m-45 8h2m0-42h2m21 15h2m11 38h2m-41-25h2m88 11h2m9-9h2m-69-21h2m51 20h2m-121 25h2m32-36h2m-17 0h2m59 24h2m-48 17h2m-3-14h2m18-8h2m1-19h2m6 40h2m6-15h2m33-22h2m-48 12h2m28 20h2m-132-5h2m54-24h2m2 4h2m62 40h2m3-33h2m-22 17h2m-49-12h2m21 2h2m22-10h2m1-20h2m-16 17h2m-31-2h2m-2 11h2m34-16h2m-22 23h2m-8-7h2m-43 6h2m79-11h2m-48-8h2m-4 11h2m-2-2h2m85-17h2m-83 4h2m-11 26h2m80-14h2m-72 23h2m45-21h2m-43 4h2m24 3h2m-1-3h2m-15 0h2m-20-8h2m25-25h2m-21 13h2m10 19h2m-5-15h2m-21 11h2m44 4h2m-39-4h2m6 3h2m-23 0h2m52 2h2m-9-9h2m-4 7h2m-65 115h2m-27-50h2m19 25h2m67-57h2m-75 153h2m-25-162h2m56-4h2m30 31h2m-45 25h2m-3 73h2m10-101h2m-35 38h2m57-61h2m-44 15h2m-16 35h2m58-55h2m-73 107h2m22-115h2m19 19h2m-19-17h2m-14 52h2m63 123h2m-55-163h2m-4 107h2m12-88h2m-7 56h2m-15-2h2m17-16h2m12-51h2m-43 6h2m2-3h2m-21-7h2m26 63h2m3 77h2m12-81h2m-77 50h2m38-101h2m23 94h2m7-45h2m-3 53h2m-24 21h2m-1-22h2m13-118h2m-10 22h2m11 133h2m-42-63h2m4 55h2m61-98h2m-48 100h2m1-72h2m-81 33h2m88 62h2m6-147h2m-24 4h2m8 71h2m-46-38h2m53 19h2m-30-70h2m9 75h2m33-28h2m-60 97h2m68-140h2m-41 28h2m-15 39h2m18-74h2m22 62h2m-45 67h2m25-132h2m4 68h2m-98 97h2m56-148h2m28-4h2m-22 42h2m4-55h2m-1 32h2m-41 25h2m60 17h2m-2-88h2m-43 72h2m4 8h2m-26-21h2m-24 90h2m44-46h2m8-92h2m-19 12h2m-10 22h2m21 58h2m5-77h2m-16 42h2m2-52h2m4 65h2m-45 47h2m-4-63h2m48-29h2m21-28h2m-60 71h2m28-67h2m-11 48h2m-11-5h2m6-28h2m28 51h2m-79-63h2m42-2h2m-27 70h2m17-22h2m-62 116h2m55-8h2m-32-134h2m34 22h2m16-14h2m16-13h2m-29 19h2m-15 101h2m26-115h2m-34 120h2m9-105h2m-4 51h2m10 18h2m15-46h2m-20 73h2m15-29h2m23-54h2m-61-58h2m11 143h2m18 4h2m-36-70h2m-30-72h2m13 58h2m53-32h2m-43-3h2m21 77h2m-11-105h2m-42 160h2m-6-3h2m0-158h2m82 49h2m-115 33h2m92-72h2m-9 30h2m-27-34h2m-6 44h2m12 23h2m-41 6h2m47-5h2m-1 15h2m-47-54h2m49 64h2m-33-47h2m47 106h2m-29-104h2m3-2h2m-36 120h2m33-162h2m-56 52h2m4-26h2m60 68h2m-29-58h2m5 130h2m-23-151h2m32 71h2m-44 39h2m21-41h2m-31 20h2m-11-39h2m29-78h2m12 111h2m8-25h2m-28-73h2m19-6h2m21 70h2m-46-30h2m-39 98h2m36-43h2m21-97h2m-18 80h2m7-52h2m-11 2h2m16-3h2m-6-13h2m-28 44h2m-13 26h2m-6-76h2m-27 59h2m57 51h2m-34-94h2m-7 39h2m29-52h2m9-5h2m-61 42h2m-13 92h2m32-68h2m14-28h2m-35 54h2m51-74h2m-39 17h2m-32 15h2m31 36h2m35-96h2m-23 62h2m10-48h2m-47 138h2m12-22h2m3-16h2m26-53h2m-43 18h2m38-40h2m13-13h2m-42 64h2m-39 49h2m23-131h2m11 5h2m40 90h2m-32-64h2m-66 49h2m50-57h2m31-24h2m3 6h2m-18-13h2m-10 46h2m-10 35h2m15 31h2m-28-89h2m-16 103h2m47-63h2m-50 95h2m86-26h2m-53-112h2m6 118h2m-35 30h2m-7-114h2m-4 8h2m-36 112h2m98-156h2m-22 28h2m-27-47h2m21 11h2m-43 35h2m-31-30h2m46 17h2m-13 104h2m31-107h2m-22-7h2m-33 74h2m24-20h2m-56 46h2m4-5h2m-47 59h2m98-138h2m30 26h2m-48 46h2m10 4h2m-26-49h2m4 9h2m1-75h2m38 32h2m7 45h2m-45-63h2m-20 44h2m-8 60h2m20-91h2m7-12h2m11 78h2m-12-69h2m-26 111h2m23-64h2m4-10h2m-26-38h2m-25 51h2m-26 28h2m26 64h2m13-26h2m43-23h2m-14-91h2m-13 28h2m8-28h2m-11 83h2m0 36h2m5-140h2m8 9h2m-3 74h2m-10-36h2m2 14h2m-24-62h2m-13 62h2m-8 50h2m12-88h2m9 17h2m-44 63h2m28-20h2m-14 31h2m-18-3h2m17-107h2m21 14h2m0 17h2m15 26h2m-51-28h2m15-32h2m4 51h2m3 41h2m-32 19h2m61-10h2m2-35h2m16-43h2m-74-29h2m15 76h2m-1-4h2m-5-23h2m-20-19h2m-50 145h2m101-161h2m-16 72h2m13-1h2m-29-47h2m-34 1h2m2 68h2m2 58h2m-9-125h2m5 49h2m31 36h2m-15-114h2m-27 75h2m-4-84h2m49 72h2m-108 45h2m72 48h2m-46-42h2m10 59h2m11-44h2m-51 17h2m41 8h2m-79-48h2m71 39h2m30-40h2m-51 53h2m25 1h2m-2-4h2m11-60h2m-109 82h2m93-32h2m16 31h2m-13-20h2m2 1h2m-12-20h2m-41-37h2m11 31h2m14 42h2m-4-34h2m3-36h2m-75 28h2m30-11h2m38-27h2m-34 7h2m-8 24h2m-52 45h2m6-24h2m7-32h2m-31 7h2m57 11h2m16 57h2m-50-6h2m15-32h2m-22 23h2m5-2h2m-32 28h2m69-85h2m-60 0h2m48 24h2m-12 22h2m3-16h2m-300 3h2m18-60h2m-119 139h2m121-104h2m17 85h2m-29-52h2m56 28h2m-71-8h2"/>
<path transform="scale(0.5)" stroke="#1f8a4c" stroke-width="2.2" stroke-opacity="0.9" fill="none" d="M381 1420h2m16 34h2m-39-34h2m-13-18h2m-53 31h2m124-32h2m-78 35h2m34 4h2m-3 2h2m0-10h2m-7 6h2m-8-47h2m12 11h2m-4 12h2m11 9h2m-38 28h2m5-28h2m41-28h2m-15 58h2m-65 4h2m-16-14h2m94-3h2m-14-23h2m-60 7h2m-1-22h2m-6 55h2m-6 33h2m120-62h2m-30-24h2m-83 4h2m63 41h2m-81-40h2m39 29h2m12 37h2m4-13h2m-10-43h2m-39 23h2m60-14h2m-70-25h2m28 56h2m-18-36h2m25 73h2m-36-73h2m14 45h2m8-63h2m-50 19h2m70-7h2m-41 2h2m78 17h2m-128-14h2m33 9h2m5 20h2m35-84h2m-61 65h2m67 31h2m3-34h2m-38 10h2m8 5h2m-72 5h2m53-37h2m4 60h2m61-94h2m-58 82h2m14-45h2m12 25h2m-41 43h2m27-56h2m-41 26h2m38-37h2m-37 36h2m-19-5h2m32-3h2m-9-17h2m-54 29h2m26-57h2m40-3h2m-30 60h2m14-47h2m-3 20h2m38 14h2m34-50h2m-71 47h2m8 30h2m-37-56h2m12 12h2m42-4h2m-26 11h2m-43 29h2m-24-52h2m15 4h2m10 16h2m23 45h2m-37-48h2m25 22h2m-3-12h2m-24 11h2m27-36h2m10 11h2m-5 41h2m-43-96h2m17 36h2m-4-11h2m-19 41h2m50 1h2m-4-74h2m-78 100h2m10-45h2m48 22h2m-8-6h2m-44-12h2m0 20h2m14 22h2m-46-23h2m123-58h2m-21 22h2m-37 33h2m-8-7h2m-40 39h2m40-42h2m-17 59h2m-35-97h2m-15 15h2m6 50h2m41-37h2m2-12h2m7 65h2m-48-4h2m45-19h2m-34 21h2m25-19h2m-36-30h2m22-8h2m-67-4h2m35 10h2m-19 1h2m14 43h2m66-13h2m-102-4h2m66-5h2m46-51h2m11 16h2m-73 30h2m17-10h2m-20 11h2m4-12h2m-38 3h2m64-17h2m-32 9h2m-58 24h2m-10-30h2m114 14h2m-72 11h2m41-12h2m-57 21h2m34-42h2m-27 19h2m6 24h2m-15-24h2m46-23h2m-26 32h2m-1 9h2m16-22h2m25 26h2m-49-41h2m18 39h2m-36 25h2m70-87h2m-37 56h2m-40 2h2m64-25h2m-62 36h2m24-11h2m-31 4h2m15 11h2m-4-52h2m-28 18h2m59 16h2m0-18h2m-43 48h2m2-56h2m-5 47h2m-1-32h2m-58 30h2m44-56h2m11-19h2m-75 89h2m50-24h2m26-16h2m-12-10h2m-61 40h2m68-64h2m-39 76h2m62-28h2m-50 22h2m3-6h2m-26-43h2m-35 64h2m0-36h2m44-52h2m-17 25h2m-48 14h2m42-5h2m12 55h2m55-65h2m9 1h2m-57 16h2m82-37h2m-37 27h2m-74-2h2m-58 1h2m26 44h2m41-34h2m55-81h2m-118 132h2m81-50h2m-45 33h2m43-20h2m-14-6h2m-5-12h2m-15-1h2m48 65h2m-56-107h2m-1 28h2m-25 52h2m-25-5h2m-6-53h2m77 56h2m-77-2h2m11-17h2m71-7h2m-11-45h2m-3 67h2m-10-24h2m-41-34h2m96 8h2m-71 23h2m-60-39h2m31 39h2m9 11h2m47-75h2m-49 59h2m-9 21h2m-26 12h2m58-54h2m-18-53h2m-31 59h2m3 15h2m8 47h2m62-20h2m-29 14h2m-42-29h2m28 1h2m-29 23h2m-3-45h2m-30 3h2m58 1h2m8 26h2m-62 23h2m18 0h2m29-50h2m-3 52h2m-26-40h2m9 64h2m-47-109h2m53 27h2m-90 51h2m28-42h2m58 42h2m-49-40h2m68 10h2m1-23h2m-11 43h2m-18-7h2m-38-25h2m-25-6h2m-19-17h2m52 28h2m24 6h2m-32-21h2m8 19h2m37 21h2m-29-8h2m-53 18h2m-4-16h2m61-4h2m-64 6h2m39-42h2m-4-7h2m16 47h2m6-25h2m-92-38h2m72 60h2m-28 15h2m46-38h2m-58 34h2m-5-49h2m30-13h2m70 42h2m-86-12h2m2 0h2m-18-23h2m2 45h2m27-14h2m-30 3h2m-17-22h2m55 61h2m-40-28h2m47-15h2m-52 19h2m-2-34h2m19 46h2m-6 3h2m-41-37h2m52-11h2m-24 13h2m-7-10h2m-98 4h2m47-26h2m30 32h2m-14 29h2m63 50h2m-38-75h2m-7 3h2m24 40h2m18-29h2m-46-25h2m9-13h2m-8 36h2m4-1h2m-37-10h2m11 18h2m13-36h2m-27 12h2m-62 16h2m110 26h2m-28-2h2m52-49h2m-54-5h2m4 54h2m48-56h2m-89 20h2m81-27h2m-52 12h2m11 25h2m-96 1h2m74-26h2m-84 13h2m112 17h2m96-27h2m-163 16h2m44-11h2m-58-1h2m43-1h2m12-36h2m31 46h2m-56 19h2m-14-38h2m10 19h2m24 8h2m-35-3h2m33-1h2m-39-12h2m-78-4h2m106-12h2m-42 15h2m-5 30h2m-24-58h2m68 31h2m26 16h2m33-37h2m-56 35h2m15-24h2m-36 5h2m-28-21h2m21 37h2m-28-41h2m21 15h2m-45 33h2m60-36h2m-46 60h2m19-34h2m-45 9h2m69-79h2m-17 61h2m28-3h2m-63 28h2m45-27h2m-20 31h2m9-69h2m-21 50h2m-5 1h2m-89-58h2m80-3h2m-23 48h2m-44-26h2m47 11h2m4 39h2m55-21h2m-64-20h2m3-16h2m11 56h2m34 32h2m-37-27h2m2-20h2m5 13h2m-14 9h2m-84-15h2m97 8h2m18-81h2m-51 84h2m-38-17h2m35 14h2m17-2h2m-25-21h2m-45-8h2m62 20h2m-52 14h2m22 22h2m19-44h2m19-1h2m10 0h2m-101 22h2m127-46h2m-55 26h2m45-14h2m-28 25h2m-50 3h2m7 31h2m1-33h2m15-24h2m-5-3h2m8 3h2m27-5h2m-71 9h2m-5-24h2m3 48h2m-5-25h2m65-36h2m-46 28h2m-65 37h2m16 10h2m-6-45h2m45 2h2m-7 37h2m16-36h2m-31 17h2m11 20h2m-23-11h2m-25-44h2m32 24h2m9 34h2m-68-49h2m14 22h2m28 10h2m11-14h2m57 36h2m-102-34h2m38-30h2m9 42h2m-11-45h2m-69 42h2m81-23h2m-41 37h2m11-32h2m6-10h2m20 35h2m75-32h2m-24-40h2m-124 51h2m146 18h2m-61-53h2m-45 29h2m31 33h2m-56-19h2m10 11h2m50-39h2m-31 64h2m-54-55h2m0 12h2m65 16h2m12-35h2m-74 24h2m35 32h2m-53-5h2m45-53h2m-10 43h2m-12 7h2m3-15h2m-54-9h2m93 5h2m10 59h2m-47-38h2m16-31h2m-24-23h2m79-2h2m-80 41h2m79-26h2m-67 2h2m9 12h2m-32 1h2m-62-31h2m64 6h2m23-38h2m-50 57h2m37 24h2m69-30h2m-101 23h2m-19 5h2m-5-28h2m16-13h2m18 64h2m-37-76h2m-26 14h2m18 32h2m-28 20h2m70-71h2m-39 36h2m20-2h2m36 40h2m-30 14h2m-46-41h2m63-2h2m-42-4h2m-11-5h2m-20 24h2m53 6h2m23-39h2m-126-31h2m46 38h2m17 27h2m7-26h2m33 0h2m-95 56h2m85-54h2m-51 141h2m3-71h2m-15 22h2m26 20h2m-32 12h2m14-51h2m-43 32h2m34-19h2m-31-15h2m-17 46h2m26 1h2m22 19h2m-6-18h2m-25-5h2m5 23h2m21-49h2m231-280h2m3-49h2m-50 58h2m27-17h2m0-3h2m33-12h2m6-3h2m6 17h2m-47 8h2m-18-21h2m23 44h2m-58-36h2m54-9h2m-66-2h2m60 7h2m-14-5h2m-1-3h2m-46 28h2m32-11h2m-10 124h2m-45-27h2m21 14h2m45 20h2m-75 13h2m-13-2h2m47 27h2m5 3h2m44 3h2m-110-105h2m26 34h2m58 43h2m-53-12h2m-11 16h2m49-52h2m-29 43h2m-93-43h2m88 38h2m-19-22h2m13-5h2m-17 38h2m-16 12h2m2-22h2m47 31h2m-12-72h2m-52 26h2m71-89h2m-36 121h2m-27-46h2m-66 42h2m77-22h2m33-24h2m-18-4h2m13 8h2m-56 35h2m51-39h2m-60 3h2m52 59h2m18-67h2m-5 24h2m-33 54h2m17-97h2m-28 75h2m52-77h2m-51 23h2m-9 71h2m25-37h2m-42 46h2m-11-63h2m67 32h2m-17 7h2m24-25h2m-53-35h2m-27 57h2m49 7h2m-49-39h2m-34 33h2m45-37h2m33 62h2m2-30h2m-27 1h2m40-32h2m-98 26h2m60-7h2m-15-19h2m-42-47h2m14 61h2m6-37h2m-14 47h2m34 36h2m6 9h2m-68-80h2m48 18h2m-31 42h2m19-17h2m-2-51h2m-22 5h2m-72 83h2m61-24h2m27-8h2m-33-6h2m-44-17h2m48 57h2m-63-59h2m19 60h2m4-51h2m42-19h2m13 12h2m-58 42h2m8 8h2m23-28h2m-58 13h2m-27-53h2m-15 17h2m9 26h2m7 15h2m-20 1h2m15 24h2m60-76h2m-53 16h2m47 33h2m-46-36h2m47 30h2m-46-9h2m-16-29h2m-21-13h2m11 5h2m6 85h2m-39-42h2m7-3h2m72-4h2m-1 28h2m-77-13h2m-12-12h2m76 20h2m-41-32h2m20 43h2m-64-24h2m58 10h2m-55 30h2m-5-42h2"/>
<rect x="39.3" y="575.3" width="301" height="224" fill="none" stroke="#444" stroke-width="1"/><text x="56.60" y="811.34" text-anchor="middle" font-size="9.5" fill="#111">0</text><text x="33.40" y="791.12" text-anchor="end" font-size="9.5" fill="#111">0</text><text x="112.50" y="811.34" text-anchor="middle" font-size="9.5" fill="#111">1</text><text x="33.40" y="751.12" text-anchor="end" font-size="9.5" fill="#111">1</text><text x="168.40" y="811.34" text-anchor="middle" font-size="9.5" fill="#111">2</text><text x="33.40" y="711.12" text-anchor="end" font-size="9.5" fill="#111">2</text><text x="224.30" y="811.34" text-anchor="middle" font-size="9.5" fill="#111">3</text><text x="33.40" y="671.12" text-anchor="end" font-size="9.5" fill="#111">3</text><text x="280.20" y="811.34" text-anchor="middle" font-size="9.5" fill="#111">4</text><text x="33.40" y="631.12" text-anchor="end" font-size="9.5" fill="#111">4</text><text x="336.10" y="811.34" text-anchor="middle" font-size="9.5" fill="#111">5</text><text x="33.40" y="591.12" text-anchor="end" font-size="9.5" fill="#111">5</text><path d="M56.60 799.30v2.6M39.30 787.70h-2.6M112.50 799.30v2.6M39.30 747.70h-2.6M168.40 799.30v2.6M39.30 707.70h-2.6M224.30 799.30v2.6M39.30 667.70h-2.6M280.20 799.30v2.6M39.30 627.70h-2.6M336.10 799.30v2.6M39.30 587.70h-2.6" stroke="#444" stroke-width="1" fill="none"/><text x="43.4" y="594.2" font-size="17.8" font-weight="bold" fill="#2d3592">Manual gating (B)</text><text x="192.2" y="829.4" text-anchor="middle" font-size="14.4" fill="#111">log10(Alexa Fluor 488)</text><text transform="translate(21.0 683.1) rotate(-90)" text-anchor="middle" font-size="14.3" fill="#111">log10(PI)</text><path transform="scale(0.5)" stroke="#f1e51c" stroke-width="2.2" stroke-opacity="0.85" fill="none" d="M1062 1405h2m-1 15h2m17 34h2m-52-52h2m52-9h2m-108 40h2m98-35h2m27 3h2m-80 35h2m35 4h2m-8-16h2m3 18h2m-6-5h2m-8-47h2m14 41h2m31-55h2m-36 26h2m-17 13h2m-13 35h2m5-27h2m30 29h2m-67 5h2m-17-14h2m160-53h2m-98 9h2m31 41h2m-15-23h2m-61 7h2m-1-22h2m-6 55h2m-6 32h2m30-60h2m90-1h2m-30-24h2m-24 24h2m4 21h2m35-11h2m-131-12h2m9-17h2m40 28h2m12 37h2m2-64h2m1 52h2m-12-15h2m-1-28h2m-40 23h2m40-13h2m19-2h2m-71-25h2m12 21h2m-9-1h2m24-17h2m-50 18h2m17-30h2m85 43h2m-114-32h2m101-14h2m-67-33h2m-48 65h2m35 9h2m5 20h2m35-84h2m-62 65h2m1-30h2m34 37h2m8 4h2m-74 5h2m41-51h2m-16 11h2m26 4h2m5 5h2m-35 53h2m30 2h2m62-95h2m-59 83h2m28-91h2m-6 57h2m3 14h2m35-19h2m-72 24h2m20-18h2m-41 26h2m103-49h2m-67 11h2m-55 32h2m32-4h2m-61-22h2m69-31h2m-20 36h2m7 6h2m7-37h2m5 37h2m-38 24h2m54-57h2m-41 9h2m-3 20h2m-16 30h2m90-65h2m-73 47h2m37-25h2m-31 55h2m0-89h2m-13-9h2m-28 41h2m74-16h2m-65 29h2m44-4h2m-27 10h2m-44 30h2m-24-52h2m27 20h2m24 45h2m22-114h2m-35 75h2m-24 12h2m16-8h2m3-37h2m38-22h2m-36 31h2m10 11h2m-5 41h2m-25-84h2m24 52h2m-26-12h2m-3-17h2m-4-10h2m-19 40h2m50 1h2m-3-74h2m-68 56h2m35 3h2m12 19h2m-8-7h2m-27 30h2m-47-23h2m126-57h2m-21 21h2m-44 27h2m12-30h2m53 18h2m-65-29h2m-4 38h2m-17 59h2m-36-98h2m-16 16h2m50 13h2m35-20h2m-35 8h2m56-2h2m-97 62h2m46-19h2m-35 22h2m26-19h2m-37-30h2m23-9h2m-68-4h2m57 12h2m-23-1h2m8 29h2m-30-29h2m14 44h2m49-30h2m17 17h2m-105-4h2m117-56h2m11 15h2m-74 30h2m17-9h2m-20 10h2m4-12h2m-39 4h2m86-29h2m-62 32h2m37-20h2m-33 8h2m14 0h2m5 5h2m-67-25h2m-17 44h2m-10-30h2m117 15h2m-74 11h2m14 9h2m26-21h2m-58 21h2m-3-37h2m36-5h2m37-5h2m-91 67h2m17-43h2m67-10h2m-21-14h2m-28 32h2m0-13h2m-12 6h2m8 17h2m-22-3h2m64 7h2m-17-18h2m24-46h2m-38 56h2m27-23h2m-53-12h2m-12 48h2m24-12h2m-32 5h2m0-18h2m-13 28h2m25 1h2m-5-52h2m-27 18h2m60 15h2m-27-12h2m25-5h2m-44 47h2m2-56h2m-5 48h2m83-33h2m-86 1h2m-60 30h2m45-56h2m46-26h2m-111 96h2m51-25h2m82-35h2m-95 13h2m0 49h2m63-28h2m-46 16h2m-27-43h2m37 27h2m-73 0h2m69-23h2m-41-3h2m23 4h2m-74 10h2m43-6h2m153-32h2m-142 14h2m27-16h2m41 53h2m-5-27h2m-58 16h2m84-37h2m-32 15h2m-8 11h2m-45-16h2m-33 14h2m18-2h2m-51 48h2m43-35h2m-63 52h2m83-50h2m-46 32h2m32-25h2m-19-13h2m50 65h2m-80-28h2m-26-5h2m24-21h2m-31-31h2m78 56h2m-44-8h2m81 11h2m-70-39h2m65-25h2m-74 5h2m71 3h2m-106 33h2m72-6h2m-11-45h2m-11 43h2m59-26h2m-73 23h2m27-51h2m-90 12h2m42-7h2m-13 46h2m10 11h2m48-76h2m-57 80h2m-27 13h2m-19-61h2m76 7h2m1-6h2m-21-48h2m-32 60h2m3 15h2m9 46h2m6-79h2m55 59h2m-30 14h2m-1-14h2m-44-14h2m76 21h2m-49-20h2m-29 23h2m-32-43h2m8 50h2m112-93h2m-65 96h2m-27-40h2m10 64h2m-7-104h2m22 18h2m-67-23h2m-36 78h2m10-47h2m17 4h2m26-48h2m31 90h2m22-15h2m-3-14h2m-39-32h2m56-17h2m-20 26h2m-54 9h2m-36-30h2m22 31h2m92-23h2m-82 29h2m18 8h2m5-2h2m-43-54h2m18 52h2m-11-27h2m48 48h2m-44 29h2m12-38h2m-54 19h2m-4-17h2m62-3h2m-4-22h2m-63 28h2m38-49h2m16 47h2m42-44h2m-37 18h2m-35-17h2m14 39h2m71-61h2m-101 77h2m12-41h2m13-21h2m17 23h2m-59 34h2m-5-49h2m104 30h2m-88-13h2m-14-22h2m32 30h2m13 42h2m-42-23h2m78-4h2m-82-31h2m6 2h2m7 48h2m61-27h2m-105-10h2m67-27h2m-19 69h2m7-75h2m-7 22h2m-25 13h2m92-17h2m-200 10h2m46 32h2m0-58h2m31 33h2m-14 28h2m67-50h2m-2 31h2m-20 38h2m19-29h2m-30-87h2m-19 62h2m5 3h2m2-16h2m-8 35h2m4 0h2m24-13h2m-66-14h2m29-1h2m-28 12h2m22-9h2m-87 24h2m83-43h2m52 22h2m13 34h2m-13-51h2m-88-61h2m87 101h2m-56-28h2m11 25h2m2-24h2m23-16h2m-46 0h2m-1 1h2m-7 14h2m-86 13h2m115 17h2m98-27h2m-155 1h2m-13 15h2m45-11h2m5-38h2m-66 37h2m44-37h2m-29 2h2m26 35h2m11-37h2m32 46h2m-58 19h2m-14-39h2m45 38h2m-43-13h2m33-1h2m-40-13h2m78-11h2m-160 8h2m110-13h2m-44 16h2m-4-12h2m-3 42h2m-25-59h2m70 32h2m27 15h2m34-36h2m-49-47h2m5 83h2m-27-46h2m25 21h2m-27-6h2m-12 10h2m-28-20h2m24-30h2m-68 29h2m61 38h2m-29-42h2m126 40h2m-150 9h2m62-36h2m-26 26h2m-3 8h2m-45 0h2m71-79h2m-18 61h2m-34 26h2m28 3h2m-4-43h2m-8 24h2m9 31h2m-16-29h2m3 8h2m-25-28h2m-73-39h2m102-23h2m-3 81h2m43-24h2m-25-1h2m-65 13h2m32 32h2m36-30h2m-48 21h2m0 5h2m23-72h2m-23 51h2m5 14h2m-14 8h2m-30-29h2m-58 14h2m99 9h2m-32 2h2m-39-17h2m56 13h2m-26-21h2m-32 26h2m127-1h2m-84-22h2m19 0h2m10 0h2m-103 22h2m64-23h2m10-1h2m52-22h2m-56 25h2m59-25h2m-14 12h2m-78 28h2m6 31h2m2-34h2m-17-16h2m54 10h2m-26-17h2m-58 34h2m51-38h2m8 4h2m-42 4h2m-5-24h2m3 48h2m63-61h2m-9 45h2m-28-4h2m-14-14h2m-67 37h2m86-31h2m-23-11h2m-21 48h2m-36-40h2m52-21h2m-12 60h2m-14-19h2m52-57h2m2 46h2m-48-30h2m-21 50h2m80-51h2m-109 7h2m34 24h2m-42 6h2m94-40h2m-96 39h2m77 2h2m29 9h2m-70-44h2m-70 42h2m83-24h2m-28 6h2m65-30h2m-61 19h2m20 36h2m-7-8h2m86 5h2m-63-53h2m15 35h2m-62-7h2m-10-33h2m-16 47h2m10 12h2m52-39h2m-84 21h2m81-19h2m-38 56h2m8-82h2m-15 24h2m17-6h2m-29 48h2m-13 8h2m28-43h2m-27 28h2m42-4h2m19 4h2m-79-15h2m67 70h2m-48-38h2m12-23h2m-20-31h2m80-3h2m-82 41h2m15-24h2m9 13h2m29-13h2m-64 14h2m-62-32h2m86 67h2m-23-60h2m-26 18h2m111-6h2m-104 24h2m-9-41h2m21 13h2m-35 32h2m77-22h2m-84-6h2m16-12h2m53 52h2m-69 17h2m7-23h2m22 18h2m-38-76h2m66 47h2m-100 19h2m71-72h2m-40 36h2m60 46h2m-12-78h2m-66 43h2m64-1h2m-42-4h2m-11-6h2m35 31h2m-54-32h2m18 26h2m7-26h2m33 0h2m-97 57h2m87-54h2m-52 141h2m-10-49h2m27 20h2m-33 12h2m14-52h2m-43 33h2m34-20h2m-31-15h2m-18 47h2m69 14h2m-20 6h2m-6-18h2m-25-5h2m5 23h2m-6 6h2m248-342h2m27 0h2m-43-12h2m34 27h2m-33-15h2m20 7h2m-17 19h2m-33-2h2m77-32h2m-65-4h2m59 34h2m-27-65h2m-46 39h2m73 19h2m-83 0h2m35-21h2m27 5h2m-7 19h2m20-34h2m-78 23h2m13-5h2m40 6h2m-35-13h2m-3 3h2m-54 0h2m42-3h2m9 0h2m-49-7h2m103-8h2m-40 4h2m-29 16h2m-23 14h2m42-12h2m17-18h2m6-4h2m-16 17h2m-5-8h2m-65-13h2m36 21h2m-56 6h2m80-26h2m-13 15h2m-47 10h2m67-8h2m-8-5h2m-15-23h2m-5 30h2m18-8h2m-10 10h2m0-10h2m-12 9h2m-101 3h2m30 16h2m81-14h2m28-23h2m-39 21h2m17-21h2m10 8h2m-90-10h2m20 26h2m44 2h2m-93-7h2m11-11h2m-26 32h2m98-30h2m-27 14h2m-4-15h2m-17-3h2m-19-7h2m-9 50h2m3-18h2m65 2h2m-48-55h2m54 27h2m-93 0h2m2 2h2m48 13h2m-49-22h2m11 20h2m12-6h2m-22-20h2m-4 7h2m33 6h2m-50 28h2m10-19h2m27-9h2m-20 27h2m50 4h2m-4-5h2m-67-27h2m65 12h2m-24-8h2m-65-7h2m-5 16h2m-12-16h2m74 29h2m-49-22h2m19 2h2m-14 2h2m79 21h2m-44-40h2m9 6h2m-93 26h2m48-26h2m7 7h2m24 1h2m-35 16h2m49-21h2m-116 20h2m129 5h2m-42 4h2m28-17h2m-22-11h2m-45 7h2m6 3h2m22 12h2m23 19h2m-70-49h2m12 28h2m59-5h2m-82-10h2m-17 13h2m36-26h2m-8 9h2m11-18h2m3 40h2m-4 20h2m-24-34h2m-30 28h2m63-54h2m-26 26h2m24-7h2m27 4h2m-8 22h2m0-23h2m-81 8h2m18-3h2m-15 6h2m91-19h2m-49 15h2m-87 4h2m116 7h2m-57-29h2m52 0h2m-25 20h2m-49 7h2m-5-5h2m74-25h2m-32-4h2m-71 35h2m80-5h2m-53-20h2m-9 13h2m-24 37h2m35-38h2m4 28h2m2-49h2m-26 74h2m37-52h2m56-12h2m-65 25h2m19-40h2m-18 42h2m-10-28h2m-6 13h2m19 0h2m-36 27h2m84-46h2m-80 37h2m7-16h2m-8 15h2m-8-21h2m0 27h2m-15-31h2m-26 15h2m64-16h2m-25 15h2m-47-18h2m63 16h2m0 16h2m10-10h2m-43-20h2m53 15h2m-42 12h2m14-18h2m-33 24h2m-89-34h2m102 13h2m49-8h2m-92 13h2m-21-12h2m45 6h2m-2 6h2m5-16h2m-11 4h2m-30 18h2m9-27h2m-8 19h2m-27 28h2m24-35h2m58 12h2m-71 10h2m22 14h2m-8-39h2m25 16h2m-35-18h2m38 19h2m-45 8h2m39-32h2m-20 37h2m7-50h2m40 16h2m-68 0h2m21 4h2m-29 37h2m-49-13h2m37-16h2m96-15h2m-90 28h2m31-43h2m-27 50h2m-11-23h2m42-14h2m-41 24h2m13 7h2m-8-23h2m-40-2h2m99-19h2m-88 31h2m49 16h2m20-20h2m-40-4h2m70 9h2m-63 11h2m29-29h2m-37 28h2m-32-42h2m23 42h2m-12 6h2m-46-32h2m68 5h2m-35 0h2m2-14h2m10 56h2m-39-35h2m64 16h2m-52-6h2m-54 30h2m26-71h2m77 9h2m-16 14h2m-40 20h2m-6 2h2m-9 0h2m-38-5h2m130-30h2m-61 1h2m-42 27h2m-8-6h2m-62-6h2m111 29h2m15-40h2m-46 32h2m-34-9h2m9 1h2m44-6h2m11 10h2m-68-16h2m55-4h2m3-5h2m-65 10h2m-28-15h2m86-32h2m-80 49h2m55-9h2m12 34h2m-72-14h2m59-4h2m0-33h2m-34 45h2m-7-8h2m-7 5h2m61-21h2m-4 5h2m-36 5h2m-7-1h2m-57-8h2m68 17h2m-35 1h2m25 0h2m-3-1h2m9-29h2m-32 12h2m9 4h2m-38-34h2m78 23h2m-40 19h2m41 6h2m-37-7h2m-6-12h2m-30 9h2m94-6h2m-73 21h2m-44 15h2m3-23h2m44-4h2m-5-16h2m-51 16h2m-5-10h2m31 13h2m4-8h2m16-4h2m-39 27h2m30-28h2m-18 11h2m-27 0h2m-22-24h2m37-9h2m56 35h2m-65 2h2m33-1h2m-12-6h2m44 6h2m-46 11h2m51-33h2m-106 5h2m-7 2h2m63-10h2m-19 21h2m-11-10h2m16 0h2m-23 19h2m7-17h2m-22-8h2m43 4h2m5-3h2m11-16h2m-43 1h2m-3 32h2m19-2h2m16 14h2m-28-31h2m26-14h2m1 38h2m-32-30h2m-42 22h2m8-3h2m32 8h2m30-39h2m10 37h2m-41-4h2m-26-25h2m-36 35h2m18-10h2m-45-16h2m91 34h2m-62-12h2m72-5h2m22-13h2m-132 27h2m19-5h2m46 17h2m-44-6h2m5-31h2m-63 1h2m99 15h2m-28-19h2m-37 20h2m68-16h2m-63-9h2m24 27h2m12-34h2m-4 10h2m-18 24h2m-19-5h2m5 17h2m31-14h2m-94-3h2m60-3h2m-17 2h2m38-12h2m-47 6h2m45 3h2m-21 16h2m30-10h2m-36-16h2m11 30h2m-56-35h2m79 24h2m-83-18h2m31 21h2m15-21h2m-57-5h2m72 18h2m-3-30h2m-55 3h2m20 33h2m24 3h2m26-6h2m25-27h2m-67 10h2m-24-37h2m3 62h2m30-14h2m11-24h2m35 16h2m-35 1h2m3-7h2m-52 7h2m-55-17h2m93 8h2m-36 24h2m-59-21h2m48 32h2m75-20h2m-62-34h2m3 45h2m-49-12h2m43 24h2m-49-22h2m101-21h2m-77 12h2m-22-23h2m62 23h2m-1-6h2m-26 3h2m37 4h2m-117 6h2m72 25h2m-6-28h2m-22-12h2m-13 12h2m21-10h2m-35 22h2m34 2h2m10-31h2m-38 35h2m92-15h2m-94-5h2m13 0h2m52-32h2m-45 21h2m-35 32h2m-74-1h2m-18-18h2m167 22h2m-93-66h2m69 52h2m-58-21h2m29 12h2m-56 4h2m41-22h2m-56 35h2m16 19h2m35-39h2m53 10h2m-3-47h2m-57 36h2m22 42h2m-5-38h2m-54-1h2m13 2h2m12 12h2m61-23h2m-104 2h2m22 37h2m17-46h2m3 8h2m19-4h2m-21 10h2m68 29h2m-27-37h2m-13 4h2m33 15h2m-67 5h2m-65-28h2m44 6h2m14-25h2m12 24h2m-55 18h2m-11 5h2m45-25h2m-38 10h2m4 16h2m-22-2h2m89-16h2m-76 6h2m-16 16h2m43-23h2m-10 2h2m-25 21h2m-37-9h2m9-12h2m47 0h2m2 7h2m-2 10h2m72-34h2m-81 8h2m-14 22h2m2-25h2m37-6h2m-48 23h2m11-2h2m10 4h2m19 18h2m-50-13h2m49-23h2m26 47h2m-58-33h2m75-31h2m-53-10h2m-74 54h2m33 3h2m-14-12h2m15-3h2m57-18h2m-45 18h2m-44-34h2m21 15h2m12 38h2m-42-24h2m90 10h2m10-9h2m-71-21h2m52 20h2m-124 25h2m33-36h2m-18 0h2m-4 31h2m63-7h2m-49 17h2m-3-14h2m19-7h2m0-20h2m7 40h2m6-15h2m33-22h2m-49 12h2m29 20h2m-135-5h2m56-24h2m2 4h2m63 40h2m4-33h2m-23 17h2m-50-12h2m21 3h2m23-11h2m1-20h2m-17 17h2m-31-2h2m-2 11h2m34-16h2m-22 24h2m-8-8h2m-44 6h2m81-11h2m-49-8h2m-4 11h2m-2-2h2m86-17h2m-84 4h2m-11 27h2m81-15h2m-73 23h2m47-21h2m-42 3h2m-4 1h2m24 4h2m-2-4h2m-14 1h2m-21-9h2m25-24h2m-20 12h2m9 20h2m-5-16h2m-20 11h2m44 5h2m-40-5h2m7 3h2m-24 0h2m53 2h2m-9-9h2m-3 7h2m-67 115h2m-28-50h2m20 25h2m68-57h2m-76 153h2m30-60h2m-47-27h2m46-79h2m31 32h2m-46 25h2m-3 72h2m10-101h2m22 85h2m-59-47h2m58-61h2m-45 15h2m-17 35h2m60-55h2m-84 125h2m7-18h2m23-115h2m19 19h2m-20-17h2m-13 52h2m10-40h2m-4 107h2m-49 10h2m59-98h2m-7 57h2m-16-2h2m6 71h2m10-88h2m13-51h2m-44 6h2m20 135h2m-21-137h2m-20-8h2m25 63h2m4 78h2m-61-98h2m71 16h2m-37-50h2m23 94h2m7-45h2m-3 53h2m-24 20h2m-1-22h2m13-118h2m-10 23h2m-30 63h2m-2 6h2m59 37h2m-56 19h2m62-99h2m-49 101h2m1-73h2m-21 41h2m-64-8h2m90 63h2m6-148h2m-24 4h2m8 71h2m-47-38h2m55 19h2m-48 53h2m15-123h2m32 70h2m-25 5h2m34-28h2m-62 98h2m70-141h2m-41 28h2m-16 40h2m18-75h2m23 63h2m-46 66h2m25-132h2m5 68h2m-100 97h2m57-148h2m29-3h2m-23 41h2m4-55h2m0 32h2m-43 25h2m62 17h2m-3-87h2m-43 71h2m4 8h2m-2 53h2m-26-74h2m-25 91h2m45-47h2m8-92h2m-19 12h2m-10 22h2m21 59h2m5-78h2m-16 43h2m2-53h2m5 66h2m-47 47h2m-3-63h2m48-30h2m22-28h2m-61 72h2m28-68h2m-11 49h2m-11-6h2m6-27h2m29 50h2m-81-63h2m43-2h2m-27 70h2m17-21h2m-64 116h2m26-143h2m35 22h2m16-14h2m17-13h2m-30 19h2m-16 101h2m27-115h2m-114 55h2m77 66h2m11-28h2m-4-77h2m-4 50h2m11 19h2m-29-13h2m42-34h2m-20 73h2m-12-45h2m-32 50h2m53 10h2m1-44h2m23-54h2m-41 25h2m-23-83h2m31 147h2m-65-142h2m13 58h2m54-32h2m-44-3h2m13-27h2m-43 159h2m-6-3h2m0-158h2m84 49h2m-117 34h2m93-73h2m-9 31h2m-27-35h2m-7 44h2m13 24h2m-42 6h2m48-6h2m0 16h2m-49-55h2m51 64h2m-65 11h2m29-57h2m42-32h2m-37 122h2m11-89h2m4-2h2m-37 121h2m-12-77h2m43-86h2m-57 53h2m23 53h2m-21-80h2m62 69h2m-30-59h2m6 131h2m-24-152h2m32 72h2m-44 39h2m21-42h2m-32 21h2m-11-39h2m56 16h2m-29-95h2m13 111h2m9-25h2m-29-73h2m19-6h2m22 70h2m-47-30h2m-40 98h2m47-53h2m-13 11h2m23-98h2m-19 80h2m7-52h2m-11 3h2m17-4h2m-6-13h2m-54 115h2m22-71h2m-13 26h2m-6-75h2m-27 58h2m69 23h2m-13 28h2m-51-24h2m53 59h2m-40-129h2m57 62h2m-67-22h2m30-53h2m9-5h2m-62 42h2m22 25h2m14-29h2m-36 55h2m53-75h2m16 85h2m-59-68h2m-32 16h2m32 36h2m35-97h2m-23 63h2m10-49h2m-9 154h2m-41-15h2m12-22h2m4-16h2m26-54h2m-44 18h2m40-40h2m9 31h2m1-44h2m-32 119h2m-12-55h2m-40 49h2m23-131h2m12 5h2m40 90h2m-32-64h2m-68 49h2m51-57h2m33-24h2m3 6h2m-19-13h2m40 69h2m-52-23h2m-10 36h2m15 30h2m-29-89h2m-16 103h2m48-62h2m-20 28h2m57 40h2m-54-112h2m-16 142h2m21-24h2m-36 31h2m-7-115h2m42 72h2m-49-64h2m66-44h2m-22 28h2m-28-47h2m22 12h2m-44 34h2m-32-30h2m47 17h2m-13 105h2m32-108h2m-23-7h2m-34 75h2m25-21h2m-57 47h2m4-6h2m23-8h2m-73 67h2m100-138h2m31 27h2m4 75h2m-43-26h2m-26-49h2m4 10h2m1-76h2m38 32h2m8 45h2m16 46h2m-64-109h2m8 74h2m-30-30h2m-9 60h2m7 27h2m12-117h2m37 124h2m-33-137h2m13 79h2m-13-70h2m-27 112h2m24-65h2m-24 43h2m26-53h2m-26-38h2m-26 51h2m-26 28h2m9 45h2m77-30h2m-33-7h2m34 62h2m-20-145h2m-13 27h2m8-28h2m-9 119h2m5-140h2m9 9h2m-4 75h2m-10-37h2m3 15h2m-26-63h2m-13 62h2m-7 50h2m55 25h2m-45-112h2m9 16h2m-45 63h2m29-20h2m-31 29h2m45 25h2m42-32h2m-73-100h2m-30 127h2m49-114h2m0 17h2m15 26h2m-51-28h2m15-31h2m23 122h2m-21-72h2m-37 6h2m15 62h2m5-38h2m14 12h2m-30 35h2m35 37h2m27-98h2m16-43h2m-76-30h2m16 77h2m15 103h2m-18-108h2m-5-23h2m-21-19h2m-31 69h2m-22 77h2m104-162h2m-17 72h2m-22 31h2m34-32h2m-29-47h2m-36 1h2m3 69h2m-11 52h2m11 6h2m-9-125h2m4 49h2m33 35h2m-15-114h2m-29 75h2m12 57h2m-17-141h2m50 72h2m-39 17h2m-23 6h2m-9 58h2m27-8h2m1 20h2m-35 17h2m5-3h2m-37-49h2m-11 25h2m43 9h2m7-54h2m-103 11h2m68 47h2m-61-20h2m98-43h2m-93 57h2m-21 2h2m79-53h2m-82 76h2m76-26h2m35 25h2m-13-20h2m2 0h2m-12-20h2m-43-36h2m12 30h2m10 15h2m2 27h2m-51-37h2m-16-29h2m23 13h2m6-20h2m-55-5h2m12 5h2m-21 70h2m7-24h2m7-33h2m-32 8h2m37 63h2m20-53h2m16 57h2m-52-5h2m-30-40h2m7-4h2m74-4h2m-61 38h2m5-1h2m-26-22h2m-12-12h2m78 21h2m-43-33h2m35-12h2m-61 0h2m-20 31h2m56 15h2m-302-12h2m19-60h2m-122 139h2m124-105h2m17 86h2m-29-52h2m57 28h2m-73-8h2"/>
<path transform="scale(0.5)" stroke="#1f8a4c" stroke-width="2.2" stroke-opacity="0.9" fill="none" d="M1058 1421h2m-17-2h2m9-16h2m13 29h2m-1-18h2m12 9h2m28 19h2m-18-47h2m4 16h2m11 12h2m-13-25h2m-70 10h2m25 50h2m26-33h2m-19 70h2m-20-27h2m35-65h2m-5 13h2m-42 2h2m80 18h2m-4-65h2m-52-2h2m4 66h2m7 28h2m2-34h2m-35 4h2m-5-32h2m22 13h2m-27 68h2m-8-30h2m100-32h2m-146 36h2m26-57h2m32 21h2m35 22h2m-13-39h2m-63 10h2m0 14h2m25 21h2m14-64h2m-44-16h2m-28 92h2m12-40h2m0 19h2m-8-23h2m48 20h2m-47 31h2m95-55h2m-110 41h2m56 16h2m-10-31h2m22-28h2m-29-8h2m-21 20h2m6 24h2m29-28h2m-23-15h2m18 39h2m-36 25h2m15-67h2m-1 1h2m-21 36h2m6 0h2m48-27h2m4 32h2m-47-64h2m10 67h2m-16-39h2m7-12h2m-35 18h2m31 16h2m-13-10h2m25 0h2m-89 40h2m70-64h2m-23 70h2m-55 15h2m46-88h2m-4 89h2m56-66h2m-33 24h2m-97-17h2m128-71h2m-7-15h2m-28 110h2m-43 17h2m52-68h2m-30 33h2m-19-43h2m-2 28h2m-49 48h2m63-45h2m19-40h2m-10 82h2m-50-58h2m31-11h2m-4 45h2m83-8h2m-101 1h2m8-13h2m-14 4h2m31 4h2m8 26h2m-43 23h2m30-51h2m-6-6h2m-24 58h2m-26-46h2m66 0h2m-4 29h2m-33-13h2m12 7h2m11-36h2m-75 5h2m-20-17h2m50 12h2m9-6h2m-7 30h2m-10-52h2m38 40h2m-96-41h2m68 10h2m8 39h2m-20-9h2m-14 21h2m11-40h2m-15 29h2m-17-21h2m45-62h2m-29 94h2m48-14h2m-19-8h2m-15 38h2m-30-84h2m9 43h2m41-15h2m-6 104h2m-7-91h2m-34 15h2m-6 4h2m58-43h2m-90 11h2m62-9h2m-32 1h2m-31 37h2m11 19h2m63-34h2m-75-33h2m49 85h2m-29-2h2m54-49h2m-55-5h2m4 54h2m49-57h2m-91 21h2m-51 11h2m140-71h2m-62 50h2m-9 11h2m31-16h2m-9 24h2m24 7h2m-16-8h2m-26-28h2m-5-27h2m-25 83h2m64-46h2m-76 14h2m58-13h2m89 13h2m-101-51h2m-29-9h2m-67 22h2m48 10h2m14 1h2m-11 38h2m48-75h2m-58 35h2m4-16h2m47 87h2m-64-10h2m61-103h2m-50 81h2m14-41h2m-66 11h2m63 20h2m-28 36h2m-9-80h2m26 14h2m30 33h2m44-17h2m-22-6h2m-11-5h2m-74 9h2m-24 39h2m82-49h2m13-2h2m-57 7h2m11 1h2m-18 37h2m52-30h2m-72 11h2m14 22h2m-69-49h2m45 33h2m12-14h2m58 35h2m-64-64h2m10 43h2m-34 10h2m-2-28h2m120-10h2m-56 4h2m29-44h2m-126 51h2m43-16h2m33 43h2m-21 17h2m-55-56h2m68 29h2m-61-11h2m-16 27h2m-14-81h2m-9 54h2m81-6h2m61-9h2m-47-6h2m49 25h2m-63-68h2m-10 81h2m-32-48h2m-43 7h2m18 32h2m102-6h2m-123-29h2m47 19h2m37 40h2m-36-53h2m3 66h2m-49-27h2m80-33h2m-129-31h2m104-13h2m-46 124h2m-22 47h2m25-29h2m231-299h2m32 11h2m-22 21h2m-20-15h2m14 12h2m-40-18h2m6-15h2m89-9h2m-140 49h2m75-48h2m-46 25h2m-49 19h2m34 88h2m64 77h2m-1-13h2m-117-39h2m73 38h2m-32 4h2m-9-29h2m-12-10h2m30 19h2m-17-67h2m24 29h2m25 52h2m-134-21h2m113-42h2m-79 46h2m24 15h2m-32 15h2m37-2h2m5-61h2m38 36h2m-65 19h2m13-27h2m22-31h2m-27 11h2m24-10h2m-34 8h2m63-10h2m-114 11h2m-24 61h2m62-38h2m-45-18h2m29 2h2m-45-4h2m19 61h2m45-43h2m-86-22h2m73 39h2m27-33h2m-60 43h2m9 7h2m24-27h2m22-31h2m-83 44h2m-28-54h2m83 65h2m-2-5h2m-81 24h2m78-33h2m-71-27h2m3-4h2m51 24h2m3-36h2m-77 28h2m72-38h2m-42 31h2m-18 27h2m38 13h2m-86 36h2m58-30h2m3-32h2m-10 17h2m1-11h2m-59 42h2m-5-43h2"/>
<rect x="376.3" y="575.3" width="308.1" height="224.2" fill="none" stroke="#444" stroke-width="1"/><text x="394.30" y="811.25" text-anchor="middle" font-size="9.1" fill="#111">0</text><text x="370.40" y="790.98" text-anchor="end" font-size="9.1" fill="#111">0</text><text x="451.50" y="811.25" text-anchor="middle" font-size="9.1" fill="#111">1</text><text x="370.40" y="750.88" text-anchor="end" font-size="9.1" fill="#111">1</text><text x="508.70" y="811.25" text-anchor="middle" font-size="9.1" fill="#111">2</text><text x="370.40" y="710.78" text-anchor="end" font-size="9.1" fill="#111">2</text><text x="565.90" y="811.25" text-anchor="middle" font-size="9.1" fill="#111">3</text><text x="370.40" y="670.68" text-anchor="end" font-size="9.1" fill="#111">3</text><text x="623.10" y="811.25" text-anchor="middle" font-size="9.1" fill="#111">4</text><text x="370.40" y="630.58" text-anchor="end" font-size="9.1" fill="#111">4</text><text x="680.30" y="811.25" text-anchor="middle" font-size="9.1" fill="#111">5</text><text x="370.40" y="590.48" text-anchor="end" font-size="9.1" fill="#111">5</text><path d="M394.30 799.50v2.6M376.30 787.70h-2.6M451.50 799.50v2.6M376.30 747.60h-2.6M508.70 799.50v2.6M376.30 707.50h-2.6M565.90 799.50v2.6M376.30 667.40h-2.6M623.10 799.50v2.6M376.30 627.30h-2.6M680.30 799.50v2.6M376.30 587.20h-2.6" stroke="#444" stroke-width="1" fill="none"/><text x="384.6" y="594.2" font-size="17.8" font-weight="bold" fill="#2d3592">Manual gating (C)</text><text x="531.0" y="829.4" text-anchor="middle" font-size="14.4" fill="#111">log10(Alexa Fluor 488)</text><text transform="translate(360.4 683.1) rotate(-90)" text-anchor="middle" font-size="14.3" fill="#111">log10(PI)</text>
</svg></body></html>
